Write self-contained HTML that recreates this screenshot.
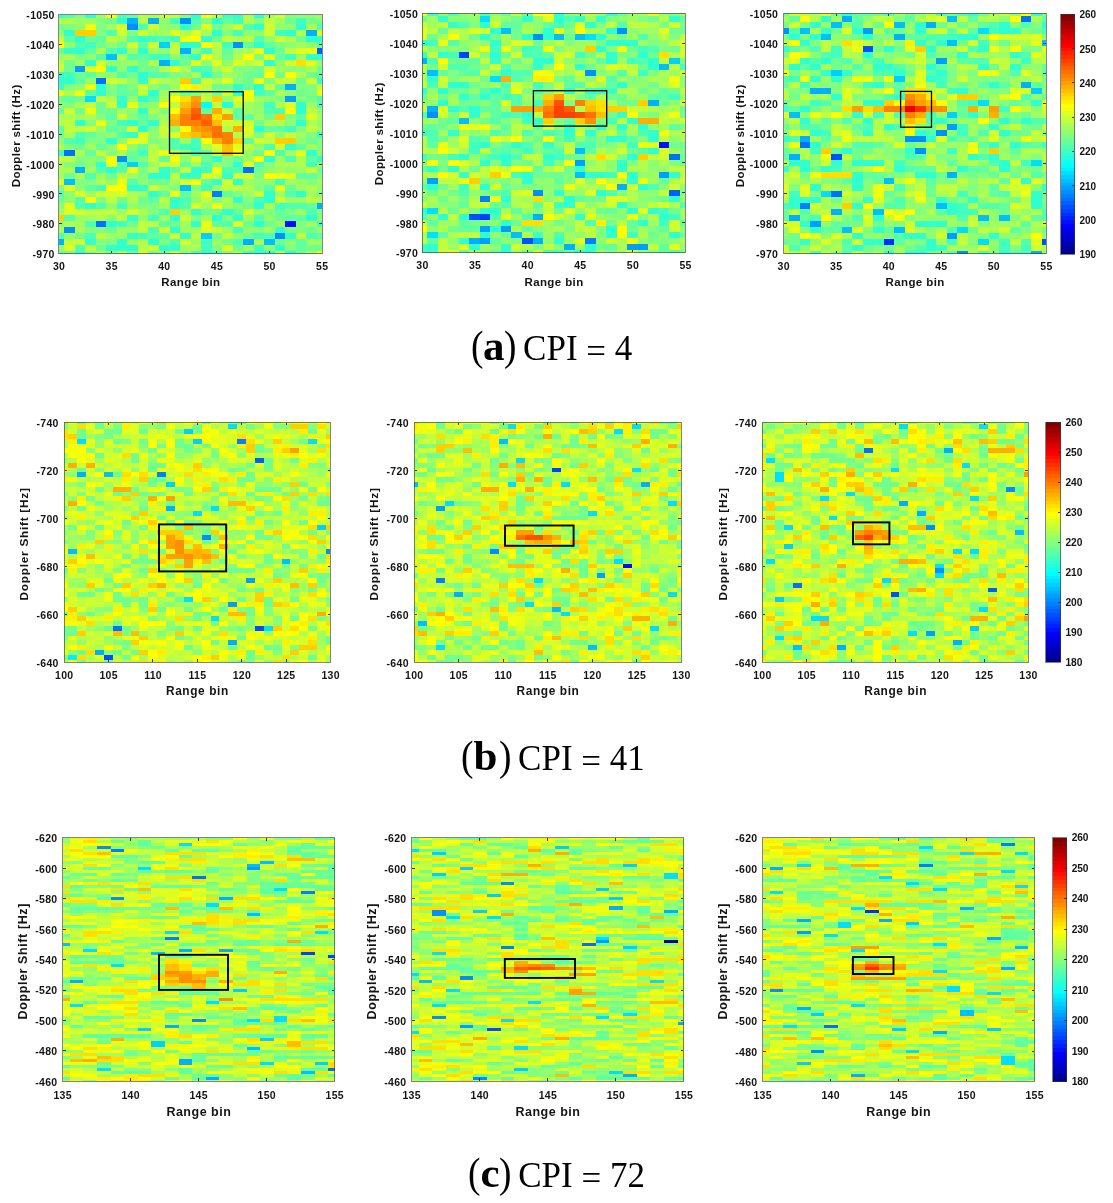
<!DOCTYPE html><html><head><meta charset="utf-8"><style>
html,body{margin:0;padding:0;background:#fff}
#pg{position:relative;width:1113px;height:1203px;overflow:hidden;background:#fff;font-family:"Liberation Sans",sans-serif;font-weight:bold;color:#141414}
.hm{position:absolute;display:block}
.ax{position:absolute;box-sizing:border-box;border:1px solid rgba(55,55,65,.62)}
.tk{position:absolute;background:rgba(38,38,38,.9)}
.t{position:absolute;white-space:nowrap}
.grp{position:absolute;left:0;top:0;width:1113px;height:1203px}
.rc{position:absolute;box-sizing:border-box;border:2px solid #000}
.cp{position:absolute;white-space:nowrap;font-family:"Liberation Serif",serif;font-weight:normal;color:#000}
</style></head><body><div id="pg">

<div class="grp" style="filter:blur(0.55px)">
<svg class="hm" style="left:58.90px;top:14.50px;width:263.20px;height:239.20px" viewBox="0 0 50 80" preserveAspectRatio="none" shape-rendering="crispEdges"><rect x="0" y="0" width="50" height="80" fill="#80ff80"/><g stroke-width="2"><path stroke="#0010ff" d="M43 70h2"/><path stroke="#0060ff" d="M49 12h2"/><path stroke="#0070ff" d="M7 22h2M1 46h2M35 52h2M7 70h2"/><path stroke="#0080ff" d="M29 60h2"/><path stroke="#008fff" d="M23 2h2M13 4h2M33 10h2M11 48h2M1 72h2M41 74h2"/><path stroke="#009fff" d="M3 18h2M43 28h2"/><path stroke="#00afff" d="M13 2h2M17 2h2M47 6h2M23 12h2M19 16h2M43 24h2M3 52h2M49 64h2M-1 76h2M35 76h2"/><path stroke="#00bfff" d="M9 14h2M1 56h2M23 58h2M39 76h2"/><path stroke="#00cfff" d="M19 10h2M13 50h2M27 74h2"/><path stroke="#00dfff" d="M5 28h2"/><path stroke="#00ffff" d="M27 30h2"/><path stroke="#20ffdf" d="M31 30h2"/><path stroke="#30ffcf" d="M-1 0h2M5 0h2M25 0h2M33 0h2M37 0h2M11 2h2M29 2h2M23 4h2M37 4h2M45 4h2M1 6h2M29 6h2M43 6h2M3 8h2M15 8h2M27 8h2M47 8h4M23 10h4M37 10h2M1 12h4M11 12h2M15 12h2M39 12h2M25 14h2M47 14h4M5 16h2M21 16h2M39 16h2M9 18h2M13 18h2M-1 20h2M15 20h2M27 20h2M-1 22h4M15 22h2M49 22h2M7 24h2M33 24h2M37 24h2M7 26h2M17 26h2M33 26h2M11 28h2M15 28h2M11 30h2M45 30h2M15 32h2M45 32h2M3 36h2M13 36h2M17 36h2M45 36h2M15 38h2M37 38h2M13 40h2M9 42h2M43 44h2M47 46h2M29 48h2M39 48h2M49 48h2M7 50h2M33 50h2M9 52h2M19 52h2M25 52h2M17 54h4M23 54h4M31 54h2M29 56h2M33 56h2M13 58h4M17 60h2M39 60h2M45 60h2M21 62h2M33 62h2M39 62h2M5 64h2M21 64h2M37 64h2M25 66h2M31 66h2M13 68h2M21 68h2M29 68h2M33 68h2M47 68h2M9 70h2M25 70h2M37 70h2M21 72h2M41 72h2M13 74h2M23 74h2M43 74h2M5 76h2M11 76h2M17 76h2M9 78h6M19 78h4M41 78h2M3 80h2M27 80h2M37 80h4M43 80h2"/><path stroke="#40ffbf" d="M31 0h2M21 2h2M33 2h2M45 2h2M33 6h2M41 6h2M17 8h2M21 8h2M5 10h2M31 10h2M27 12h2M17 14h4M43 14h2M25 18h2M1 20h2M25 22h2M-1 24h2M37 26h2M39 30h2M11 36h2M43 38h2M49 40h2M3 42h2M25 42h2M23 44h4M-1 46h2M15 46h2M25 46h2M47 50h2M27 52h2M41 56h2M7 58h2M27 58h2M37 62h2M11 64h2M41 64h2M17 68h2M11 70h2M49 70h2M33 72h2M15 74h2M37 74h2M27 76h2M27 78h2M37 78h2M25 80h2M35 80h2"/><path stroke="#50ffaf" d="M1 0h2M11 0h2M25 2h2M15 4h2M35 4h2M49 4h2M9 6h2M13 8h2M19 8h2M37 8h2M3 10h2M9 12h2M7 14h2M13 14h2M27 18h2M11 20h2M17 20h2M17 28h2M49 28h2M49 30h2M39 32h4M3 40h2M11 40h2M1 42h2M21 42h2M21 44h2M39 44h2M41 46h2M43 48h2M11 50h2M15 50h2M27 50h2M37 50h2M7 52h2M11 52h2M31 52h4M5 54h2M13 56h2M-1 60h2M43 60h2M3 62h2M23 62h2M3 64h2M7 64h2M23 64h2M43 64h4M19 66h2M47 66h2M1 68h2M37 68h2M5 70h2M31 70h2M17 72h2M-1 74h2M5 74h2M39 74h2M47 74h2M21 76h2M33 76h2M3 78h2M29 80h2"/><path stroke="#60ff9f" d="M13 0h2M31 2h2M1 8h2M7 8h2M15 10h2M35 10h2M39 10h2M49 10h2M-1 12h2M5 12h2M31 12h2M15 14h2M23 14h2M41 14h2M5 20h2M19 20h2M37 20h2M49 20h2M3 22h2M11 24h2M35 24h2M41 24h2M5 26h2M11 26h2M39 26h2M1 28h2M-1 32h2M27 32h2M33 32h2M9 34h2M15 34h2M33 34h4M45 34h2M15 36h2M-1 38h2M9 38h2M39 38h4M5 40h2M35 42h2M7 44h2M15 44h2M45 44h2M5 46h2M27 46h2M13 48h2M19 48h2M33 48h2M47 48h2M23 50h2M21 52h2M45 54h4M27 56h2M5 58h2M39 58h2M19 60h2M23 60h2M31 60h2M17 62h2M47 64h2M33 66h2M41 66h2M43 68h4M19 70h2M29 70h2M17 74h4M49 74h2M45 76h2M45 78h2"/><path stroke="#70ff8f" d="M9 2h2M43 2h2M47 2h2M-1 4h2M25 4h2M29 4h2M5 8h2M29 8h2M45 8h2M7 10h2M11 10h2M41 12h2M31 14h2M1 16h2M15 16h2M23 16h2M1 18h2M15 18h4M37 18h2M49 18h2M3 20h2M13 20h2M29 20h2M35 20h2M41 20h2M47 20h2M35 22h2M45 22h2M19 24h2M29 24h4M13 26h2M23 26h2M29 26h2M45 26h2M-1 28h2M3 28h2M47 28h2M7 30h2M3 32h2M7 32h4M39 34h2M37 36h2M11 38h2M-1 40h2M47 42h2M3 44h2M13 46h2M37 46h2M27 48h2M3 50h2M37 52h2M49 52h2M1 54h2M9 54h2M17 56h4M43 58h2M-1 62h2M11 62h2M15 62h2M35 64h2M27 66h4M41 68h2M13 70h2M21 70h2M35 70h2M39 70h2M9 72h2M47 72h2M3 74h2M29 74h2M35 74h2M31 76h2M41 76h2M7 78h2M33 78h2M47 78h4M-1 80h4M13 80h2M17 80h2M45 80h2"/><path stroke="#80ff80" d="M3 0h2M23 0h2M43 0h2M7 2h2M27 2h2M37 2h2M49 2h2M1 4h2M7 4h2M7 6h2M13 6h2M31 6h2M41 10h2M3 14h2M37 14h2M33 18h4M21 20h4M33 22h2M39 22h2M1 24h2M9 24h2M13 24h2M45 24h4M9 26h2M25 26h2M47 26h2M41 28h2M45 28h2M1 30h2M15 30h2M19 32h2M7 34h2M13 34h2M17 34h2M43 34h2M5 36h2M9 36h2M17 38h2M45 38h2M7 40h2M37 40h2M47 40h2M5 42h4M17 42h2M49 42h2M1 44h2M49 44h2M9 46h2M3 48h2M7 48h2M15 48h2M31 48h2M1 50h2M31 50h2M39 50h2M15 52h2M15 54h2M37 54h2M49 54h2M3 56h4M47 56h2M-1 58h2M21 58h2M25 58h2M37 58h2M33 60h2M49 60h2M7 62h2M29 62h2M35 62h2M15 64h4M17 66h2M39 66h2M43 66h2M49 66h2M25 68h2M31 68h2M45 70h2M5 72h4M43 72h4M7 76h4M19 76h2M29 78h2M43 78h2M5 80h2M9 80h2M19 80h2M23 80h2M31 80h2"/><path stroke="#8fff70" d="M45 0h4M19 2h2M3 4h2M19 4h4M41 4h4M-1 6h2M35 6h4M39 8h2M1 10h2M9 10h2M43 10h2M47 10h2M19 12h2M25 12h2M5 14h2M21 14h2M9 16h4M27 16h2M31 16h2M41 16h2M49 16h2M11 18h2M43 18h4M7 20h4M33 20h2M5 22h2M13 22h2M3 24h2M17 24h2M43 26h2M13 28h2M31 28h2M39 28h2M-1 30h2M17 30h2M37 30h2M13 32h2M37 32h2M49 32h2M43 36h2M49 36h2M21 38h2M9 40h2M17 40h2M41 40h2M-1 42h2M11 42h2M19 42h2M45 42h2M9 44h2M13 44h2M19 44h2M37 44h2M23 46h2M35 46h2M49 46h2M5 48h2M23 48h2M5 50h2M29 50h2M39 52h2M43 52h2M9 56h2M15 56h2M37 56h4M3 58h2M49 58h2M1 60h2M1 62h2M25 62h2M-1 64h2M9 64h2M13 64h2M33 64h2M9 68h2M15 68h2M39 68h2M49 68h2M-1 70h2M35 72h4M1 74h2M33 74h2M43 76h2M-1 78h2M39 78h2"/><path stroke="#9fff60" d="M7 0h2M39 0h2M49 0h2M3 2h4M41 2h2M9 4h2M31 4h2M17 6h4M27 6h2M11 8h2M45 10h2M13 12h2M17 12h2M33 12h2M-1 14h2M45 14h2M3 16h2M13 16h2M29 18h2M41 18h2M31 20h2M21 22h2M21 24h2M19 26h2M37 28h2M35 30h2M47 30h2M11 32h2M35 32h2M3 34h2M19 34h2M37 34h2M49 34h2M7 38h2M49 38h2M45 40h2M23 42h2M5 44h2M47 44h2M43 46h2M35 48h2M41 48h2M-1 50h2M17 50h2M25 50h2M49 50h2M5 52h2M41 52h2M45 52h2M-1 54h2M7 54h2M13 54h2M21 56h2M35 56h2M43 56h4M49 56h2M19 58h2M29 58h2M45 58h2M5 60h2M15 60h2M25 60h2M35 60h2M41 60h2M47 60h2M43 62h4M19 64h2M27 64h2M31 64h2M-1 66h2M11 66h2M23 66h2M37 66h2M45 66h2M3 68h4M19 68h2M27 68h2M35 68h2M3 70h2M23 70h2M41 70h2M47 70h2M11 72h4M23 72h4M31 72h2M39 72h2M49 72h2M9 74h4M13 76h2M25 76h2M29 76h2M47 76h4M23 78h2M35 78h2M7 80h2M33 80h2M47 80h2"/><path stroke="#afff50" d="M17 0h2M35 0h2M-1 2h4M15 2h2M35 2h2M47 4h2M23 6h2M45 6h2M33 8h2M43 8h2M7 12h2M29 12h2M35 12h2M1 14h2M11 14h2M29 14h2M33 14h2M17 16h2M19 18h2M23 18h2M47 18h2M25 20h2M45 20h2M19 22h2M29 22h2M1 26h2M21 26h2M27 26h2M41 26h2M9 28h2M19 28h2M3 30h2M41 30h2M17 32h2M-1 34h4M5 34h2M-1 36h2M19 36h2M39 36h4M47 36h2M31 38h2M1 40h2M33 40h2M-1 44h2M17 44h2M27 44h2M3 46h2M11 46h2M45 48h2M41 50h6M-1 52h4M17 52h2M3 54h2M7 56h2M35 58h2M47 58h2M13 60h2M13 62h2M31 62h2M49 62h2M39 64h2M15 66h2M7 68h2M1 70h2M-1 72h2M3 72h2M15 76h2M37 76h2M25 78h2M11 80h2M41 80h2"/><path stroke="#bfff40" d="M15 0h2M21 0h2M29 0h2M39 2h2M-1 8h2M9 8h2M31 8h2M35 8h2M21 10h2M29 10h2M21 12h2M43 12h2M-1 16h2M35 16h2M11 22h2M43 22h2M27 24h2M39 24h2M15 26h2M7 28h2M27 28h2M5 30h2M21 30h2M29 30h2M33 30h2M47 32h2M1 36h2M1 38h4M47 38h2M19 40h2M43 40h2M39 42h2M35 44h2M7 46h2M17 46h2M21 46h2M-1 48h4M17 48h2M23 52h2M11 54h2M21 54h2M31 58h4M9 62h2M19 62h2M27 62h2M47 62h2M5 66h6M11 68h2M15 70h4M15 72h2M7 74h2M25 74h2M31 74h2M45 74h2M1 76h2M5 78h2M15 78h2"/><path stroke="#cfff30" d="M19 0h2M41 0h2M17 4h2M33 4h2M39 4h2M11 6h2M15 6h2M39 6h2M41 8h2M13 10h2M17 10h2M7 16h2M37 16h2M43 16h2M-1 18h2M31 18h2M39 18h2M9 22h2M17 22h2M27 22h2M41 22h2M47 22h2M15 24h2M49 24h2M31 26h2M9 30h2M1 32h2M31 32h2M11 34h2M31 36h6M5 38h2M13 38h2M19 38h2M35 40h2M39 40h2M37 42h2M41 44h2M29 46h2M19 50h4M47 52h2M29 54h2M33 54h4M31 56h2M17 58h2M7 60h4M37 60h2M41 62h2M3 66h2M35 66h2M23 68h2M19 72h2M29 72h2M21 74h2M3 76h2M23 76h2M17 78h2M15 80h2M21 80h2"/><path stroke="#dfff20" d="M11 4h2M27 4h2M21 6h2M25 6h2M49 6h2M45 12h2M25 16h2M29 16h2M33 16h2M47 16h2M5 18h2M21 18h2M31 22h2M-1 26h2M33 28h4M43 30h2M47 34h2M35 38h2M15 40h2M21 40h2M15 42h2M29 44h2M33 44h2M45 46h2M25 48h2M27 54h2M43 54h2M-1 56h2M23 56h2M1 58h2M3 60h2M11 60h2M1 64h2M25 64h2M1 66h2M13 66h2M33 70h2M27 72h2M1 78h2M31 78h2"/><path stroke="#efff10" d="M27 0h2M5 4h2M23 8h2M37 12h2M47 12h2M27 14h2M39 14h2M37 22h2M5 24h2M3 26h2M49 26h2M13 30h2M5 32h2M7 36h2M13 42h2M19 46h2M9 50h2M35 50h2M13 52h2M29 52h2M41 54h2M11 56h2M41 58h2M21 60h2M27 60h2M29 64h2M27 70h2M49 80h2"/><path stroke="#ffff00" d="M9 0h2M25 8h2M-1 10h2M27 10h2M35 14h2M7 18h2M39 20h2M43 20h2M23 24h2M35 26h2M21 28h2M19 30h2M21 32h2M43 32h2M23 38h2M27 42h2M11 44h2M33 46h2M39 46h2M9 48h2M21 48h2M37 48h2M39 54h2M25 56h2M9 58h4M5 62h2"/><path stroke="#ffef00" d="M25 24h2"/><path stroke="#ffdf00" d="M45 16h2M23 28h2M29 34h2"/><path stroke="#ffcf00" d="M3 6h4M23 22h2M29 28h2M41 34h2M23 40h2M33 42h2M41 42h4M21 66h2M-1 68h2"/><path stroke="#ffbf00" d="M23 30h2M21 34h2M29 36h2M25 40h2M31 44h2M31 46h2"/><path stroke="#ffaf00" d="M29 32h2M21 36h2M33 38h2M29 42h2"/><path stroke="#ff9f00" d="M25 28h2M23 32h2M31 34h2M25 38h2M27 40h2"/><path stroke="#ff8f00" d="M25 30h2M27 38h2"/><path stroke="#ff8000" d="M23 34h2M23 36h4M31 40h2M31 42h2"/><path stroke="#ff7000" d="M27 34h2M29 38h2M29 40h2"/><path stroke="#ff6000" d="M25 32h2M27 36h2"/><path stroke="#ff5000" d="M25 34h2"/></g></svg>
<div class="ax" style="left:58.40px;top:14.00px;width:264.20px;height:240.20px"></div>
<div class="t" style="left:29.05px;top:261.37px;font-size:10.50px;line-height:10.50px;letter-spacing:0.30px;width:60px;text-align:center">30</div>
<div class="t" style="left:81.69px;top:261.37px;font-size:10.50px;line-height:10.50px;letter-spacing:0.30px;width:60px;text-align:center">35</div>
<div class="tk" style="left:111.04px;top:250.70px;width:1px;height:2.5px"></div>
<div class="tk" style="left:111.04px;top:15.00px;width:1px;height:2.5px"></div>
<div class="t" style="left:134.33px;top:261.37px;font-size:10.50px;line-height:10.50px;letter-spacing:0.30px;width:60px;text-align:center">40</div>
<div class="tk" style="left:163.68px;top:250.70px;width:1px;height:2.5px"></div>
<div class="tk" style="left:163.68px;top:15.00px;width:1px;height:2.5px"></div>
<div class="t" style="left:186.97px;top:261.37px;font-size:10.50px;line-height:10.50px;letter-spacing:0.30px;width:60px;text-align:center">45</div>
<div class="tk" style="left:216.32px;top:250.70px;width:1px;height:2.5px"></div>
<div class="tk" style="left:216.32px;top:15.00px;width:1px;height:2.5px"></div>
<div class="t" style="left:239.61px;top:261.37px;font-size:10.50px;line-height:10.50px;letter-spacing:0.30px;width:60px;text-align:center">50</div>
<div class="tk" style="left:268.96px;top:250.70px;width:1px;height:2.5px"></div>
<div class="tk" style="left:268.96px;top:15.00px;width:1px;height:2.5px"></div>
<div class="t" style="left:292.25px;top:261.37px;font-size:10.50px;line-height:10.50px;letter-spacing:0.30px;width:60px;text-align:center">55</div>
<div class="t" style="left:-5.30px;top:10.17px;font-size:10.50px;line-height:10.50px;letter-spacing:0.30px;width:60px;text-align:right">-1050</div>
<div class="t" style="left:-5.30px;top:40.07px;font-size:10.50px;line-height:10.50px;letter-spacing:0.30px;width:60px;text-align:right">-1040</div>
<div class="tk" style="left:59.40px;top:43.90px;width:2.5px;height:1px"></div>
<div class="tk" style="left:319.10px;top:43.90px;width:2.5px;height:1px"></div>
<div class="t" style="left:-5.30px;top:69.97px;font-size:10.50px;line-height:10.50px;letter-spacing:0.30px;width:60px;text-align:right">-1030</div>
<div class="tk" style="left:59.40px;top:73.80px;width:2.5px;height:1px"></div>
<div class="tk" style="left:319.10px;top:73.80px;width:2.5px;height:1px"></div>
<div class="t" style="left:-5.30px;top:99.87px;font-size:10.50px;line-height:10.50px;letter-spacing:0.30px;width:60px;text-align:right">-1020</div>
<div class="tk" style="left:59.40px;top:103.70px;width:2.5px;height:1px"></div>
<div class="tk" style="left:319.10px;top:103.70px;width:2.5px;height:1px"></div>
<div class="t" style="left:-5.30px;top:129.77px;font-size:10.50px;line-height:10.50px;letter-spacing:0.30px;width:60px;text-align:right">-1010</div>
<div class="tk" style="left:59.40px;top:133.60px;width:2.5px;height:1px"></div>
<div class="tk" style="left:319.10px;top:133.60px;width:2.5px;height:1px"></div>
<div class="t" style="left:-5.30px;top:159.67px;font-size:10.50px;line-height:10.50px;letter-spacing:0.30px;width:60px;text-align:right">-1000</div>
<div class="tk" style="left:59.40px;top:163.50px;width:2.5px;height:1px"></div>
<div class="tk" style="left:319.10px;top:163.50px;width:2.5px;height:1px"></div>
<div class="t" style="left:-5.30px;top:189.57px;font-size:10.50px;line-height:10.50px;letter-spacing:0.30px;width:60px;text-align:right">-990</div>
<div class="tk" style="left:59.40px;top:193.40px;width:2.5px;height:1px"></div>
<div class="tk" style="left:319.10px;top:193.40px;width:2.5px;height:1px"></div>
<div class="t" style="left:-5.30px;top:219.47px;font-size:10.50px;line-height:10.50px;letter-spacing:0.30px;width:60px;text-align:right">-980</div>
<div class="tk" style="left:59.40px;top:223.30px;width:2.5px;height:1px"></div>
<div class="tk" style="left:319.10px;top:223.30px;width:2.5px;height:1px"></div>
<div class="t" style="left:-5.30px;top:249.37px;font-size:10.50px;line-height:10.50px;letter-spacing:0.30px;width:60px;text-align:right">-970</div>
<div class="t" style="left:110.95px;top:276.87px;font-size:11.50px;line-height:11.50px;letter-spacing:0.40px;width:160px;text-align:center">Range bin</div>
<div class="t" style="left:-84.42px;top:130.22px;width:200px;height:11.60px;font-size:11.60px;line-height:11.60px;letter-spacing:0.35px;text-align:center;transform:rotate(-90deg)">Doppler shift (Hz)</div>
<svg class="hm" style="left:422.25px;top:13.10px;width:263.15px;height:239.70px" viewBox="0 0 50 80" preserveAspectRatio="none" shape-rendering="crispEdges"><rect x="0" y="0" width="50" height="80" fill="#80ff80"/><g stroke-width="2"><path stroke="#0010ff" d="M45 44h2"/><path stroke="#0040ff" d="M7 14h2M11 68h2"/><path stroke="#0050ff" d="M9 68h2M19 76h2"/><path stroke="#0060ff" d="M47 60h2"/><path stroke="#0070ff" d="M47 48h2"/><path stroke="#0080ff" d="M11 62h2M31 76h2"/><path stroke="#008fff" d="M37 6h2M21 8h2M31 20h2M1 34h2M21 60h2"/><path stroke="#009fff" d="M29 50h2M45 54h2M1 56h2M11 72h2M15 72h2M11 76h2M39 78h4"/><path stroke="#00afff" d="M-1 16h2M43 30h2M1 32h2M37 58h2M21 68h2M9 76h2M21 76h2M27 78h2"/><path stroke="#00bfff" d="M15 6h2M25 8h2M29 8h2M45 18h2M1 20h2M7 36h2M29 46h2M29 54h2M17 74h2"/><path stroke="#00cfff" d="M47 16h2"/><path stroke="#00dfff" d="M11 2h2M31 8h2M13 22h2M1 66h2M1 74h2"/><path stroke="#30ffcf" d="M25 0h2M35 0h2M3 2h2M19 2h2M25 2h2M29 2h2M33 2h2M47 2h2M5 4h2M11 4h2M31 4h2M13 6h2M23 6h2M35 6h2M11 8h2M19 8h2M23 8h2M33 8h2M-1 10h2M13 10h2M35 10h6M33 12h2M-1 14h2M3 14h2M13 14h2M35 14h2M41 14h2M13 16h2M21 16h4M35 16h2M43 16h2M21 18h2M29 18h2M43 18h2M15 20h2M1 22h2M5 24h4M37 24h2M-1 26h2M3 26h2M13 26h2M27 26h2M31 26h4M7 28h2M11 28h2M3 30h2M5 32h2M9 32h2M9 34h2M19 34h2M37 34h2M21 36h2M39 36h2M27 38h2M33 38h2M37 38h2M41 38h2M-1 40h2M5 40h2M27 40h2M31 40h2M43 40h2M35 42h4M43 42h2M11 44h2M17 44h2M23 44h2M43 46h2M7 48h2M15 48h2M23 48h2M39 48h2M11 50h2M15 50h2M37 50h2M1 52h2M5 52h2M29 52h2M37 52h2M7 54h2M19 54h2M31 54h4M39 54h2M47 54h2M19 56h2M39 56h2M1 58h2M11 58h2M41 58h2M25 60h2M33 60h2M15 62h2M27 62h2M47 62h2M27 64h2M37 64h2M-1 66h2M11 66h4M39 66h2M43 66h2M3 68h2M7 68h2M29 68h2M45 68h2M15 70h2M41 70h2M13 72h2M35 72h2M11 74h2M35 74h2M47 74h2M7 76h2M25 76h2M1 78h2M9 78h2M15 78h2M31 78h2M15 80h2M29 80h4"/><path stroke="#40ffbf" d="M1 0h2M25 4h2M1 10h2M13 12h2M19 12h2M41 12h2M5 14h2M29 14h2M39 16h2M49 18h2M41 20h2M21 24h2M35 26h2M15 28h2M47 28h2M21 30h2M15 34h2M19 36h2M35 36h2M23 40h2M27 42h2M9 44h2M39 44h2M9 46h2M19 46h2M-1 48h2M5 48h2M13 48h2M25 48h2M23 50h2M17 54h2M35 54h2M7 58h2M25 64h2M45 66h2M47 68h2M45 70h2M21 74h2M39 74h2M-1 78h2M-1 80h4M23 80h4"/><path stroke="#50ffaf" d="M5 0h2M11 0h2M27 2h2M7 4h2M37 4h2M41 8h2M5 10h2M21 12h2M43 12h2M19 14h4M1 16h2M41 16h2M5 18h4M15 18h2M9 20h2M17 20h4M37 20h2M17 22h2M35 22h2M1 24h2M15 24h2M29 24h2M11 26h2M21 26h2M17 28h2M17 30h2M7 32h2M-1 34h2M17 34h2M13 36h2M1 40h2M13 40h2M19 40h2M41 40h2M1 42h2M9 42h2M19 44h2M29 44h4M15 46h2M25 46h2M41 46h2M17 48h2M43 58h2M7 60h2M15 60h2M35 60h2M15 64h2M49 64h2M-1 68h2M13 68h2M19 68h2M31 70h2M25 74h2M47 80h2"/><path stroke="#60ff9f" d="M15 0h2M37 0h2M49 2h2M15 4h4M23 4h2M3 6h2M23 14h2M9 16h2M33 16h2M3 20h2M7 20h2M27 22h2M27 24h2M35 24h2M15 26h2M45 26h2M-1 28h2M9 28h2M13 28h2M31 28h2M43 28h4M13 30h2M11 32h4M13 34h2M5 36h2M27 36h2M1 38h2M15 38h2M21 38h2M47 38h2M25 40h2M37 40h2M11 42h2M31 42h2M39 42h2M1 44h2M15 44h2M13 46h2M23 46h2M31 46h2M11 48h2M21 52h2M25 56h2M45 56h2M-1 58h2M13 60h2M29 62h2M7 64h2M21 64h2M17 66h2M35 66h2M1 70h2M7 70h2M39 70h2M49 70h2M7 72h4M19 72h2M45 72h2M3 74h2M1 76h2M13 76h2M35 78h2M45 78h2M7 80h2M13 80h2M45 80h2"/><path stroke="#70ff8f" d="M19 0h2M-1 2h2M17 2h2M43 2h2M27 4h2M17 6h2M47 6h4M1 8h2M9 8h2M13 8h2M17 8h2M27 8h2M37 8h2M21 10h2M33 10h2M39 12h2M47 12h2M15 14h2M31 14h2M43 14h2M5 16h4M17 16h2M1 18h2M9 18h2M31 18h2M41 18h2M11 22h2M19 22h2M9 24h2M43 24h2M5 26h4M41 26h2M47 26h2M3 28h2M35 28h4M7 30h4M37 30h4M45 30h2M49 32h2M35 34h2M49 34h2M3 36h2M11 36h2M-1 38h2M3 38h2M15 40h2M3 42h2M21 42h2M25 42h2M47 44h4M17 46h2M39 46h2M1 48h4M27 48h4M49 48h2M19 50h2M49 50h2M-1 52h2M3 52h2M9 52h2M27 52h2M21 54h6M3 58h2M15 58h2M1 60h2M5 60h2M3 62h2M7 62h2M31 62h4M45 62h2M13 64h2M5 66h2M25 66h2M33 66h2M47 66h2M9 70h2M17 70h2M25 70h2M35 70h2M5 72h2M39 72h2M15 74h2M43 74h2M49 74h2M33 78h2M19 80h2M27 80h2"/><path stroke="#80ff80" d="M27 0h2M47 0h2M7 2h2M35 2h2M41 2h2M9 4h2M33 4h2M45 4h2M49 4h2M27 6h2M47 8h2M27 10h2M43 10h2M3 12h2M7 12h2M25 12h2M35 12h2M45 12h2M11 14h2M37 14h4M29 16h2M49 16h2M11 18h2M19 18h2M5 20h2M13 20h2M33 20h2M43 20h2M5 22h2M25 22h2M39 22h2M23 24h2M19 26h2M23 26h2M21 28h2M29 28h2M27 30h2M5 34h2M43 34h2M15 36h2M25 36h2M33 36h2M49 38h2M21 40h2M33 42h2M41 42h2M13 44h2M25 44h2M33 44h4M21 46h2M49 46h2M37 48h2M-1 50h2M3 50h2M13 50h2M17 50h2M25 50h2M39 50h2M47 50h2M27 54h2M11 56h2M15 56h2M27 56h2M17 58h6M25 58h2M11 60h2M37 60h2M49 60h2M-1 62h2M43 62h2M5 64h2M39 64h2M9 66h2M21 66h2M37 68h2M41 68h2M11 70h2M21 72h2M27 72h2M33 72h2M43 72h2M33 74h2M17 76h2M43 76h4M21 78h2M35 80h2M43 80h2M49 80h2"/><path stroke="#8fff70" d="M3 0h2M7 0h2M13 0h2M5 2h2M9 2h2M15 2h2M21 2h2M37 2h2M21 4h2M21 6h2M39 6h2M35 8h2M43 8h2M7 10h2M11 10h2M45 10h2M1 12h2M5 12h2M17 12h2M27 16h2M17 18h2M23 18h2M31 22h2M41 22h2M49 22h2M11 24h2M39 24h4M49 24h2M1 26h2M9 26h2M43 26h2M1 30h2M11 30h2M19 30h2M47 30h2M41 34h2M9 36h2M5 38h2M25 38h2M31 38h2M43 38h2M9 40h2M19 42h2M29 42h2M47 42h2M21 44h2M9 48h2M31 50h2M35 50h2M43 50h2M35 52h2M43 52h4M41 54h2M-1 56h2M13 56h2M21 56h4M31 56h2M23 58h2M45 58h2M49 58h2M9 60h2M23 60h2M29 60h2M41 60h4M23 62h2M41 62h2M3 64h2M31 64h2M41 64h2M29 66h2M37 66h2M1 68h2M35 68h2M13 70h2M27 70h2M1 72h2M49 72h2M13 74h2M29 74h2M45 74h2M5 76h2M15 76h2M23 76h2M33 76h2M41 76h2M47 76h2M13 78h2M25 78h2M49 78h2M11 80h2M41 80h2"/><path stroke="#9fff60" d="M9 0h2M29 0h2M33 0h2M39 0h2M45 0h2M49 0h2M1 2h2M31 2h2M39 2h2M1 4h2M19 4h2M33 6h2M41 6h4M39 8h2M9 10h2M15 10h2M23 10h2M29 10h4M41 10h2M29 12h2M19 16h2M31 16h2M37 16h2M33 18h2M27 20h2M35 20h2M47 20h2M7 22h2M37 22h2M45 22h2M13 24h2M33 24h2M5 28h2M19 28h2M39 28h4M49 28h2M-1 30h2M5 30h2M15 32h2M45 32h2M11 34h2M-1 36h4M17 36h2M13 38h2M35 38h2M45 38h2M3 40h2M7 40h2M11 40h2M33 40h2M39 40h2M5 42h2M5 44h2M7 46h2M35 46h2M47 46h2M43 54h2M17 56h2M43 56h2M5 58h2M-1 60h2M3 60h2M27 60h2M5 62h2M19 62h2M49 62h2M1 64h2M19 66h2M49 66h2M17 68h2M27 68h2M33 68h2M49 68h2M3 70h4M23 70h2M43 70h2M23 72h2M41 72h2M23 74h2M27 74h2M27 76h2M5 78h2M11 78h2M29 78h2M17 80h2M33 80h2M37 80h2"/><path stroke="#afff50" d="M41 0h2M13 2h2M45 2h2M43 4h2M7 6h2M19 6h2M31 6h2M3 8h2M7 8h2M15 8h2M9 12h2M27 12h2M33 14h2M47 14h2M15 16h2M27 18h2M-1 20h2M25 20h2M45 20h2M-1 22h2M9 22h2M29 22h2M43 22h2M19 24h2M45 24h2M29 26h2M37 26h4M1 28h2M33 28h2M35 30h2M29 32h2M43 32h2M47 32h2M47 36h2M19 38h2M29 38h2M39 38h2M17 40h2M47 40h2M-1 42h2M49 42h2M-1 44h2M37 44h2M1 46h2M33 46h2M9 50h2M21 50h2M33 50h2M41 50h2M45 50h2M7 52h2M23 52h2M31 52h4M39 52h4M-1 54h4M47 56h2M29 58h6M39 60h2M1 62h2M9 62h2M17 62h2M25 62h2M39 62h2M17 64h2M33 64h2M47 64h2M3 66h2M7 66h2M15 66h2M43 68h2M3 72h2M17 72h2M25 72h2M-1 74h2M5 74h2M19 74h2M41 74h2M37 76h2M49 76h2M19 78h2M37 78h2M9 80h2"/><path stroke="#bfff40" d="M17 0h2M31 0h2M3 4h2M35 4h2M39 4h4M1 6h2M5 6h2M45 8h2M49 8h2M25 10h2M47 10h2M-1 12h2M1 14h2M11 16h2M45 16h2M-1 18h2M39 18h2M47 18h2M39 20h2M-1 24h2M3 24h2M25 24h2M31 24h2M25 26h2M49 26h2M27 28h2M-1 32h2M41 32h2M21 34h2M45 34h2M37 36h2M45 36h2M17 38h2M35 40h2M49 40h2M45 42h2M27 44h2M-1 46h2M11 46h2M19 48h4M31 48h2M43 48h2M11 52h2M15 52h2M47 52h4M11 54h2M49 54h2M3 56h4M35 56h4M9 58h2M45 60h2M9 64h2M19 64h2M43 64h2M23 66h2M31 66h2M5 68h2M29 70h2M37 70h2M29 72h4M7 74h4M31 74h2M-1 76h2M3 76h2M3 78h2M23 78h2M43 78h2"/><path stroke="#cfff30" d="M-1 4h2M13 4h2M47 4h2M11 6h2M19 10h2M49 12h2M9 14h2M17 14h2M25 14h4M49 14h2M25 16h2M3 18h2M13 18h2M37 18h2M11 20h2M29 20h2M49 20h2M3 22h2M17 24h2M49 30h2M39 32h2M3 34h2M7 34h2M49 36h2M29 40h2M15 42h2M7 44h2M5 46h2M27 46h2M37 46h2M35 48h2M45 48h2M25 52h2M5 54h2M9 54h2M49 56h2M13 58h2M39 58h2M47 58h2M17 60h2M-1 64h2M11 64h2M23 64h2M29 64h2M35 64h2M45 64h2M25 68h2M-1 70h2M47 70h2M47 72h2M35 76h2M17 78h2M3 80h2M21 80h2"/><path stroke="#dfff20" d="M23 2h2M29 4h2M-1 6h2M9 6h2M45 6h2M-1 8h2M17 10h2M49 10h2M35 18h2M33 22h2M47 24h2M15 30h2M3 32h2M9 38h2M23 38h2M7 42h2M43 44h2M45 46h2M7 50h2M13 52h2M29 56h2M19 60h2M31 60h2M35 62h4M27 66h2M41 66h2M15 68h2M31 68h2M29 76h2M7 78h2M47 78h2M5 80h2M39 80h2"/><path stroke="#efff10" d="M43 0h2M25 6h2M3 10h2M11 12h2M15 12h2M23 12h2M37 12h2M23 20h2M47 22h2M17 26h2M47 34h2M7 38h2M11 38h2M45 40h2M13 42h2M3 44h2M41 44h2M19 52h2M15 54h2M7 56h2M41 56h2M27 58h2M13 62h2M39 68h2M39 76h2"/><path stroke="#ffff00" d="M-1 0h2M21 0h4M29 6h2M5 8h2M3 16h2M25 18h2M21 20h2M39 34h2M17 42h2M23 42h2M3 46h2M1 50h2M5 50h2M27 50h2M17 52h2M3 54h2M37 54h2M33 56h2M35 58h2M23 68h2M-1 72h2M37 72h2M37 74h2"/><path stroke="#ffef00" d="M21 22h4M33 70h2"/><path stroke="#ffdf00" d="M45 14h2M33 30h2M33 32h2M33 48h2M21 62h2M19 70h4"/><path stroke="#ffcf00" d="M31 12h2M23 28h2M31 30h2M41 30h2M35 32h4M23 36h2M29 36h2M41 48h2M13 54h2M9 56h2"/><path stroke="#ffbf00" d="M31 32h2M33 34h2"/><path stroke="#ffaf00" d="M15 22h2M23 30h2M21 32h2M41 36h4"/><path stroke="#ff9f00" d="M25 28h2M17 32h4"/><path stroke="#ff8f00" d="M31 36h2"/><path stroke="#ff8000" d="M29 30h2M23 32h2"/><path stroke="#ff7000" d="M23 34h2M31 34h2"/><path stroke="#ff6000" d="M27 32h2"/><path stroke="#ff5000" d="M25 30h2M29 34h2"/><path stroke="#ff4000" d="M25 32h2M25 34h4"/></g></svg>
<div class="ax" style="left:421.75px;top:12.60px;width:264.15px;height:240.70px"></div>
<div class="t" style="left:392.40px;top:260.47px;font-size:10.50px;line-height:10.50px;letter-spacing:0.30px;width:60px;text-align:center">30</div>
<div class="t" style="left:445.03px;top:260.47px;font-size:10.50px;line-height:10.50px;letter-spacing:0.30px;width:60px;text-align:center">35</div>
<div class="tk" style="left:474.38px;top:249.80px;width:1px;height:2.5px"></div>
<div class="tk" style="left:474.38px;top:13.60px;width:1px;height:2.5px"></div>
<div class="t" style="left:497.66px;top:260.47px;font-size:10.50px;line-height:10.50px;letter-spacing:0.30px;width:60px;text-align:center">40</div>
<div class="tk" style="left:527.01px;top:249.80px;width:1px;height:2.5px"></div>
<div class="tk" style="left:527.01px;top:13.60px;width:1px;height:2.5px"></div>
<div class="t" style="left:550.29px;top:260.47px;font-size:10.50px;line-height:10.50px;letter-spacing:0.30px;width:60px;text-align:center">45</div>
<div class="tk" style="left:579.64px;top:249.80px;width:1px;height:2.5px"></div>
<div class="tk" style="left:579.64px;top:13.60px;width:1px;height:2.5px"></div>
<div class="t" style="left:602.92px;top:260.47px;font-size:10.50px;line-height:10.50px;letter-spacing:0.30px;width:60px;text-align:center">50</div>
<div class="tk" style="left:632.27px;top:249.80px;width:1px;height:2.5px"></div>
<div class="tk" style="left:632.27px;top:13.60px;width:1px;height:2.5px"></div>
<div class="t" style="left:655.55px;top:260.47px;font-size:10.50px;line-height:10.50px;letter-spacing:0.30px;width:60px;text-align:center">55</div>
<div class="t" style="left:358.10px;top:8.77px;font-size:10.50px;line-height:10.50px;letter-spacing:0.30px;width:60px;text-align:right">-1050</div>
<div class="t" style="left:358.10px;top:38.73px;font-size:10.50px;line-height:10.50px;letter-spacing:0.30px;width:60px;text-align:right">-1040</div>
<div class="tk" style="left:422.75px;top:42.56px;width:2.5px;height:1px"></div>
<div class="tk" style="left:682.40px;top:42.56px;width:2.5px;height:1px"></div>
<div class="t" style="left:358.10px;top:68.70px;font-size:10.50px;line-height:10.50px;letter-spacing:0.30px;width:60px;text-align:right">-1030</div>
<div class="tk" style="left:422.75px;top:72.53px;width:2.5px;height:1px"></div>
<div class="tk" style="left:682.40px;top:72.53px;width:2.5px;height:1px"></div>
<div class="t" style="left:358.10px;top:98.66px;font-size:10.50px;line-height:10.50px;letter-spacing:0.30px;width:60px;text-align:right">-1020</div>
<div class="tk" style="left:422.75px;top:102.49px;width:2.5px;height:1px"></div>
<div class="tk" style="left:682.40px;top:102.49px;width:2.5px;height:1px"></div>
<div class="t" style="left:358.10px;top:128.62px;font-size:10.50px;line-height:10.50px;letter-spacing:0.30px;width:60px;text-align:right">-1010</div>
<div class="tk" style="left:422.75px;top:132.45px;width:2.5px;height:1px"></div>
<div class="tk" style="left:682.40px;top:132.45px;width:2.5px;height:1px"></div>
<div class="t" style="left:358.10px;top:158.58px;font-size:10.50px;line-height:10.50px;letter-spacing:0.30px;width:60px;text-align:right">-1000</div>
<div class="tk" style="left:422.75px;top:162.41px;width:2.5px;height:1px"></div>
<div class="tk" style="left:682.40px;top:162.41px;width:2.5px;height:1px"></div>
<div class="t" style="left:358.10px;top:188.55px;font-size:10.50px;line-height:10.50px;letter-spacing:0.30px;width:60px;text-align:right">-990</div>
<div class="tk" style="left:422.75px;top:192.38px;width:2.5px;height:1px"></div>
<div class="tk" style="left:682.40px;top:192.38px;width:2.5px;height:1px"></div>
<div class="t" style="left:358.10px;top:218.51px;font-size:10.50px;line-height:10.50px;letter-spacing:0.30px;width:60px;text-align:right">-980</div>
<div class="tk" style="left:422.75px;top:222.34px;width:2.5px;height:1px"></div>
<div class="tk" style="left:682.40px;top:222.34px;width:2.5px;height:1px"></div>
<div class="t" style="left:358.10px;top:248.47px;font-size:10.50px;line-height:10.50px;letter-spacing:0.30px;width:60px;text-align:right">-970</div>
<div class="t" style="left:474.03px;top:276.87px;font-size:11.50px;line-height:11.50px;letter-spacing:0.40px;width:160px;text-align:center">Range bin</div>
<div class="t" style="left:279.38px;top:128.32px;width:200px;height:11.60px;font-size:11.60px;line-height:11.60px;letter-spacing:0.35px;text-align:center;transform:rotate(-90deg)">Doppler shift (Hz)</div>
<svg class="hm" style="left:783.50px;top:13.10px;width:262.80px;height:240.70px" viewBox="0 0 50 80" preserveAspectRatio="none" shape-rendering="crispEdges"><rect x="0" y="0" width="50" height="80" fill="#80ff80"/><g stroke-width="2"><path stroke="#0030ff" d="M19 76h2"/><path stroke="#0050ff" d="M15 12h2M9 48h2M49 76h2"/><path stroke="#0070ff" d="M45 2h2M3 44h2M9 60h2"/><path stroke="#0080ff" d="M3 64h2"/><path stroke="#008fff" d="M-1 6h2M29 40h2M23 42h4M25 46h2M33 80h2"/><path stroke="#009fff" d="M15 6h2M29 16h2M31 38h2M5 70h2M31 74h2"/><path stroke="#00afff" d="M11 2h2M27 4h2M21 8h2M45 24h2M5 26h4M3 42h2M1 48h2M31 54h2M9 66h2M1 68h2M47 80h2"/><path stroke="#00bfff" d="M31 2h2M9 4h2M21 4h2M3 6h2M7 8h2M31 10h2M49 10h2M1 34h2M19 56h2M29 64h2M17 66h2M37 68h2M41 68h2M11 72h2M21 72h2"/><path stroke="#00cfff" d="M9 20h2M21 22h2M47 26h2M31 34h2"/><path stroke="#00dfff" d="M37 6h2M37 30h2M47 50h2M7 60h2M33 72h2M37 76h2"/><path stroke="#30ffcf" d="M11 0h2M35 0h2M47 0h2M7 2h2M5 4h2M25 4h2M41 4h2M49 4h2M7 6h2M13 6h2M25 6h2M41 6h4M1 8h2M5 8h2M15 8h2M33 8h4M3 10h2M25 10h2M29 10h2M-1 12h2M19 12h2M27 12h2M37 12h2M15 14h2M33 14h2M43 14h2M3 16h2M7 16h2M1 18h2M5 18h2M17 18h4M27 18h2M37 18h2M43 18h2M7 20h2M11 20h2M21 20h2M29 20h2M5 22h2M9 22h2M27 22h2M17 24h2M39 24h2M33 26h2M9 28h2M21 28h2M15 30h4M47 30h2M3 32h2M13 34h2M35 34h2M3 36h2M15 36h2M29 36h2M41 36h2M45 36h2M19 38h2M39 38h2M5 40h2M15 40h2M25 40h2M41 40h2M-1 42h2M27 42h2M5 44h2M39 44h2M43 44h2M11 46h2M23 46h2M35 48h2M39 48h2M1 50h4M9 50h2M13 50h6M41 50h2M-1 52h2M3 52h2M7 52h2M21 52h2M33 52h2M41 52h2M13 54h2M25 54h4M13 56h2M45 56h2M5 58h2M13 58h2M49 58h2M47 60h2M1 62h6M15 62h2M29 62h2M35 62h2M47 62h2M1 64h2M13 64h2M31 64h2M47 64h2M31 66h2M17 68h2M3 70h2M25 70h6M5 72h2M17 72h2M13 74h2M23 74h4M39 74h2M3 76h2M15 76h4M27 76h2M13 78h2M27 78h2M19 80h2M23 80h4M41 80h2"/><path stroke="#40ffbf" d="M39 6h2M31 8h2M37 10h2M9 12h2M9 14h2M17 16h2M45 16h2M1 22h2M29 22h2M3 24h2M15 24h2M29 24h2M31 26h2M5 30h2M35 30h2M-1 32h2M41 32h2M17 34h2M27 34h2M33 38h2M7 40h2M33 40h2M49 44h2M5 46h2M31 46h2M21 50h2M45 50h2M9 52h2M1 60h2M33 60h2M-1 64h2M33 64h2M33 66h4M5 68h2M31 76h2M41 76h2M29 78h2M41 78h2M45 78h2M5 80h2M37 80h2"/><path stroke="#50ffaf" d="M19 0h2M29 0h2M33 0h2M13 4h2M39 4h2M45 4h2M1 6h2M49 6h2M27 8h4M5 12h2M35 12h2M7 14h2M27 14h2M45 14h2M5 16h2M11 16h2M35 16h4M13 18h2M21 18h2M17 20h4M27 20h2M43 20h2M-1 22h2M19 28h2M45 28h2M7 30h2M33 30h2M21 34h2M11 36h2M27 36h2M47 36h4M3 38h4M15 38h2M21 38h2M27 40h2M37 40h2M1 42h2M31 42h2M13 44h4M45 44h2M23 48h2M37 48h2M39 50h2M23 52h2M47 54h2M21 58h2M41 60h2M21 62h2M19 64h4M37 64h4M3 66h2M49 66h2M13 68h2M33 68h2M49 68h2M31 72h2M21 74h2M11 76h2M45 76h2M1 78h2M25 78h2M11 80h2M31 80h2M43 80h4"/><path stroke="#60ff9f" d="M13 0h4M1 2h2M13 2h2M23 2h2M35 2h2M49 2h2M37 4h2M19 6h2M31 6h2M35 6h2M23 8h4M1 12h2M33 16h2M3 18h2M29 18h2M49 18h2M49 20h2M-1 24h2M21 24h2M37 24h2M41 24h2M47 24h2M21 26h2M-1 30h2M43 30h2M1 32h2M33 34h2M7 36h2M13 38h2M7 42h2M35 42h2M17 44h2M37 44h2M47 44h2M-1 46h2M9 46h2M43 46h2M-1 48h2M25 48h2M31 50h2M25 52h4M35 52h4M15 54h4M39 54h2M11 56h2M17 56h2M27 56h2M41 56h2M39 58h2M19 60h2M39 60h2M41 64h2M29 66h2M-1 68h2M47 68h2M9 70h2M45 70h2M7 72h4M19 72h2M43 72h2M-1 76h2M21 76h2M11 78h2"/><path stroke="#70ff8f" d="M-1 0h2M9 0h2M17 0h2M23 0h2M31 0h2M37 0h2M-1 4h2M17 4h2M29 4h2M33 4h2M9 6h2M21 6h2M47 6h2M13 8h2M27 10h2M33 10h2M41 10h2M17 12h2M21 12h2M23 14h2M9 16h2M15 16h2M9 18h2M39 18h2M23 20h2M33 24h2M1 28h2M49 28h2M5 32h2M9 32h2M33 32h2M45 34h2M31 36h2M43 36h2M-1 38h2M7 38h2M27 38h2M47 38h2M43 40h4M33 42h2M23 44h2M13 46h4M21 46h2M13 48h2M5 52h2M47 52h2M3 54h2M29 54h2M35 54h2M43 54h2M27 58h2M27 60h2M49 60h2M9 62h2M31 62h2M43 62h2M49 64h2M-1 66h2M41 66h2M3 68h2M11 70h4M17 70h2M35 72h2M49 72h2M1 74h2M1 76h2M15 78h2M19 78h2M23 78h2M27 80h2"/><path stroke="#80ff80" d="M49 0h2M21 2h2M3 4h2M47 4h2M-1 8h2M3 8h2M11 8h2M17 8h4M5 10h2M3 12h2M45 12h4M-1 14h2M19 14h2M29 14h4M27 16h2M23 18h2M31 18h2M1 20h2M13 20h4M31 20h2M35 20h2M31 22h2M37 22h6M49 22h2M7 24h4M19 24h2M49 24h2M1 26h4M9 26h2M35 26h2M39 26h4M13 28h6M37 28h2M41 30h2M45 30h2M37 34h2M41 34h4M9 36h2M25 38h2M37 38h2M45 38h2M-1 40h2M13 40h2M41 42h2M7 44h2M19 46h2M21 48h2M29 48h4M43 48h2M47 48h2M23 50h2M11 52h2M43 52h4M19 54h4M33 54h2M37 54h2M49 54h2M7 56h4M15 56h2M29 56h4M1 58h2M35 58h2M5 60h2M19 62h2M33 62h2M49 62h2M27 64h2M25 66h2M11 68h2M23 68h2M43 68h2M21 70h2M37 70h2M3 72h2M15 72h2M45 72h2M19 74h2M37 74h2M25 76h2M35 76h2M17 78h2M43 78h2M15 80h2M39 80h2"/><path stroke="#8fff70" d="M25 0h2M43 0h2M15 2h2M41 2h2M11 4h2M23 4h2M43 4h2M45 6h2M9 8h2M49 8h2M17 10h2M21 10h2M5 14h2M21 14h2M19 16h2M43 16h2M11 18h2M45 18h4M5 20h2M41 20h2M11 22h2M17 22h2M35 22h2M5 24h2M13 24h2M23 24h2M31 24h2M35 24h2M15 26h2M49 26h2M29 28h2M47 28h2M3 30h2M9 30h2M47 32h2M3 34h2M29 34h2M-1 36h2M5 36h2M35 36h2M39 36h2M1 38h2M19 40h4M31 40h2M49 40h2M9 42h2M21 42h2M43 42h2M-1 44h2M19 44h2M25 44h2M29 44h2M1 46h2M27 46h2M37 46h2M41 46h2M5 48h2M19 48h2M5 50h2M11 50h2M25 50h2M37 50h2M3 56h2M35 56h2M15 58h2M47 58h2M15 60h2M21 60h2M35 60h2M13 62h2M23 62h2M27 62h2M37 62h2M41 62h2M23 64h4M13 66h2M39 66h2M45 66h2M27 68h4M39 68h2M7 70h2M19 70h2M33 70h2M-1 72h2M27 72h2M-1 74h2M7 74h2M15 74h2M27 74h2M35 74h2M41 74h4M49 74h2M5 76h2M23 76h2M39 76h2M3 78h2M7 78h2M39 78h2M9 80h2M29 80h2M49 80h2"/><path stroke="#9fff60" d="M21 0h2M-1 2h2M9 2h2M7 4h2M35 4h2M23 6h2M37 8h2M9 10h2M39 10h2M29 12h4M17 14h2M37 14h6M13 16h2M-1 18h2M15 18h2M3 20h2M33 20h2M47 20h2M7 22h2M43 22h4M27 24h2M43 24h2M37 26h2M5 28h2M39 28h2M1 30h2M31 30h2M39 30h2M7 32h2M31 32h2M47 34h2M13 36h2M33 36h2M11 38h2M35 38h2M41 38h2M35 40h2M5 42h2M37 42h2M11 44h2M31 44h4M41 44h2M17 46h2M29 46h2M49 46h2M17 48h2M41 48h2M45 48h2M29 50h2M33 50h2M49 50h2M1 52h2M13 52h2M31 52h2M39 52h2M23 54h2M9 58h4M23 58h2M33 58h2M37 58h2M7 64h4M17 64h2M25 68h2M31 68h2M31 70h2M39 70h4M47 72h2M17 74h2M9 76h2M29 76h2M21 78h2M33 78h4M17 80h2M21 80h2M35 80h2"/><path stroke="#afff50" d="M5 0h2M27 0h2M39 0h2M5 2h2M25 2h2M37 2h4M47 2h2M15 4h2M31 4h2M5 6h2M17 6h2M27 6h2M-1 10h2M43 10h4M41 12h2M13 14h2M35 14h2M21 16h2M31 16h2M47 16h2M7 18h2M25 18h2M35 18h2M23 22h2M11 24h2M-1 26h2M27 26h2M7 28h2M13 30h2M37 32h2M11 34h2M17 36h2M21 36h2M17 38h2M3 46h2M33 46h2M45 46h4M3 48h2M15 48h2M33 48h2M-1 50h2M19 50h2M35 50h2M19 52h2M49 52h2M-1 54h2M41 54h2M45 54h2M1 56h2M5 56h2M25 56h2M37 56h2M49 56h2M13 60h2M29 60h2M37 60h2M-1 62h2M7 62h2M11 62h2M39 62h2M45 62h2M35 64h2M5 66h2M11 66h2M15 66h2M27 66h2M43 66h2M47 66h2M9 68h2M43 70h2M47 70h2M25 72h2M29 72h2M39 72h2M11 74h2M45 74h2M9 78h2M31 78h2M49 78h2M1 80h4"/><path stroke="#bfff40" d="M3 0h2M41 0h2M17 2h4M33 2h2M33 6h2M7 10h2M15 10h2M19 10h2M7 12h2M11 12h2M11 14h2M49 14h2M23 16h2M41 16h2M49 16h2M33 18h2M41 18h2M47 22h2M1 24h2M13 26h2M17 26h2M-1 28h2M3 28h2M11 30h2M45 32h2M7 34h2M49 34h2M1 36h2M9 38h2M29 38h2M43 38h2M49 38h2M17 40h2M47 40h2M13 42h8M47 42h2M11 48h2M27 48h2M49 48h2M27 50h2M43 50h2M15 52h2M29 52h2M-1 56h2M21 56h2M33 56h2M39 56h2M7 58h2M25 58h2M29 58h4M41 58h2M31 60h2M43 60h2M45 64h2M1 66h2M7 66h2M37 66h2M19 68h2M35 68h2M45 68h2M37 72h2M33 74h2M33 76h2M43 76h2M7 80h2M13 80h2"/><path stroke="#cfff30" d="M1 0h2M27 2h2M1 4h2M29 6h2M41 8h6M35 10h2M33 12h2M25 14h2M-1 16h2M25 16h2M39 16h2M33 22h2M29 26h2M49 32h2M15 34h2M19 34h2M19 36h2M3 40h2M9 40h2M39 40h2M9 44h2M27 44h2M7 50h2M1 54h2M19 58h2M43 58h2M-1 60h2M11 60h2M23 60h2M5 64h2M21 66h2M1 70h2M15 70h2M23 70h2M35 70h2M49 70h2M41 72h2M29 74h2M13 76h2M-1 78h2M5 78h2M47 78h2M-1 80h2"/><path stroke="#dfff20" d="M7 0h2M29 2h2M11 6h2M47 8h2M13 10h2M47 10h2M23 12h2M49 12h2M3 14h2M47 14h2M1 16h2M25 20h2M45 20h2M25 22h2M11 26h2M43 26h4M11 28h2M31 28h2M41 28h2M-1 34h2M1 40h2M11 40h2M29 42h2M39 42h2M49 42h2M21 44h2M43 56h2M47 56h2M-1 58h2M3 58h2M45 58h2M3 60h2M25 60h2M17 62h2M43 64h2M15 68h2M-1 70h2M13 72h2M23 72h2M5 74h2M9 74h2M7 76h2M47 76h2M37 78h2"/><path stroke="#efff10" d="M13 12h2M39 12h2M-1 20h2M39 20h2M3 22h2M13 22h4M19 22h2M25 24h2M49 30h2M5 34h2M11 42h2M45 42h2M1 44h2M35 44h2M7 48h2M5 54h2M23 56h2M17 58h2M17 60h2M45 60h2M25 62h2M1 72h2"/><path stroke="#ffff00" d="M45 0h2M3 2h2M43 2h2M19 4h2M39 8h2M1 10h2M43 12h2M1 14h2M37 20h2M19 26h2M43 28h2M21 30h2M29 30h2M43 32h2M9 34h2M37 36h2M23 40h2M35 46h2M17 52h2M15 64h2M19 66h2M23 66h2M7 68h2M21 68h2M3 74h2M47 74h2"/><path stroke="#ffef00" d="M23 10h2M27 28h2M23 38h2"/><path stroke="#ffdf00" d="M11 10h2M23 26h4M11 32h2M15 32h2M25 36h2M7 54h6"/><path stroke="#ffcf00" d="M25 12h2M33 28h4M19 30h2M7 46h2M39 46h2M11 64h2"/><path stroke="#ffbf00" d="M27 30h2M17 32h2M23 36h2"/><path stroke="#ffaf00" d="M25 28h2M35 32h2M25 34h2M39 34h2"/><path stroke="#ff9f00" d="M25 30h2M13 32h2M39 32h2"/><path stroke="#ff8f00" d="M23 28h2M27 32h4"/><path stroke="#ff8000" d="M19 32h4M23 34h2"/><path stroke="#ff7000" d="M23 30h2"/><path stroke="#ff3000" d="M25 32h2"/><path stroke="#ef0000" d="M23 32h2"/></g></svg>
<div class="ax" style="left:783.00px;top:12.60px;width:263.80px;height:241.70px"></div>
<div class="t" style="left:753.65px;top:261.47px;font-size:10.50px;line-height:10.50px;letter-spacing:0.30px;width:60px;text-align:center">30</div>
<div class="t" style="left:806.21px;top:261.47px;font-size:10.50px;line-height:10.50px;letter-spacing:0.30px;width:60px;text-align:center">35</div>
<div class="tk" style="left:835.56px;top:250.80px;width:1px;height:2.5px"></div>
<div class="tk" style="left:835.56px;top:13.60px;width:1px;height:2.5px"></div>
<div class="t" style="left:858.77px;top:261.47px;font-size:10.50px;line-height:10.50px;letter-spacing:0.30px;width:60px;text-align:center">40</div>
<div class="tk" style="left:888.12px;top:250.80px;width:1px;height:2.5px"></div>
<div class="tk" style="left:888.12px;top:13.60px;width:1px;height:2.5px"></div>
<div class="t" style="left:911.33px;top:261.47px;font-size:10.50px;line-height:10.50px;letter-spacing:0.30px;width:60px;text-align:center">45</div>
<div class="tk" style="left:940.68px;top:250.80px;width:1px;height:2.5px"></div>
<div class="tk" style="left:940.68px;top:13.60px;width:1px;height:2.5px"></div>
<div class="t" style="left:963.89px;top:261.47px;font-size:10.50px;line-height:10.50px;letter-spacing:0.30px;width:60px;text-align:center">50</div>
<div class="tk" style="left:993.24px;top:250.80px;width:1px;height:2.5px"></div>
<div class="tk" style="left:993.24px;top:13.60px;width:1px;height:2.5px"></div>
<div class="t" style="left:1016.45px;top:261.47px;font-size:10.50px;line-height:10.50px;letter-spacing:0.30px;width:60px;text-align:center">55</div>
<div class="t" style="left:718.20px;top:8.77px;font-size:10.50px;line-height:10.50px;letter-spacing:0.30px;width:60px;text-align:right">-1050</div>
<div class="t" style="left:718.20px;top:38.86px;font-size:10.50px;line-height:10.50px;letter-spacing:0.30px;width:60px;text-align:right">-1040</div>
<div class="tk" style="left:784.00px;top:42.69px;width:2.5px;height:1px"></div>
<div class="tk" style="left:1043.30px;top:42.69px;width:2.5px;height:1px"></div>
<div class="t" style="left:718.20px;top:68.95px;font-size:10.50px;line-height:10.50px;letter-spacing:0.30px;width:60px;text-align:right">-1030</div>
<div class="tk" style="left:784.00px;top:72.78px;width:2.5px;height:1px"></div>
<div class="tk" style="left:1043.30px;top:72.78px;width:2.5px;height:1px"></div>
<div class="t" style="left:718.20px;top:99.03px;font-size:10.50px;line-height:10.50px;letter-spacing:0.30px;width:60px;text-align:right">-1020</div>
<div class="tk" style="left:784.00px;top:102.86px;width:2.5px;height:1px"></div>
<div class="tk" style="left:1043.30px;top:102.86px;width:2.5px;height:1px"></div>
<div class="t" style="left:718.20px;top:129.12px;font-size:10.50px;line-height:10.50px;letter-spacing:0.30px;width:60px;text-align:right">-1010</div>
<div class="tk" style="left:784.00px;top:132.95px;width:2.5px;height:1px"></div>
<div class="tk" style="left:1043.30px;top:132.95px;width:2.5px;height:1px"></div>
<div class="t" style="left:718.20px;top:159.21px;font-size:10.50px;line-height:10.50px;letter-spacing:0.30px;width:60px;text-align:right">-1000</div>
<div class="tk" style="left:784.00px;top:163.04px;width:2.5px;height:1px"></div>
<div class="tk" style="left:1043.30px;top:163.04px;width:2.5px;height:1px"></div>
<div class="t" style="left:718.20px;top:189.30px;font-size:10.50px;line-height:10.50px;letter-spacing:0.30px;width:60px;text-align:right">-990</div>
<div class="tk" style="left:784.00px;top:193.12px;width:2.5px;height:1px"></div>
<div class="tk" style="left:1043.30px;top:193.12px;width:2.5px;height:1px"></div>
<div class="t" style="left:718.20px;top:219.38px;font-size:10.50px;line-height:10.50px;letter-spacing:0.30px;width:60px;text-align:right">-980</div>
<div class="tk" style="left:784.00px;top:223.21px;width:2.5px;height:1px"></div>
<div class="tk" style="left:1043.30px;top:223.21px;width:2.5px;height:1px"></div>
<div class="t" style="left:718.20px;top:249.47px;font-size:10.50px;line-height:10.50px;letter-spacing:0.30px;width:60px;text-align:right">-970</div>
<div class="t" style="left:835.10px;top:276.87px;font-size:11.50px;line-height:11.50px;letter-spacing:0.40px;width:160px;text-align:center">Range bin</div>
<div class="t" style="left:639.88px;top:130.22px;width:200px;height:11.60px;font-size:11.60px;line-height:11.60px;letter-spacing:0.35px;text-align:center;transform:rotate(-90deg)">Doppler shift (Hz)</div>
<div style="position:absolute;left:1060.60px;top:14.30px;width:14.20px;height:240.10px;background:linear-gradient(to bottom,#800000 0.000%,#800000 1.562%,#8f0000 1.562%,#8f0000 3.125%,#9f0000 3.125%,#9f0000 4.688%,#af0000 4.688%,#af0000 6.250%,#bf0000 6.250%,#bf0000 7.812%,#cf0000 7.812%,#cf0000 9.375%,#df0000 9.375%,#df0000 10.938%,#ef0000 10.938%,#ef0000 12.500%,#ff0000 12.500%,#ff0000 14.062%,#ff1000 14.062%,#ff1000 15.625%,#ff2000 15.625%,#ff2000 17.188%,#ff3000 17.188%,#ff3000 18.750%,#ff4000 18.750%,#ff4000 20.312%,#ff5000 20.312%,#ff5000 21.875%,#ff6000 21.875%,#ff6000 23.438%,#ff7000 23.438%,#ff7000 25.000%,#ff8000 25.000%,#ff8000 26.562%,#ff8f00 26.562%,#ff8f00 28.125%,#ff9f00 28.125%,#ff9f00 29.688%,#ffaf00 29.688%,#ffaf00 31.250%,#ffbf00 31.250%,#ffbf00 32.812%,#ffcf00 32.812%,#ffcf00 34.375%,#ffdf00 34.375%,#ffdf00 35.938%,#ffef00 35.938%,#ffef00 37.500%,#ffff00 37.500%,#ffff00 39.062%,#efff10 39.062%,#efff10 40.625%,#dfff20 40.625%,#dfff20 42.188%,#cfff30 42.188%,#cfff30 43.750%,#bfff40 43.750%,#bfff40 45.312%,#afff50 45.312%,#afff50 46.875%,#9fff60 46.875%,#9fff60 48.438%,#8fff70 48.438%,#8fff70 50.000%,#80ff80 50.000%,#80ff80 51.562%,#70ff8f 51.562%,#70ff8f 53.125%,#60ff9f 53.125%,#60ff9f 54.688%,#50ffaf 54.688%,#50ffaf 56.250%,#40ffbf 56.250%,#40ffbf 57.812%,#30ffcf 57.812%,#30ffcf 59.375%,#20ffdf 59.375%,#20ffdf 60.938%,#10ffef 60.938%,#10ffef 62.500%,#00ffff 62.500%,#00ffff 64.062%,#00efff 64.062%,#00efff 65.625%,#00dfff 65.625%,#00dfff 67.188%,#00cfff 67.188%,#00cfff 68.750%,#00bfff 68.750%,#00bfff 70.312%,#00afff 70.312%,#00afff 71.875%,#009fff 71.875%,#009fff 73.438%,#008fff 73.438%,#008fff 75.000%,#0080ff 75.000%,#0080ff 76.562%,#0070ff 76.562%,#0070ff 78.125%,#0060ff 78.125%,#0060ff 79.688%,#0050ff 79.688%,#0050ff 81.250%,#0040ff 81.250%,#0040ff 82.812%,#0030ff 82.812%,#0030ff 84.375%,#0020ff 84.375%,#0020ff 85.938%,#0010ff 85.938%,#0010ff 87.500%,#0000ff 87.500%,#0000ff 89.062%,#0000ef 89.062%,#0000ef 90.625%,#0000df 90.625%,#0000df 92.188%,#0000cf 92.188%,#0000cf 93.750%,#0000bf 93.750%,#0000bf 95.312%,#0000af 95.312%,#0000af 96.875%,#00009f 96.875%,#00009f 98.438%,#00008f 98.438%,#00008f 100.000%)"></div>
<div class="ax" style="left:1060.10px;top:13.80px;width:15.20px;height:241.10px"></div>
<div class="t" style="left:1079.50px;top:250.32px;font-size:10.00px;line-height:10.00px;letter-spacing:-0.10px">190</div>
<div class="t" style="left:1079.50px;top:216.02px;font-size:10.00px;line-height:10.00px;letter-spacing:-0.10px">200</div>
<div class="tk" style="left:1071.80px;top:219.60px;width:2.5px;height:1px"></div>
<div class="t" style="left:1079.50px;top:181.72px;font-size:10.00px;line-height:10.00px;letter-spacing:-0.10px">210</div>
<div class="tk" style="left:1071.80px;top:185.30px;width:2.5px;height:1px"></div>
<div class="t" style="left:1079.50px;top:147.42px;font-size:10.00px;line-height:10.00px;letter-spacing:-0.10px">220</div>
<div class="tk" style="left:1071.80px;top:151.00px;width:2.5px;height:1px"></div>
<div class="t" style="left:1079.50px;top:113.12px;font-size:10.00px;line-height:10.00px;letter-spacing:-0.10px">230</div>
<div class="tk" style="left:1071.80px;top:116.70px;width:2.5px;height:1px"></div>
<div class="t" style="left:1079.50px;top:78.81px;font-size:10.00px;line-height:10.00px;letter-spacing:-0.10px">240</div>
<div class="tk" style="left:1071.80px;top:82.40px;width:2.5px;height:1px"></div>
<div class="t" style="left:1079.50px;top:44.52px;font-size:10.00px;line-height:10.00px;letter-spacing:-0.10px">250</div>
<div class="tk" style="left:1071.80px;top:48.10px;width:2.5px;height:1px"></div>
<div class="t" style="left:1079.50px;top:10.22px;font-size:10.00px;line-height:10.00px;letter-spacing:-0.10px">260</div>
</div>
<div class="grp" style="filter:blur(0.45px)">
<svg class="hm" style="left:64.10px;top:422.10px;width:266.40px;height:239.95px" viewBox="0 0 60 100" preserveAspectRatio="none" shape-rendering="crispEdges"><rect x="0" y="0" width="60" height="100" fill="#bfff40"/><g stroke-width="2"><path stroke="#0050ff" d="M43 86h2M9 98h2"/><path stroke="#0060ff" d="M43 16h2"/><path stroke="#0070ff" d="M11 86h2"/><path stroke="#0080ff" d="M39 8h2M21 22h2"/><path stroke="#008fff" d="M31 48h2M59 54h2"/><path stroke="#009fff" d="M41 66h2M37 76h2"/><path stroke="#00afff" d="M3 22h2M23 36h2M37 92h2M7 96h2"/><path stroke="#00bfff" d="M9 22h2M1 54h2M49 58h2"/><path stroke="#00cfff" d="M27 4h2M29 8h2M23 26h2M57 44h2"/><path stroke="#00dfff" d="M37 2h2M3 8h2M55 8h2M33 36h2M29 38h2M27 74h2M33 82h2M45 86h2"/><path stroke="#00efff" d="M1 98h2"/><path stroke="#70ff8f" d="M3 0h2M31 0h2M39 0h2M7 2h2M21 2h2M29 2h2M41 2h2M3 4h2M9 4h4M17 4h2M25 4h2M29 4h2M55 4h2M3 6h2M9 6h2M11 8h2M17 8h2M25 8h2M53 8h2M21 10h2M25 10h4M31 10h2M43 10h2M19 12h2M27 12h2M43 12h2M7 14h2M15 14h2M33 14h2M15 16h2M45 16h2M51 16h2M19 18h4M41 18h2M45 18h2M3 20h2M19 20h2M37 20h2M11 22h2M41 22h2M19 24h4M39 24h4M19 26h2M53 26h2M7 28h2M15 28h2M25 28h2M33 28h2M43 28h6M55 28h2M11 30h2M17 30h2M21 30h2M27 30h2M35 30h2M41 30h2M49 30h2M5 32h2M43 32h2M53 32h2M59 32h2M7 34h2M23 34h2M57 34h4M3 36h2M17 36h2M31 36h2M43 38h2M47 38h2M21 40h2M41 40h2M13 42h2M23 42h2M27 42h4M45 42h2M53 42h2M1 44h2M7 44h2M17 44h2M27 46h2M31 46h2M43 46h2M55 46h2M33 48h2M43 48h4M31 50h2M49 52h2M21 54h2M37 54h2M13 56h2M17 56h2M45 56h2M57 56h2M15 58h6M35 58h2M45 58h2M13 60h2M49 60h2M53 60h2M-1 62h2M17 62h2M37 62h6M47 64h2M57 64h4M9 66h2M35 66h2M57 66h2M11 68h2M29 68h2M7 70h2M39 70h2M43 70h2M55 70h2M3 72h4M11 72h2M23 72h2M11 74h4M17 74h2M25 74h2M39 74h2M45 74h2M51 74h2M13 76h2M17 76h2M45 76h2M21 78h2M27 78h2M35 78h2M41 78h2M-1 80h2M5 80h2M29 80h4M41 80h2M29 82h2M51 82h2M11 84h2M33 84h2M-1 86h4M9 86h2M13 86h2M25 86h2M29 86h2M39 86h2M55 86h2M-1 88h4M25 90h2M39 90h2M59 90h2M13 92h2M33 92h2M59 92h2M27 94h2M37 94h2M45 94h4M3 96h2M11 96h2M15 96h2M41 96h2M13 98h2M41 98h2M55 98h2M3 100h2M39 100h2"/><path stroke="#80ff80" d="M7 0h2M37 0h2M-1 2h2M11 2h2M47 2h4M55 2h2M7 6h2M13 8h2M17 10h2M57 10h2M5 12h2M29 12h2M33 12h2M45 12h2M55 18h4M7 20h2M39 20h2M45 20h2M3 26h2M59 26h2M27 28h2M-1 30h2M3 30h2M19 30h2M33 32h2M45 32h2M57 32h2M17 34h2M31 34h2M-1 36h2M15 38h2M27 38h2M25 44h2M31 44h2M5 46h2M11 46h2M59 46h2M5 48h2M-1 50h2M11 50h2M15 50h2M41 50h2M39 52h2M33 54h2M51 54h4M39 56h2M53 56h2M37 60h2M43 60h2M3 62h2M11 62h2M47 62h2M29 64h2M55 64h2M29 66h2M57 68h2M15 74h2M59 74h2M23 76h2M9 78h2M17 78h2M39 78h2M45 78h2M45 80h2M19 82h2M47 82h2M57 82h2M41 84h2M23 86h2M37 86h2M13 88h2M21 88h2M-1 90h2M11 92h2M13 94h2M51 94h2M29 96h2M47 96h2M-1 98h2M9 100h2M41 100h2"/><path stroke="#8fff70" d="M17 2h2M7 8h2M7 10h2M37 10h2M11 12h2M21 14h2M25 14h2M39 14h2M-1 16h2M19 16h2M31 16h2M31 18h2M15 20h2M59 20h2M1 22h2M45 24h2M33 26h2M39 26h2M43 26h4M49 26h2M51 28h2M13 30h2M1 32h2M27 34h2M51 34h2M37 36h2M51 36h2M7 38h2M25 38h2M45 38h2M53 38h2M25 40h2M5 42h2M13 44h2M29 44h2M35 44h2M-1 46h2M15 46h2M37 46h4M3 48h2M15 48h2M9 50h2M53 50h2M13 52h2M17 52h2M47 58h2M51 58h2M57 58h2M7 60h2M21 62h2M49 62h2M9 64h2M17 64h2M23 64h2M33 64h2M49 64h2M3 68h2M25 68h2M39 68h2M9 70h2M41 70h2M51 70h2M59 70h2M19 72h2M-1 74h2M29 76h2M59 76h2M7 78h2M3 80h2M27 82h2M41 82h2M23 84h2M47 84h2M7 86h2M35 86h2M17 88h2M33 88h2M9 90h2M27 90h2M3 92h2M1 96h2M9 96h2M27 100h2M45 100h2M49 100h2"/><path stroke="#9fff60" d="M11 0h2M19 2h2M43 2h2M59 4h2M5 6h2M43 6h2M27 8h2M51 8h2M17 12h2M25 12h2M39 12h2M55 12h2M27 14h2M7 16h2M33 16h2M35 18h2M39 18h2M57 20h2M-1 22h2M47 22h2M57 22h2M-1 26h4M9 26h2M53 30h2M15 32h4M37 32h2M51 32h2M33 34h2M45 34h2M9 36h2M13 36h2M33 38h4M-1 40h2M35 40h2M3 42h2M37 42h2M41 42h2M47 42h2M-1 44h2M45 44h2M29 46h2M1 48h2M11 48h2M19 48h2M29 48h2M37 48h4M47 48h2M57 48h2M1 50h2M21 50h2M33 50h2M1 52h2M7 52h2M57 52h2M5 54h2M49 54h2M25 58h2M33 58h2M55 58h2M17 60h2M45 60h2M7 62h2M15 62h2M31 62h2M35 62h2M-1 64h2M27 64h2M1 66h4M1 68h2M37 68h2M53 68h2M15 70h2M27 70h2M53 70h2M37 72h2M51 72h2M33 74h2M21 76h2M25 76h4M35 76h2M33 78h2M53 78h2M7 80h2M51 80h2M21 82h2M59 82h2M5 86h2M15 86h2M41 86h2M39 88h2M45 88h2M57 88h2M57 90h2M9 92h2M43 92h2M47 92h2M57 92h2M17 98h2M43 98h2M59 98h2M23 100h2M37 100h2M59 100h2"/><path stroke="#afff50" d="M47 0h2M33 2h2M51 4h2M11 6h2M53 6h2M-1 8h2M21 8h2M45 8h2M-1 10h2M-1 14h2M19 14h2M43 14h2M1 16h2M13 16h2M25 16h2M35 16h2M49 16h2M57 16h2M9 18h2M37 18h2M51 18h2M1 20h2M11 20h2M35 20h2M43 20h2M49 20h2M53 20h4M55 22h2M5 24h4M23 24h2M27 24h2M51 24h4M17 26h2M21 26h2M35 26h2M47 26h2M9 28h2M23 28h2M31 30h2M47 30h2M57 30h2M-1 32h2M41 32h2M9 34h4M21 34h2M29 34h2M47 34h2M43 36h2M47 36h2M53 36h2M21 38h4M59 38h2M9 40h2M51 42h2M15 44h2M1 46h2M19 46h2M41 46h2M53 46h2M-1 48h2M3 50h2M47 50h2M51 50h2M37 52h2M43 52h2M11 54h2M19 54h2M47 54h2M1 56h2M41 56h4M5 60h2M11 60h2M23 60h2M31 60h4M27 62h2M55 62h2M7 64h2M15 64h2M37 64h2M13 66h2M37 66h2M45 66h2M49 66h4M59 66h2M9 68h2M27 68h2M33 68h2M59 68h2M5 70h2M47 70h2M25 72h2M47 72h2M21 74h2M57 74h2M9 76h2M53 76h2M5 78h2M57 78h2M17 80h2M21 80h2M35 80h2M31 82h2M7 84h2M37 84h2M45 84h2M55 84h2M23 88h2M53 88h2M3 90h2M11 90h2M21 90h2M31 90h2M-1 92h2M7 94h2M29 94h2M57 94h2M33 96h2M55 96h2M5 98h2M37 98h2M51 98h2M55 100h2"/><path stroke="#bfff40" d="M15 0h2M19 0h2M35 0h2M55 0h2M59 0h2M1 2h2M9 2h2M25 2h2M35 2h2M39 2h2M35 4h2M41 4h2M45 4h4M13 6h2M25 6h2M49 8h2M29 10h2M55 10h2M9 12h2M45 14h2M59 14h2M27 16h2M-1 18h2M13 18h4M49 18h2M41 20h2M37 22h2M3 24h2M11 24h2M15 24h2M31 24h2M43 24h2M55 24h4M15 26h2M27 26h2M37 26h2M-1 28h2M3 28h2M17 28h2M7 30h2M29 30h2M7 32h2M25 32h2M39 32h2M55 32h2M-1 34h2M5 34h2M15 34h2M55 34h2M1 36h2M11 36h2M27 36h2M35 36h2M59 36h2M-1 38h2M5 38h2M19 38h2M37 38h4M51 38h2M7 40h2M27 40h2M43 40h10M55 40h2M59 40h2M31 42h4M59 42h2M47 44h2M7 48h2M17 48h2M5 50h2M13 50h2M59 50h2M11 52h2M27 52h2M55 52h2M3 54h2M13 54h2M57 54h2M9 56h2M35 56h2M11 58h2M43 58h2M53 58h2M19 60h2M5 62h2M23 62h2M43 62h2M51 62h2M5 64h2M41 64h4M15 66h2M19 66h2M31 66h2M39 66h2M53 66h2M17 68h2M35 68h2M43 68h2M21 70h2M35 70h2M1 72h2M7 72h2M39 72h2M49 72h2M3 74h2M7 74h2M23 74h2M41 74h2M3 76h2M25 78h2M29 78h2M51 78h2M55 78h2M13 80h4M25 80h2M47 80h2M11 82h2M23 82h2M35 82h2M43 82h2M9 84h2M15 84h2M3 86h2M19 86h4M27 86h2M7 88h2M19 88h2M29 88h2M37 88h2M5 90h2M19 90h2M51 90h2M1 92h2M7 92h2M27 92h2M35 92h2M-1 94h2M5 94h2M15 94h2M19 94h2M35 94h2M39 94h2M13 96h2M25 96h4M11 98h2M23 98h4M47 98h2M-1 100h2M5 100h4M13 100h4M25 100h2"/><path stroke="#cfff30" d="M5 0h2M51 0h2M27 2h2M59 2h2M1 4h2M5 4h2M19 4h6M39 4h2M49 4h2M15 6h4M23 6h2M37 6h2M51 6h2M57 6h2M15 8h2M9 10h8M35 10h2M45 10h2M51 10h2M13 12h2M23 12h2M31 12h2M37 12h2M59 12h2M9 14h2M29 14h4M11 16h2M17 16h2M41 16h2M47 16h2M3 18h2M7 18h2M17 18h2M27 18h2M33 18h2M59 18h2M5 20h2M23 20h2M47 20h2M51 20h2M5 22h2M23 22h4M29 22h2M49 22h2M53 22h2M33 24h2M59 24h2M11 26h2M55 26h4M1 28h2M5 28h2M41 28h2M49 28h2M59 28h2M1 30h2M23 30h2M33 30h2M9 32h2M27 32h6M13 34h2M25 34h2M7 36h2M15 36h2M19 36h2M29 36h2M13 38h2M49 38h2M1 40h2M5 40h2M17 40h2M37 40h2M1 42h2M11 42h2M15 42h2M57 42h2M5 44h2M9 44h2M21 44h4M33 44h2M43 44h2M3 46h2M7 46h2M17 46h2M57 46h2M49 50h2M31 52h2M47 52h2M7 54h4M15 54h2M39 54h2M45 54h2M-1 56h2M7 56h2M15 56h2M49 56h4M55 56h2M-1 58h2M41 58h2M15 60h2M51 60h2M9 62h2M25 62h2M29 62h2M59 62h2M1 64h4M39 64h2M-1 66h2M23 66h2M23 68h2M-1 70h4M37 70h2M45 70h2M13 72h2M17 72h2M41 72h2M53 72h2M59 72h2M5 74h2M37 74h2M49 74h2M1 76h2M5 76h4M11 76h2M15 76h2M31 76h2M13 78h2M47 78h4M9 80h2M37 82h2M45 82h2M25 84h2M39 84h2M49 86h2M5 88h2M7 90h2M47 90h4M5 92h2M23 92h2M29 92h2M41 92h2M45 92h2M53 92h2M11 94h2M23 94h2M23 96h2M31 96h2M45 96h2M49 96h2M57 96h2M45 98h2M53 98h2M11 100h2M19 100h2M33 100h4"/><path stroke="#dfff20" d="M9 0h2M13 0h2M23 0h4M5 2h2M15 2h2M7 4h2M13 4h4M43 4h2M57 4h2M19 6h2M35 6h2M41 6h2M45 6h2M49 6h2M5 8h2M9 8h2M33 8h6M5 10h2M47 10h2M53 10h2M7 12h2M21 12h2M53 12h2M11 14h2M35 14h2M41 14h2M47 14h2M55 14h2M5 16h2M9 16h2M23 16h2M29 16h2M37 16h4M53 16h2M11 18h2M43 18h2M47 18h2M9 20h2M13 20h2M17 20h2M27 20h2M19 22h2M43 22h4M9 24h2M49 24h2M29 26h2M39 28h2M5 30h2M25 30h2M39 30h2M43 30h2M35 34h2M41 34h2M49 34h2M53 34h2M25 36h2M55 36h4M3 38h2M9 38h4M31 38h2M41 38h2M11 40h2M23 40h2M29 40h6M53 40h2M7 42h2M11 44h2M41 44h2M49 44h4M13 46h2M35 46h2M13 48h2M29 50h2M37 50h2M43 50h4M-1 52h2M45 52h2M53 52h2M-1 54h2M23 54h2M41 54h2M5 58h2M9 58h2M37 58h4M9 60h2M29 60h2M35 60h2M47 60h2M13 62h2M35 64h2M45 64h2M5 66h4M7 68h2M15 68h2M47 68h2M3 70h2M25 70h2M33 70h2M31 72h6M1 74h2M19 74h2M47 74h2M55 74h2M57 76h2M3 78h2M19 80h2M49 80h2M55 80h2M5 82h4M13 82h2M17 82h2M3 84h2M13 84h2M27 84h2M31 84h2M43 84h2M49 84h2M31 86h2M57 86h2M9 88h2M27 88h2M59 88h2M15 90h2M29 90h2M43 90h2M53 90h2M39 92h2M17 94h2M21 94h2M33 94h2M43 94h2M49 94h2M-1 96h2M37 96h2M53 96h2M59 96h2M7 98h2M21 98h2M27 98h2M57 98h2M43 100h2"/><path stroke="#efff10" d="M1 0h2M17 0h2M33 0h2M45 0h2M49 0h2M53 0h2M23 2h2M31 2h2M45 2h2M31 4h2M37 4h2M21 6h2M27 6h2M33 6h2M47 6h2M19 8h2M31 8h2M43 8h2M57 8h4M3 10h2M1 12h2M15 12h2M3 14h2M17 14h2M49 14h2M57 14h2M21 16h2M59 16h2M23 18h2M21 20h2M25 20h2M33 22h2M59 22h2M1 24h2M7 26h2M13 26h2M25 26h2M41 26h2M19 28h4M53 28h2M9 30h2M35 32h2M5 36h2M39 36h2M1 38h2M13 40h2M19 40h2M39 40h2M-1 42h2M9 42h2M21 42h2M3 44h2M37 44h4M53 44h2M49 46h2M27 48h2M51 48h2M55 50h2M5 52h2M21 52h2M59 52h2M35 54h2M3 56h2M11 56h2M19 56h2M37 56h2M13 58h2M-1 60h4M21 60h2M39 60h2M59 60h2M33 62h2M21 64h2M51 64h4M11 66h2M17 66h2M43 66h2M41 68h2M49 68h2M19 70h2M23 70h2M29 70h4M49 70h2M57 70h2M9 72h2M27 72h2M9 74h2M53 74h2M-1 76h2M33 76h2M55 76h2M15 78h2M23 78h2M43 78h2M59 78h2M33 80h2M43 80h2M49 82h2M53 82h2M-1 84h4M29 84h2M57 84h2M17 86h2M33 86h2M31 88h2M41 88h4M55 88h2M1 90h2M13 90h2M33 90h6M45 90h2M17 92h4M51 92h2M25 94h2M31 94h2M35 98h2M39 98h2M29 100h2M51 100h2M57 100h2"/><path stroke="#ffff00" d="M27 0h2M41 0h2M57 0h2M33 4h2M29 6h4M23 8h2M1 10h2M19 10h2M23 10h2M33 10h2M-1 12h2M3 12h2M35 12h2M1 14h2M5 14h2M23 14h2M37 14h2M53 14h2M3 16h2M25 18h2M31 20h4M7 22h2M15 22h2M35 22h2M51 22h2M25 24h2M5 26h2M29 28h2M37 28h2M57 28h2M21 32h2M47 32h2M3 34h2M43 34h2M45 36h2M57 40h2M17 42h2M25 42h2M35 42h2M49 42h2M55 42h2M9 46h2M51 46h2M21 48h2M41 48h2M49 48h2M53 48h2M59 48h2M17 50h2M35 50h2M39 50h2M15 52h2M19 52h2M33 52h2M51 52h2M43 54h2M47 56h2M3 58h2M7 58h2M41 60h2M57 60h2M11 64h4M19 64h2M25 64h2M21 66h2M25 66h2M33 66h2M55 66h2M-1 68h2M31 68h2M11 70h4M-1 72h2M29 72h2M57 72h2M29 74h2M35 74h2M39 76h2M51 76h2M-1 78h2M31 78h2M11 80h2M23 80h2M53 80h2M59 80h2M15 82h2M17 84h6M35 84h2M51 84h2M53 86h2M59 86h2M47 88h6M23 90h2M41 90h2M21 92h2M25 92h2M31 92h2M1 94h2M9 94h2M41 94h2M59 94h2M19 96h2M35 96h2M15 98h2M19 98h2M29 98h2M1 100h2M31 100h2M53 100h2"/><path stroke="#ffef00" d="M29 0h2M43 0h2M13 2h2M53 4h2M55 6h2M1 8h2M39 10h2M49 10h2M47 12h2M51 14h2M55 16h2M53 18h2M-1 20h2M31 22h2M39 22h2M-1 24h2M13 24h2M29 24h2M37 24h2M47 24h2M31 26h2M35 28h2M45 30h2M3 32h2M11 32h2M19 34h2M21 36h2M49 36h2M55 38h4M3 40h2M39 42h2M43 42h2M19 44h2M45 46h2M9 48h2M3 52h2M9 52h2M41 52h2M55 54h2M23 58h2M29 58h2M59 58h2M3 60h2M55 60h2M1 62h2M45 62h2M57 62h2M31 64h2M45 68h2M17 70h2M21 72h2M45 72h2M19 76h2M41 76h4M11 78h2M37 78h2M1 80h2M27 80h2M-1 82h4M9 82h2M39 82h2M53 84h2M55 90h2M49 92h2M3 94h2M21 96h2M39 96h2M43 96h2M31 98h2M21 100h2"/><path stroke="#ffdf00" d="M3 2h2M57 2h2M-1 4h2M-1 6h2M39 6h2M41 8h2M59 10h2M57 12h2M13 14h2M29 20h2M13 22h2M17 22h2M27 22h2M35 24h2M37 30h2M55 30h2M59 30h2M49 32h2M55 44h2M55 48h2M19 50h2M27 50h2M17 54h2M21 56h2M59 56h2M15 72h2M55 72h2M49 76h2M25 82h2M55 82h2M5 84h2M59 84h2M51 86h2M35 88h2M55 92h2M5 96h2M3 98h2M49 98h2M17 100h2M47 100h2"/><path stroke="#ffcf00" d="M-1 0h2M21 0h2M51 2h4M1 6h2M59 6h2M47 8h2M41 10h2M41 12h2M49 12h2M29 18h2M17 24h2M51 26h2M31 28h2M15 30h2M51 30h2M13 32h2M41 36h2M17 38h2M15 40h2M19 42h2M59 44h2M21 46h6M33 46h2M47 46h2M25 48h2M7 50h2M57 50h2M1 58h2M21 58h2M25 60h2M19 62h2M53 62h2M27 66h2M47 66h2M5 68h2M13 68h2M19 68h2M55 68h2M43 72h2M31 74h2M43 74h2M47 76h2M1 78h2M19 78h2M3 82h2M47 86h2M3 88h2M25 88h2M17 90h2M15 92h2M53 94h4M17 96h2M51 96h2M33 98h2"/><path stroke="#ffbf00" d="M37 34h4M27 44h2M35 48h2M29 52h2M27 54h2M31 54h2M5 56h2M33 56h2M31 58h2M51 68h2M37 80h4M11 88h2M15 88h2"/><path stroke="#ffaf00" d="M1 18h2M5 18h2M11 28h4M19 32h2M1 34h2M35 52h2M29 54h2M29 56h2M21 68h2M57 80h2"/><path stroke="#ff9f00" d="M51 12h2M23 32h2M23 48h2M23 50h2M23 52h2M23 56h4M31 56h2M27 58h2M27 60h2"/><path stroke="#ff8f00" d="M25 50h2M25 52h2M25 54h2M27 56h2"/></g></svg>
<div class="ax" style="left:63.60px;top:421.60px;width:267.40px;height:240.95px"></div>
<div class="t" style="left:34.25px;top:669.57px;font-size:10.50px;line-height:10.50px;letter-spacing:0.30px;width:60px;text-align:center">100</div>
<div class="t" style="left:78.65px;top:669.57px;font-size:10.50px;line-height:10.50px;letter-spacing:0.30px;width:60px;text-align:center">105</div>
<div class="tk" style="left:108.00px;top:659.05px;width:1px;height:2.5px"></div>
<div class="tk" style="left:108.00px;top:422.60px;width:1px;height:2.5px"></div>
<div class="t" style="left:123.05px;top:669.57px;font-size:10.50px;line-height:10.50px;letter-spacing:0.30px;width:60px;text-align:center">110</div>
<div class="tk" style="left:152.40px;top:659.05px;width:1px;height:2.5px"></div>
<div class="tk" style="left:152.40px;top:422.60px;width:1px;height:2.5px"></div>
<div class="t" style="left:167.45px;top:669.57px;font-size:10.50px;line-height:10.50px;letter-spacing:0.30px;width:60px;text-align:center">115</div>
<div class="tk" style="left:196.80px;top:659.05px;width:1px;height:2.5px"></div>
<div class="tk" style="left:196.80px;top:422.60px;width:1px;height:2.5px"></div>
<div class="t" style="left:211.85px;top:669.57px;font-size:10.50px;line-height:10.50px;letter-spacing:0.30px;width:60px;text-align:center">120</div>
<div class="tk" style="left:241.20px;top:659.05px;width:1px;height:2.5px"></div>
<div class="tk" style="left:241.20px;top:422.60px;width:1px;height:2.5px"></div>
<div class="t" style="left:256.25px;top:669.57px;font-size:10.50px;line-height:10.50px;letter-spacing:0.30px;width:60px;text-align:center">125</div>
<div class="tk" style="left:285.60px;top:659.05px;width:1px;height:2.5px"></div>
<div class="tk" style="left:285.60px;top:422.60px;width:1px;height:2.5px"></div>
<div class="t" style="left:300.65px;top:669.57px;font-size:10.50px;line-height:10.50px;letter-spacing:0.30px;width:60px;text-align:center">130</div>
<div class="t" style="left:-1.30px;top:417.77px;font-size:10.50px;line-height:10.50px;letter-spacing:0.30px;width:60px;text-align:right">-740</div>
<div class="t" style="left:-1.30px;top:465.76px;font-size:10.50px;line-height:10.50px;letter-spacing:0.30px;width:60px;text-align:right">-720</div>
<div class="tk" style="left:64.60px;top:469.59px;width:2.5px;height:1px"></div>
<div class="tk" style="left:327.50px;top:469.59px;width:2.5px;height:1px"></div>
<div class="t" style="left:-1.30px;top:513.75px;font-size:10.50px;line-height:10.50px;letter-spacing:0.30px;width:60px;text-align:right">-700</div>
<div class="tk" style="left:64.60px;top:517.58px;width:2.5px;height:1px"></div>
<div class="tk" style="left:327.50px;top:517.58px;width:2.5px;height:1px"></div>
<div class="t" style="left:-1.30px;top:561.74px;font-size:10.50px;line-height:10.50px;letter-spacing:0.30px;width:60px;text-align:right">-680</div>
<div class="tk" style="left:64.60px;top:565.57px;width:2.5px;height:1px"></div>
<div class="tk" style="left:327.50px;top:565.57px;width:2.5px;height:1px"></div>
<div class="t" style="left:-1.30px;top:609.73px;font-size:10.50px;line-height:10.50px;letter-spacing:0.30px;width:60px;text-align:right">-660</div>
<div class="tk" style="left:64.60px;top:613.56px;width:2.5px;height:1px"></div>
<div class="tk" style="left:327.50px;top:613.56px;width:2.5px;height:1px"></div>
<div class="t" style="left:-1.30px;top:657.72px;font-size:10.50px;line-height:10.50px;letter-spacing:0.30px;width:60px;text-align:right">-640</div>
<div class="t" style="left:117.40px;top:685.53px;font-size:11.90px;line-height:11.90px;letter-spacing:0.60px;width:160px;text-align:center">Range bin</div>
<div class="t" style="left:-75.19px;top:537.62px;width:200px;height:11.80px;font-size:11.80px;line-height:11.80px;letter-spacing:0.75px;text-align:center;transform:rotate(-90deg)">Doppler Shift [Hz]</div>
<svg class="hm" style="left:414.10px;top:422.10px;width:267.20px;height:240.00px" viewBox="0 0 60 100" preserveAspectRatio="none" shape-rendering="crispEdges"><rect x="0" y="0" width="60" height="100" fill="#bfff40"/><g stroke-width="2"><path stroke="#0010ff" d="M47 60h2"/><path stroke="#0040ff" d="M31 20h2"/><path stroke="#0080ff" d="M5 66h2"/><path stroke="#008fff" d="M17 54h2"/><path stroke="#009fff" d="M5 36h2M41 64h2"/><path stroke="#00afff" d="M51 26h2M9 72h2"/><path stroke="#00bfff" d="M19 8h2M-1 26h2M31 78h2M1 84h2M39 94h2"/><path stroke="#00dfff" d="M21 2h2M49 2h2M45 4h2M23 16h2M49 20h2M21 26h2M33 26h2M7 34h2M57 34h2M39 38h2M45 58h2M27 66h2M57 72h2M25 76h2M33 80h2M53 86h2M5 94h2"/><path stroke="#70ff8f" d="M29 0h2M43 0h2M55 0h4M5 2h2M11 2h2M19 2h2M27 2h2M9 4h2M17 4h2M53 4h4M21 6h2M27 6h2M31 6h2M39 6h2M43 6h2M53 6h2M-1 8h2M35 8h2M1 10h2M25 10h2M33 10h4M51 12h2M3 14h4M19 14h2M31 14h2M-1 16h2M17 16h2M27 16h2M59 16h2M13 18h2M35 18h2M3 20h2M11 20h2M27 20h2M53 20h2M1 22h2M17 22h2M25 22h2M57 22h2M5 24h4M29 24h2M43 24h2M47 24h2M13 26h2M29 26h2M49 26h2M59 26h2M41 28h2M57 28h2M23 32h2M55 32h2M1 34h2M9 34h2M23 34h2M35 34h2M43 34h2M23 36h2M37 36h2M45 36h2M51 36h2M-1 38h2M27 38h2M37 38h2M31 40h8M47 40h2M5 42h2M11 42h2M59 42h2M7 44h2M27 44h2M57 44h2M35 46h2M41 46h2M49 46h2M3 48h4M51 48h2M39 50h2M55 50h2M59 50h2M11 52h2M17 52h2M33 52h4M45 52h2M59 52h2M3 54h4M23 54h2M31 54h4M11 56h2M25 56h2M31 56h2M45 56h2M7 58h2M11 58h2M23 58h2M33 58h2M37 58h2M41 58h2M37 60h2M5 62h2M37 62h2M45 62h2M53 62h2M-1 64h2M37 64h2M45 66h2M57 66h2M9 68h2M13 68h2M27 68h2M51 68h2M31 70h2M51 70h2M55 70h2M3 72h2M7 72h2M13 72h2M23 72h2M27 72h2M31 74h4M43 74h2M55 74h2M17 76h2M23 76h2M33 76h2M-1 78h2M5 78h2M29 78h2M11 80h2M57 82h2M11 84h2M19 84h2M29 84h2M1 86h2M19 86h2M21 88h2M37 88h2M45 88h2M49 88h2M7 90h2M13 90h2M27 90h2M55 90h2M5 92h2M9 92h2M19 92h2M23 92h2M35 92h4M53 92h2M-1 94h2M11 94h2M15 94h4M23 94h2M51 94h2M33 96h2M3 98h2M7 98h4M27 98h2M5 100h4M21 100h2M35 100h2M49 100h2"/><path stroke="#80ff80" d="M5 0h2M17 0h2M57 2h2M23 6h2M35 6h2M45 6h2M57 6h2M3 10h2M19 10h2M37 10h2M59 10h2M33 14h2M45 14h2M29 16h2M47 16h2M57 16h2M1 18h2M17 18h2M21 18h2M43 18h2M23 20h2M41 20h2M57 20h2M-1 22h2M21 24h2M53 24h2M47 26h2M49 28h2M43 30h2M37 32h2M11 34h2M25 34h2M7 38h2M23 38h2M33 38h2M51 40h2M57 40h2M57 42h2M11 44h2M33 44h2M45 46h2M23 52h2M15 54h2M41 56h2M59 56h2M21 58h2M43 58h2M13 60h2M31 60h6M53 60h2M15 62h2M41 62h2M19 64h2M57 64h2M19 66h2M7 68h2M55 68h4M59 70h2M53 72h2M11 74h2M17 74h2M21 76h2M37 76h2M21 78h2M27 78h2M47 84h2M15 88h2M57 90h2M21 92h2M1 94h2M21 94h2M21 98h2"/><path stroke="#8fff70" d="M35 0h2M13 2h2M35 2h2M7 4h2M41 4h2M49 4h2M5 8h2M47 8h2M11 10h2M-1 12h2M7 12h4M39 12h2M45 12h2M1 14h2M41 14h2M35 16h2M-1 18h2M3 18h2M29 18h2M53 18h2M29 20h2M51 20h2M11 22h2M43 22h2M9 24h2M37 24h2M41 26h2M11 28h2M27 30h2M37 30h2M3 34h2M13 34h2M31 36h2M55 36h2M35 38h2M57 38h2M23 42h2M29 42h2M55 42h2M5 44h2M47 44h2M1 46h2M17 46h2M27 46h2M13 48h2M5 50h2M43 50h2M49 50h4M7 52h2M51 52h2M1 54h2M13 54h2M41 54h2M19 56h2M23 56h2M15 58h2M47 58h2M59 60h2M9 62h2M49 62h2M17 64h2M23 64h2M33 66h2M55 66h2M41 68h2M11 72h2M31 72h4M25 74h2M15 76h2M49 76h2M59 76h2M17 82h2M-1 84h2M9 84h2M31 84h2M41 84h2M59 84h2M29 86h4M53 88h2M-1 90h2M11 90h2M53 90h2M13 92h2M45 92h2M49 92h2M1 96h2M53 96h2M11 98h2M29 98h2M45 98h2M11 100h2M17 100h2"/><path stroke="#9fff60" d="M25 4h2M-1 6h4M25 6h2M25 8h2M49 8h2M13 10h2M31 10h2M15 12h2M21 12h2M47 12h2M55 12h2M11 14h2M47 14h2M3 16h2M19 16h2M37 16h2M5 20h2M17 20h2M43 20h2M13 22h2M45 22h2M49 22h2M19 24h2M25 24h2M33 24h2M5 26h2M43 28h2M51 28h2M59 28h2M1 30h2M23 30h2M45 30h2M51 30h2M49 32h2M57 32h2M45 34h2M-1 36h2M21 36h2M33 36h4M59 36h2M13 38h2M19 38h2M49 38h2M7 40h2M-1 42h2M3 42h2M17 42h2M31 46h2M57 46h2M15 48h2M33 48h4M43 48h2M23 50h2M57 50h2M9 52h2M47 54h2M51 56h2M13 58h2M27 60h2M51 60h2M55 60h2M17 62h2M23 62h2M51 62h2M21 64h2M45 64h2M55 64h2M1 66h2M25 66h2M29 66h2M35 66h2M47 66h2M-1 70h2M9 70h2M19 70h2M23 70h2M1 72h2M1 74h2M47 74h2M51 76h2M55 76h2M3 78h2M9 78h2M39 78h2M59 78h2M1 80h2M17 80h2M31 80h2M1 82h2M31 82h2M3 86h2M13 86h2M45 86h2M13 88h2M25 88h2M9 90h2M23 90h2M39 90h2M47 90h2M-1 92h2M33 92h2M39 92h4M3 94h2M29 94h2M19 96h2M35 96h2M17 98h2M23 98h2M35 98h2M49 98h2M9 100h2"/><path stroke="#afff50" d="M19 0h2M31 0h2M33 2h2M27 4h2M19 6h2M55 6h2M13 8h4M27 8h6M45 8h2M9 10h2M15 10h2M21 10h2M13 12h2M19 12h2M37 14h2M51 14h2M11 16h2M39 16h2M43 16h2M49 16h2M25 18h2M33 18h2M39 18h2M49 18h2M55 18h2M13 20h2M37 20h2M3 22h2M9 22h2M31 22h2M39 22h2M51 22h2M17 24h2M41 24h2M49 24h2M1 26h2M11 26h2M25 26h2M43 26h2M57 26h2M55 28h2M3 30h2M13 30h2M17 30h2M25 30h2M3 32h2M-1 34h2M5 34h2M49 34h2M13 36h2M1 38h2M9 38h2M25 42h4M35 44h2M53 44h2M9 46h2M13 46h2M59 46h2M-1 48h2M41 48h2M13 50h2M21 50h2M41 50h2M43 52h2M53 52h2M-1 54h2M11 54h2M51 54h4M7 56h2M13 56h2M47 56h2M1 58h2M17 58h2M-1 60h2M3 60h2M15 60h2M57 60h2M57 62h2M13 66h2M43 66h2M51 66h2M11 68h2M37 68h2M47 68h2M19 74h2M37 74h2M-1 76h2M5 76h2M35 76h2M39 76h4M57 76h2M35 80h2M53 84h4M21 86h2M25 86h4M57 86h2M27 88h2M31 88h2M17 90h2M33 90h2M59 90h2M11 92h2M57 92h4M7 94h4M37 94h2M49 94h2M59 94h2M7 96h4M13 96h2M43 96h2M19 98h2M43 98h2M59 98h2M15 100h2M39 100h4"/><path stroke="#bfff40" d="M33 0h2M39 0h2M25 2h2M37 2h2M51 2h2M55 2h2M5 4h2M31 4h2M3 6h2M7 6h2M13 6h2M37 6h2M39 8h2M55 8h2M-1 10h2M27 10h2M43 10h4M25 12h2M31 12h2M37 12h2M41 12h2M57 12h2M15 14h2M21 14h2M35 14h2M49 14h2M53 14h2M5 16h4M13 16h2M15 18h2M-1 20h2M7 20h4M19 20h4M39 20h2M21 22h2M29 22h2M11 24h2M31 24h2M27 26h2M39 26h2M-1 28h2M-1 30h2M9 30h2M15 30h2M9 32h2M29 32h4M35 32h2M17 34h2M27 34h2M39 34h2M55 34h2M1 36h2M53 36h2M5 38h2M15 38h2M31 38h2M45 38h4M55 38h2M59 38h2M1 40h2M11 40h2M21 40h2M39 40h8M53 40h2M13 42h2M49 42h2M23 44h2M29 44h2M37 44h6M49 44h2M33 46h2M51 46h2M25 52h4M39 52h2M47 52h2M57 52h2M7 54h2M-1 56h2M35 56h2M53 56h6M25 58h2M51 58h6M9 60h4M29 62h2M3 64h4M13 64h2M29 64h2M39 64h2M15 66h2M1 68h6M31 68h2M39 68h2M27 70h2M15 72h2M19 72h2M35 72h2M39 72h2M3 74h2M9 74h2M29 74h2M3 76h2M9 76h2M13 78h4M33 78h2M57 78h2M47 82h2M25 84h2M35 84h2M43 84h2M7 86h2M59 86h2M3 88h4M23 88h2M41 88h2M1 90h2M19 90h2M35 90h2M51 90h2M15 92h2M25 92h2M55 92h2M13 94h2M19 94h2M25 94h2M35 94h2M29 96h4M1 98h2M33 98h2M37 98h2M55 98h2M27 100h2M31 100h2M59 100h2"/><path stroke="#cfff30" d="M1 0h2M23 0h2M41 0h2M51 0h2M7 2h2M15 2h2M31 2h2M53 2h2M13 4h4M43 4h2M33 6h2M49 6h2M1 8h4M7 8h2M33 8h2M41 8h4M59 8h2M53 10h2M1 12h4M23 12h2M27 12h2M59 12h2M-1 14h2M17 14h2M29 14h2M55 14h2M59 14h2M15 16h2M21 16h2M25 16h2M33 16h2M45 16h2M53 16h2M7 18h2M11 18h2M45 18h4M15 20h2M45 20h2M59 20h2M41 22h2M55 22h2M1 24h4M15 24h2M59 24h2M7 26h2M17 26h2M5 28h2M9 28h2M13 28h2M35 28h2M5 30h2M53 30h2M1 32h2M7 32h2M11 32h2M21 32h2M43 32h2M47 32h2M59 32h2M21 34h2M33 34h2M3 36h2M7 36h2M11 36h2M17 36h2M25 36h2M57 36h2M25 38h2M53 38h2M5 40h2M25 40h4M55 40h2M7 42h2M19 42h2M39 42h2M45 42h2M1 44h2M9 44h2M15 44h2M21 44h2M43 44h2M59 44h2M19 48h2M39 48h2M47 48h2M11 50h2M45 50h2M53 50h2M-1 52h2M15 52h2M29 52h2M55 52h2M19 54h2M39 54h2M55 54h4M9 56h2M15 56h4M39 56h2M3 58h2M9 58h2M39 58h2M7 60h2M19 60h2M-1 62h2M19 62h2M35 62h2M43 62h2M55 62h2M1 64h2M7 64h2M49 64h2M53 64h2M3 66h2M9 66h2M17 66h2M31 66h2M49 66h2M29 68h2M15 70h2M37 70h2M49 70h2M57 70h2M5 72h2M41 72h4M55 72h2M59 72h2M5 74h2M59 74h2M11 76h4M53 76h2M47 78h4M9 80h2M13 80h2M25 80h4M53 80h2M57 80h2M-1 82h2M13 82h2M25 82h4M43 82h2M53 82h2M59 82h2M27 84h2M33 84h2M37 84h2M35 86h2M49 86h2M55 86h2M47 88h2M51 88h2M55 88h2M5 90h2M21 90h2M7 92h2M27 92h2M31 92h2M51 92h2M41 94h2M45 94h4M53 94h2M5 96h2M21 96h2M25 96h2M39 96h2M47 96h2M5 98h2M47 98h2M53 98h2M57 98h2M3 100h2M23 100h2M53 100h2"/><path stroke="#dfff20" d="M3 0h2M9 0h2M13 0h2M59 0h2M17 2h2M3 4h2M33 4h2M59 4h2M9 6h4M47 6h2M59 6h2M23 8h2M53 8h2M57 8h2M23 10h2M41 10h2M47 10h2M51 10h2M55 10h2M35 12h2M49 12h2M53 12h2M7 14h4M23 14h2M39 14h2M57 14h2M9 18h2M41 18h2M57 18h2M25 20h2M33 20h2M55 20h2M27 22h2M37 22h2M53 22h2M35 24h2M51 24h2M55 24h4M9 26h2M23 26h2M35 26h2M7 28h2M19 28h2M33 28h2M47 28h2M41 30h2M47 30h2M13 32h6M27 32h2M45 32h2M51 32h2M15 34h2M47 34h2M53 34h2M9 36h2M27 36h2M41 36h2M47 36h2M3 38h2M41 38h2M3 40h2M9 40h2M49 40h2M59 40h2M15 42h2M41 42h4M47 42h2M25 44h2M47 46h2M11 48h2M-1 50h4M15 50h2M19 50h2M5 52h2M41 52h2M49 52h2M27 54h2M27 56h4M33 56h2M43 56h2M49 56h2M5 58h2M27 58h4M49 58h2M57 58h4M43 60h2M49 60h2M7 62h2M13 62h2M21 62h2M39 62h2M27 64h2M31 64h4M43 64h2M51 64h2M59 64h2M-1 66h2M7 66h2M11 66h2M21 66h2M41 66h2M17 68h2M49 68h2M59 68h2M1 70h2M5 70h2M11 70h2M17 70h2M47 72h2M7 74h2M15 74h2M27 74h2M35 74h2M51 74h2M57 74h2M7 76h2M19 76h2M29 76h2M45 76h2M7 78h2M15 80h2M21 80h4M37 80h2M51 80h2M3 82h2M39 82h2M55 82h2M15 84h2M45 84h2M51 84h2M5 86h2M15 86h2M23 86h2M33 86h2M39 86h4M19 88h2M39 88h2M25 90h2M41 90h2M1 92h2M29 92h2M43 94h2M57 94h2M-1 96h2M11 96h2M15 96h2M23 96h2M41 96h2M13 98h4M-1 100h2M13 100h2M55 100h2"/><path stroke="#efff10" d="M7 0h2M11 0h2M15 0h2M25 0h2M37 0h2M45 0h2M49 0h2M1 2h2M9 2h2M41 2h2M-1 4h4M19 4h2M29 4h2M57 4h2M29 10h2M43 12h2M1 16h2M9 16h2M51 16h2M31 18h2M1 20h2M7 22h2M33 22h4M-1 24h2M13 24h2M15 26h2M19 26h2M37 26h2M3 28h2M23 28h2M27 28h2M31 28h2M37 28h2M45 28h2M53 28h2M7 30h2M19 30h2M31 30h4M57 30h2M-1 32h2M53 32h2M29 36h2M43 36h2M11 38h2M21 38h2M51 38h2M13 40h2M23 40h2M1 42h2M9 42h2M31 42h8M51 44h2M55 44h2M5 46h4M19 46h4M49 48h2M53 48h4M7 50h4M21 54h2M35 54h2M49 54h2M59 54h2M5 56h2M19 58h2M31 58h2M1 60h2M17 60h2M41 60h2M45 60h2M11 64h2M15 68h2M33 68h2M45 70h4M-1 72h2M45 72h2M21 74h2M41 74h2M53 74h2M1 78h2M25 78h2M41 78h2M19 80h2M39 80h2M9 82h2M15 82h2M21 82h4M29 82h2M7 84h2M17 84h2M23 84h2M39 84h2M49 84h2M9 86h4M37 86h2M43 86h2M51 86h2M45 90h2M47 92h2M31 94h4M17 96h2M45 96h2M55 96h2M-1 98h2M39 98h2M1 100h2M29 100h2M43 100h2M57 100h2"/><path stroke="#ffff00" d="M21 0h2M27 0h2M3 2h2M45 2h2M11 4h2M23 4h2M35 4h2M41 6h2M51 6h2M9 8h2M21 8h2M17 12h2M25 14h4M31 16h2M41 16h2M5 18h2M27 18h2M59 18h2M35 20h2M47 20h2M5 22h2M19 22h2M3 26h2M39 28h2M11 30h2M35 30h2M5 32h2M19 32h2M31 34h2M37 34h2M41 34h2M39 36h2M49 36h2M51 42h4M17 44h2M45 44h2M15 46h2M55 46h2M1 48h2M7 48h2M17 48h2M45 48h2M59 48h2M33 50h2M1 52h2M1 56h4M21 56h2M37 56h2M5 60h2M29 60h2M27 62h2M31 62h2M47 62h2M15 64h2M37 66h2M53 66h2M59 66h2M21 68h4M3 70h2M7 70h2M29 70h2M43 70h2M53 70h2M25 72h2M29 72h2M49 72h2M-1 74h2M27 76h2M43 76h2M43 78h2M-1 80h2M7 80h2M29 80h2M41 80h2M47 80h2M5 82h2M11 82h2M35 82h2M45 82h2M3 84h4M21 84h2M17 86h2M29 88h2M43 88h2M3 90h2M3 92h2M17 92h2M55 94h2M3 96h2M59 96h2M31 98h2M41 98h2M25 100h2M37 100h2M47 100h2M51 100h2"/><path stroke="#ffef00" d="M-1 2h2M23 2h2M47 2h2M47 4h2M17 6h2M11 8h2M17 8h2M37 8h2M17 10h2M13 14h2M43 14h2M31 26h2M45 26h2M53 26h4M1 28h2M21 28h2M29 28h2M29 30h2M39 30h2M59 30h2M39 32h2M51 34h2M17 38h2M29 38h2M19 40h2M-1 44h2M31 44h2M-1 46h2M37 46h2M21 48h2M17 50h2M13 52h2M9 54h2M25 54h2M-1 58h2M1 62h4M25 62h2M59 62h2M9 64h2M25 64h2M39 66h2M45 68h2M13 70h2M21 70h2M25 70h2M41 70h2M13 74h2M49 74h2M1 76h2M19 78h2M51 78h2M55 78h2M43 80h2M49 80h2M59 80h2M33 82h2M41 82h2M13 84h2M9 88h4M33 88h4M57 88h4M15 90h2M29 90h2M27 94h2M37 96h2M51 96h2M57 96h2M25 98h2M19 100h2M45 100h2"/><path stroke="#ffdf00" d="M-1 0h2M47 0h2M53 0h2M39 2h2M21 4h2M51 4h2M5 6h2M15 6h2M29 12h2M33 12h2M55 16h2M51 18h2M15 22h2M47 22h2M59 22h2M21 30h2M33 32h2M15 36h2M43 38h2M-1 40h2M17 40h2M29 40h2M3 44h2M19 44h2M3 46h2M29 46h2M43 46h2M53 46h2M37 48h2M3 50h2M31 50h2M3 52h2M37 52h2M35 58h2M35 64h2M23 66h2M-1 68h2M53 68h2M35 70h2M17 72h2M21 72h2M39 74h2M45 74h2M47 76h2M11 78h2M23 78h2M37 78h2M45 78h2M53 78h2M45 80h2M55 80h2M19 82h2M-1 88h2M37 90h2M43 90h2M49 90h2M43 92h2M49 96h2M33 100h2"/><path stroke="#ffcf00" d="M29 2h2M43 2h2M59 2h2M39 4h2M5 10h4M49 10h2M5 12h2M37 18h2M23 22h2M45 24h2M49 30h2M55 30h2M25 32h2M41 32h2M19 34h2M29 34h2M59 34h2M19 36h2M15 40h2M21 42h2M13 44h2M11 46h2M39 46h2M9 48h2M57 48h2M37 50h2M47 50h2M19 52h4M31 52h2M29 54h2M37 54h2M43 54h4M39 60h2M11 62h2M47 64h2M19 68h2M25 68h2M35 68h2M43 68h2M33 70h2M51 72h2M23 74h2M31 76h2M35 78h2M3 80h2M7 82h2M37 82h2M-1 86h2M47 86h2M7 88h2M17 88h2M51 98h2"/><path stroke="#ffbf00" d="M37 4h2M39 10h2M11 12h2M23 18h2M39 24h2M25 50h2M35 50h2M21 60h6M39 70h2M37 72h2M17 78h2M1 88h2M31 90h2M27 96h2"/><path stroke="#ffaf00" d="M29 6h2M51 8h2M57 10h2M19 18h2M23 24h2M27 24h2M15 28h4M25 28h2M31 48h2M27 50h4M33 62h2M5 80h2M49 82h4M57 84h2"/><path stroke="#ff9f00" d="M23 46h4"/><path stroke="#ff8f00" d="M29 48h2"/><path stroke="#ff7000" d="M23 48h2"/><path stroke="#ff5000" d="M25 48h4"/></g></svg>
<div class="ax" style="left:413.60px;top:421.60px;width:268.20px;height:241.00px"></div>
<div class="t" style="left:384.25px;top:669.62px;font-size:10.50px;line-height:10.50px;letter-spacing:0.30px;width:60px;text-align:center">100</div>
<div class="t" style="left:428.78px;top:669.62px;font-size:10.50px;line-height:10.50px;letter-spacing:0.30px;width:60px;text-align:center">105</div>
<div class="tk" style="left:458.13px;top:659.10px;width:1px;height:2.5px"></div>
<div class="tk" style="left:458.13px;top:422.60px;width:1px;height:2.5px"></div>
<div class="t" style="left:473.32px;top:669.62px;font-size:10.50px;line-height:10.50px;letter-spacing:0.30px;width:60px;text-align:center">110</div>
<div class="tk" style="left:502.67px;top:659.10px;width:1px;height:2.5px"></div>
<div class="tk" style="left:502.67px;top:422.60px;width:1px;height:2.5px"></div>
<div class="t" style="left:517.85px;top:669.62px;font-size:10.50px;line-height:10.50px;letter-spacing:0.30px;width:60px;text-align:center">115</div>
<div class="tk" style="left:547.20px;top:659.10px;width:1px;height:2.5px"></div>
<div class="tk" style="left:547.20px;top:422.60px;width:1px;height:2.5px"></div>
<div class="t" style="left:562.38px;top:669.62px;font-size:10.50px;line-height:10.50px;letter-spacing:0.30px;width:60px;text-align:center">120</div>
<div class="tk" style="left:591.73px;top:659.10px;width:1px;height:2.5px"></div>
<div class="tk" style="left:591.73px;top:422.60px;width:1px;height:2.5px"></div>
<div class="t" style="left:606.92px;top:669.62px;font-size:10.50px;line-height:10.50px;letter-spacing:0.30px;width:60px;text-align:center">125</div>
<div class="tk" style="left:636.27px;top:659.10px;width:1px;height:2.5px"></div>
<div class="tk" style="left:636.27px;top:422.60px;width:1px;height:2.5px"></div>
<div class="t" style="left:651.45px;top:669.62px;font-size:10.50px;line-height:10.50px;letter-spacing:0.30px;width:60px;text-align:center">130</div>
<div class="t" style="left:348.80px;top:417.77px;font-size:10.50px;line-height:10.50px;letter-spacing:0.30px;width:60px;text-align:right">-740</div>
<div class="t" style="left:348.80px;top:465.77px;font-size:10.50px;line-height:10.50px;letter-spacing:0.30px;width:60px;text-align:right">-720</div>
<div class="tk" style="left:414.60px;top:469.60px;width:2.5px;height:1px"></div>
<div class="tk" style="left:678.30px;top:469.60px;width:2.5px;height:1px"></div>
<div class="t" style="left:348.80px;top:513.77px;font-size:10.50px;line-height:10.50px;letter-spacing:0.30px;width:60px;text-align:right">-700</div>
<div class="tk" style="left:414.60px;top:517.60px;width:2.5px;height:1px"></div>
<div class="tk" style="left:678.30px;top:517.60px;width:2.5px;height:1px"></div>
<div class="t" style="left:348.80px;top:561.77px;font-size:10.50px;line-height:10.50px;letter-spacing:0.30px;width:60px;text-align:right">-680</div>
<div class="tk" style="left:414.60px;top:565.60px;width:2.5px;height:1px"></div>
<div class="tk" style="left:678.30px;top:565.60px;width:2.5px;height:1px"></div>
<div class="t" style="left:348.80px;top:609.77px;font-size:10.50px;line-height:10.50px;letter-spacing:0.30px;width:60px;text-align:right">-660</div>
<div class="tk" style="left:414.60px;top:613.60px;width:2.5px;height:1px"></div>
<div class="tk" style="left:678.30px;top:613.60px;width:2.5px;height:1px"></div>
<div class="t" style="left:348.80px;top:657.77px;font-size:10.50px;line-height:10.50px;letter-spacing:0.30px;width:60px;text-align:right">-640</div>
<div class="t" style="left:468.00px;top:685.53px;font-size:11.90px;line-height:11.90px;letter-spacing:0.60px;width:160px;text-align:center">Range bin</div>
<div class="t" style="left:274.81px;top:537.62px;width:200px;height:11.80px;font-size:11.80px;line-height:11.80px;letter-spacing:0.75px;text-align:center;transform:rotate(-90deg)">Doppler Shift [Hz]</div>
<svg class="hm" style="left:762.30px;top:422.10px;width:266.10px;height:240.00px" viewBox="0 0 60 100" preserveAspectRatio="none" shape-rendering="crispEdges"><rect x="0" y="0" width="60" height="100" fill="#bfff40"/><g stroke-width="2"><path stroke="#0050ff" d="M29 72h2"/><path stroke="#0060ff" d="M51 70h2"/><path stroke="#0070ff" d="M23 12h2M7 68h2"/><path stroke="#008fff" d="M55 28h2M37 44h2M39 62h2"/><path stroke="#009fff" d="M37 88h2"/><path stroke="#00afff" d="M41 12h2M31 34h2M35 38h2M43 92h2M17 94h2"/><path stroke="#00bfff" d="M57 46h2M7 94h2"/><path stroke="#00cfff" d="M5 52h2M3 74h2M47 86h2"/><path stroke="#00dfff" d="M31 2h2M49 2h2M1 16h2M45 18h2M29 20h2M3 22h2M3 24h2M19 30h2M13 32h2M47 32h2M15 40h2M5 44h2M43 54h2M47 54h2M1 58h2M39 60h2M39 64h2M27 66h2M49 78h2M11 82h4M33 88h2M3 90h2"/><path stroke="#70ff8f" d="M17 0h2M21 0h2M1 2h2M17 2h2M21 2h2M53 2h2M-1 4h2M5 4h2M31 4h2M53 4h2M27 6h2M47 6h2M57 6h2M15 8h2M19 8h2M25 8h2M53 8h4M-1 10h2M5 10h4M13 10h4M21 10h2M37 10h2M21 12h2M39 12h2M49 12h2M1 14h2M5 14h2M11 14h6M41 14h2M49 14h2M15 16h6M41 16h2M57 16h2M3 18h4M21 18h2M29 18h2M49 18h2M53 18h2M3 20h2M15 20h2M51 20h2M57 20h2M45 22h2M15 24h2M27 24h2M45 24h2M49 24h2M15 26h2M25 26h6M41 26h4M53 26h2M27 28h2M33 28h2M43 28h2M57 28h2M7 30h2M27 30h2M3 32h2M21 32h4M29 32h2M23 34h2M39 34h2M-1 36h2M3 36h2M23 36h2M27 36h4M47 36h2M59 36h2M11 40h2M19 40h4M29 40h2M49 40h2M57 40h2M3 42h2M11 42h2M35 42h2M43 42h2M3 44h2M9 44h2M15 44h4M57 44h2M13 46h2M17 46h2M29 46h4M51 46h2M13 48h2M33 48h2M45 48h2M29 52h2M35 52h2M59 52h2M1 54h2M17 54h2M3 56h2M11 56h2M37 56h2M47 56h2M29 58h2M41 58h2M23 60h2M31 60h2M55 60h2M23 62h2M49 62h2M17 64h2M35 64h2M45 64h6M21 66h4M31 66h2M37 66h2M43 66h4M5 68h2M1 70h2M31 72h2M57 72h2M5 74h2M25 74h2M25 76h2M29 76h2M47 76h2M9 78h2M13 78h2M17 78h2M33 78h2M39 78h2M3 80h2M11 80h2M27 80h4M37 80h2M23 82h2M27 82h2M45 82h2M53 82h2M9 84h2M23 84h2M33 84h6M51 84h2M59 84h2M21 86h2M35 86h2M55 86h2M7 88h2M41 88h2M47 88h2M53 88h2M59 88h2M13 90h2M17 90h2M47 90h2M51 90h2M57 90h2M23 92h2M29 92h2M45 92h2M59 92h2M21 94h2M27 94h2M43 94h2M-1 96h2M7 96h2M47 96h2M7 98h2M27 98h2M35 98h2M49 98h2M15 100h6M33 100h2M49 100h2M57 100h2"/><path stroke="#80ff80" d="M45 0h4M7 2h2M41 2h2M59 4h2M25 6h2M31 6h2M41 6h2M49 6h2M49 10h2M57 10h2M3 12h2M33 12h2M7 14h2M17 14h2M23 16h2M29 16h2M9 18h2M19 18h2M55 18h2M11 20h2M23 20h2M47 20h2M21 22h2M41 24h2M7 26h2M29 30h2M39 30h2M57 30h2M11 32h2M7 34h2M43 34h2M59 34h2M5 36h2M13 36h2M35 36h2M31 38h2M35 40h2M45 40h2M59 40h2M27 42h2M21 44h2M53 48h2M15 50h2M33 50h2M57 50h2M11 54h2M53 54h2M59 54h2M5 56h2M49 60h2M21 62h2M41 62h2M1 68h2M19 68h2M59 70h2M-1 72h2M15 72h2M59 72h2M35 74h2M41 74h2M49 76h2M55 76h2M47 78h2M59 78h2M35 80h2M55 80h2M3 84h2M25 84h2M17 86h2M33 86h2M3 88h2M19 88h2M37 90h2M5 94h2M59 96h2M23 100h2M27 100h2M45 100h2"/><path stroke="#8fff70" d="M-1 0h2M33 0h2M59 0h2M37 2h2M59 2h2M57 8h2M31 10h2M41 10h2M7 12h2M29 12h2M39 14h2M33 16h2M37 18h4M17 20h2M25 20h2M41 20h2M57 22h2M9 24h2M1 26h2M5 26h2M57 26h2M45 28h2M53 28h2M45 30h2M-1 32h4M49 32h2M21 34h2M53 34h2M9 38h2M57 38h2M37 42h2M55 44h2M43 46h2M49 46h2M3 48h2M19 48h2M35 48h2M51 48h2M7 50h2M39 50h2M19 52h2M25 52h2M-1 56h2M17 56h2M31 56h2M15 58h2M39 58h2M57 58h2M25 60h2M17 62h2M29 62h4M35 62h2M23 64h2M33 64h2M57 64h2M1 66h2M33 66h2M27 68h2M31 68h4M45 70h2M7 74h2M17 74h2M29 74h2M33 74h2M17 76h2M21 76h2M39 76h2M35 78h4M9 80h2M51 80h2M11 84h2M17 84h4M37 86h2M57 86h2M5 88h2M29 90h2M35 90h2M49 90h2M3 92h2M31 92h2M51 92h2M11 94h2M37 94h2M49 94h2M55 94h2M17 96h2M53 96h2M9 98h2M17 98h2M1 100h2M5 100h2M51 100h2"/><path stroke="#9fff60" d="M11 0h2M29 0h2M51 0h4M3 2h2M9 2h2M47 2h2M7 4h2M25 4h2M37 4h2M3 6h2M45 6h2M-1 8h2M3 10h2M33 10h2M13 12h2M59 12h2M29 14h2M35 14h2M57 14h2M3 16h2M11 16h2M21 16h2M33 18h2M21 20h2M27 20h2M55 20h2M53 22h2M7 24h2M11 24h2M43 24h2M3 26h2M5 28h4M35 28h2M9 30h2M31 30h2M51 30h4M15 32h2M39 32h4M53 32h2M25 36h2M29 38h2M47 38h2M41 42h2M51 42h2M55 42h2M59 42h2M29 44h2M3 46h2M7 46h2M11 46h2M15 46h2M19 46h2M45 46h2M59 46h2M1 48h2M57 48h2M21 50h2M1 52h2M7 52h2M31 52h2M45 52h2M55 52h4M33 54h2M15 56h2M45 56h2M-1 58h2M11 58h2M25 58h2M27 60h2M-1 62h2M3 62h2M7 62h2M53 62h2M7 64h6M35 66h2M41 66h2M51 66h2M59 66h2M-1 68h2M5 70h2M21 70h2M39 70h2M47 70h2M39 74h2M35 76h2M43 76h2M3 78h2M29 78h2M57 78h2M23 80h2M41 80h2M59 80h2M15 84h2M39 84h2M49 84h2M57 84h2M1 86h2M39 86h2M15 88h2M49 88h4M19 90h2M25 90h2M9 92h2M27 92h2M31 94h4M21 96h2M39 96h2M31 98h2M39 98h2M57 98h2M3 100h2M41 100h2"/><path stroke="#afff50" d="M3 0h2M23 0h2M43 0h2M55 0h2M-1 2h2M5 2h2M11 2h2M27 2h2M35 2h2M43 2h2M1 4h2M9 4h2M13 4h2M57 4h2M29 6h2M7 8h2M27 8h2M27 12h2M47 12h2M9 14h2M43 14h2M39 16h2M49 16h4M27 18h2M35 18h2M1 20h2M33 20h2M1 22h2M-1 24h4M23 24h2M47 24h2M55 24h2M25 28h2M39 28h2M-1 30h2M17 30h2M21 30h2M33 30h2M37 30h2M41 30h2M7 32h2M33 32h4M45 32h2M59 32h2M45 34h2M57 34h2M7 36h2M37 36h2M43 36h2M55 36h2M23 38h2M27 40h2M33 40h2M1 42h2M31 42h2M27 44h2M41 44h2M51 44h2M-1 48h2M43 48h2M49 48h2M59 48h2M1 50h2M17 50h2M55 50h2M3 52h2M9 52h4M33 52h2M19 56h4M51 56h4M9 58h2M13 58h2M-1 60h4M13 60h2M51 60h2M11 62h2M15 62h2M25 62h2M33 62h2M55 64h2M59 64h2M19 66h2M21 68h2M37 68h2M13 70h2M31 70h2M55 70h2M39 72h2M45 72h2M51 72h2M55 72h2M-1 74h4M37 74h2M45 76h2M53 76h2M-1 78h2M25 78h2M-1 80h2M17 80h2M25 80h2M43 80h6M9 82h2M25 82h2M29 82h4M43 82h2M11 86h2M43 86h2M1 88h2M35 88h2M39 88h2M43 88h2M-1 90h2M11 90h2M21 90h4M31 90h2M17 92h4M33 92h2M41 92h2M53 92h2M1 94h4M23 96h2M51 96h2M29 98h2M55 98h2M31 100h2M37 100h2M59 100h2"/><path stroke="#bfff40" d="M1 0h2M19 0h2M39 0h4M55 2h2M41 4h2M49 4h2M15 6h2M59 6h2M45 8h4M29 10h2M45 10h2M53 10h2M15 12h6M37 14h2M-1 16h2M13 18h2M31 18h2M41 18h2M47 18h2M51 18h2M5 20h2M53 20h2M7 22h2M41 22h2M29 24h4M37 26h2M47 26h2M55 26h2M49 28h2M11 30h2M35 30h2M43 32h2M9 34h2M55 34h2M31 36h2M53 36h2M1 38h2M7 38h2M11 38h4M17 38h2M27 38h2M37 38h2M3 40h4M9 40h2M-1 42h2M17 42h2M23 42h4M53 42h2M-1 44h2M43 44h2M49 44h2M59 44h2M5 46h2M41 46h2M11 48h2M47 48h2M11 50h2M37 50h2M53 50h2M17 52h2M27 52h2M47 52h2M35 54h2M1 56h2M13 56h2M39 56h2M5 58h2M27 58h2M37 58h2M51 58h2M-1 64h4M5 64h2M25 64h2M55 66h2M3 68h2M11 68h4M17 68h2M47 68h2M3 70h2M11 70h2M17 70h4M43 70h2M1 72h2M45 74h4M53 74h2M33 76h2M37 76h2M1 78h2M27 78h2M31 78h2M53 78h2M15 80h2M19 82h2M33 82h2M37 82h2M21 84h2M15 86h2M11 88h2M31 88h2M57 88h2M39 90h2M45 90h2M-1 92h2M21 92h2M39 92h2M49 92h2M57 92h2M13 94h2M23 94h2M53 94h2M57 94h4M9 96h2M57 96h2M3 98h2M37 98h2M35 100h2M53 100h2"/><path stroke="#cfff30" d="M13 0h2M25 0h4M15 2h2M39 2h2M45 2h2M23 4h2M29 4h2M1 6h2M13 6h2M17 6h2M37 6h2M51 6h4M3 8h2M11 8h2M27 10h2M-1 12h2M37 12h2M3 14h2M19 14h2M23 14h6M31 14h2M45 14h4M13 16h2M45 16h4M13 20h2M37 20h2M45 20h2M-1 22h2M31 22h2M49 22h2M33 24h2M53 24h2M57 24h2M23 26h2M31 26h2M39 26h2M3 28h2M9 28h2M3 30h2M13 30h2M25 30h2M49 30h2M31 32h2M37 32h2M19 34h2M47 34h4M9 36h2M19 36h4M57 36h2M15 38h2M33 38h2M41 38h2M23 40h4M7 42h2M13 42h2M57 42h2M11 44h2M47 44h2M53 44h2M55 46h2M17 48h2M37 48h4M55 48h2M9 50h2M19 50h2M35 50h2M47 50h2M41 52h4M53 52h2M19 54h2M27 54h2M7 56h2M41 56h2M21 58h2M55 58h2M3 60h2M19 60h2M59 60h2M5 62h2M9 62h2M13 62h2M19 62h2M47 62h2M51 62h2M13 64h2M21 64h2M3 66h4M11 66h2M39 66h2M47 66h2M9 68h2M15 68h2M23 68h2M51 68h4M9 70h2M23 70h2M49 70h2M33 72h2M43 72h2M49 72h2M13 74h2M19 74h2M23 74h2M27 74h2M31 76h2M43 78h2M5 80h2M31 80h2M21 82h2M35 82h2M39 82h2M55 82h2M45 84h2M7 86h2M13 86h2M29 86h2M51 86h2M-1 88h2M9 88h2M45 88h2M1 90h2M9 90h2M27 90h2M59 90h2M5 92h2M13 92h4M35 94h2M1 96h6M31 96h2M11 98h2M19 98h4M47 98h2M53 98h2M-1 100h2M13 100h2M21 100h2M39 100h2M55 100h2"/><path stroke="#dfff20" d="M35 0h2M19 2h2M23 2h2M29 2h2M3 4h2M17 4h2M45 4h4M55 4h2M5 6h4M23 6h2M1 8h2M5 8h2M13 8h2M39 8h2M17 10h2M39 10h2M47 10h2M51 10h2M59 10h2M5 12h2M11 12h2M25 12h2M31 12h2M53 14h2M59 14h2M5 16h6M31 16h2M53 16h2M1 18h2M7 18h2M23 18h2M-1 20h2M31 20h2M39 20h2M43 20h2M49 20h2M11 22h2M27 22h2M33 22h2M39 22h2M47 22h2M-1 26h2M13 26h2M49 26h2M59 26h2M1 28h2M11 28h2M19 28h2M29 28h2M59 28h2M9 32h2M19 32h2M5 34h2M11 34h2M17 34h2M25 34h2M29 34h2M37 34h2M51 34h2M33 36h2M45 36h2M39 38h2M43 38h2M53 38h2M59 38h2M-1 40h2M7 40h2M13 40h2M39 40h6M47 40h2M5 42h2M9 42h2M39 42h2M31 44h2M35 46h2M39 46h2M53 46h2M5 48h2M13 50h2M27 50h2M45 50h2M59 50h2M39 52h2M49 52h4M5 54h2M21 54h2M31 54h2M41 54h2M51 54h2M55 54h4M35 56h2M3 58h2M43 58h2M47 58h4M5 60h2M15 60h2M35 60h2M45 60h4M1 62h2M27 62h2M59 62h2M19 64h2M29 64h2M37 64h2M51 64h2M7 66h2M35 68h2M39 68h4M27 70h2M53 70h2M13 72h2M17 72h2M25 72h2M47 72h2M31 74h2M43 74h2M9 76h2M13 76h2M51 76h2M5 78h2M15 78h2M19 78h6M41 78h2M45 78h2M7 80h2M33 80h2M49 80h2M5 82h2M15 82h2M-1 84h4M29 84h4M41 84h2M-1 86h2M31 86h2M59 86h2M29 88h2M33 90h2M53 90h4M37 92h2M55 92h2M19 94h2M39 94h4M51 94h2M27 96h2M33 96h4M45 96h2M49 96h2M1 98h2M15 98h2M23 98h2M45 98h2M11 100h2"/><path stroke="#efff10" d="M9 0h2M15 0h2M37 0h2M51 2h2M57 2h2M19 4h2M39 4h2M43 4h2M9 6h2M21 6h2M17 8h2M21 8h2M31 8h2M1 10h2M23 10h4M55 14h2M35 16h2M15 18h2M25 18h2M9 20h2M5 22h2M35 22h4M43 22h2M55 22h2M13 24h2M25 24h2M51 24h2M9 26h2M15 28h2M41 28h2M51 28h2M5 30h2M47 30h2M55 30h2M17 32h2M55 32h2M-1 34h2M35 34h2M41 34h2M17 36h2M41 36h2M51 36h2M-1 38h2M3 38h2M55 38h2M17 40h2M31 40h2M29 42h2M33 42h2M45 42h2M7 44h2M1 46h2M33 46h2M37 46h2M9 48h2M31 48h2M31 50h2M41 50h2M51 50h2M-1 52h2M45 54h2M9 56h2M27 56h2M33 56h2M55 56h4M17 58h2M23 58h2M21 60h2M29 60h2M37 60h2M41 60h2M53 60h2M57 60h2M43 62h2M31 64h2M45 68h2M55 68h2M-1 70h2M25 70h2M29 70h2M3 72h8M35 72h2M53 72h2M49 74h2M1 76h2M5 76h4M13 80h2M19 80h4M-1 82h2M3 82h2M7 82h2M51 82h2M27 84h2M53 84h2M23 86h4M41 86h2M49 86h2M53 86h2M17 88h2M43 90h2M19 96h2M37 96h2M41 96h2M13 98h2M43 98h2M51 98h2M59 98h2M25 100h2M29 100h2M47 100h2"/><path stroke="#ffff00" d="M5 0h4M31 0h2M49 0h2M57 0h2M13 2h2M25 2h2M33 2h2M27 4h2M35 4h2M-1 6h2M11 6h2M19 6h2M33 6h4M43 6h2M33 8h2M41 8h2M9 10h4M35 10h2M9 12h2M43 12h2M33 14h2M51 14h2M55 16h2M17 18h2M57 18h2M35 20h2M9 22h2M15 22h4M23 22h2M29 22h2M51 22h2M5 24h2M19 24h4M59 24h2M17 26h2M35 26h2M51 26h2M-1 28h2M17 28h2M15 30h2M57 32h2M33 34h2M11 36h2M5 38h2M21 38h2M45 38h2M49 38h2M53 40h2M15 42h2M47 42h4M19 44h2M39 44h2M5 50h2M25 50h2M43 50h2M15 52h2M21 52h2M3 54h2M15 54h2M25 56h2M29 56h2M7 58h2M53 58h2M9 60h2M33 60h2M37 62h2M3 64h2M9 66h2M17 66h2M25 66h2M57 66h2M29 68h2M49 68h2M59 68h2M15 70h2M37 70h2M19 72h2M27 72h2M11 74h2M57 74h2M-1 76h2M19 76h2M7 78h2M11 78h2M17 82h2M41 82h2M7 84h2M47 84h2M19 86h2M45 86h2M21 88h2M15 90h2M41 90h2M25 92h2M35 92h2M25 94h2M47 94h2M11 96h2M25 96h2M25 98h2M7 100h2"/><path stroke="#ffef00" d="M39 6h2M55 6h2M9 8h2M35 8h4M19 10h2M1 12h2M35 12h2M27 16h2M59 16h2M-1 18h2M11 18h2M43 18h2M59 18h2M59 20h2M17 24h2M37 24h4M27 32h2M3 34h2M15 34h2M27 34h2M55 40h2M-1 46h2M9 46h2M47 46h2M41 48h2M-1 50h2M3 50h2M29 50h2M49 50h2M37 52h2M7 54h4M13 54h2M25 54h2M37 54h2M49 54h2M49 56h2M59 56h2M19 58h2M59 58h2M7 60h2M55 62h4M27 64h2M41 64h2M53 66h2M43 68h2M7 70h2M37 72h2M9 74h2M55 74h2M3 76h2M23 76h2M41 76h2M57 76h2M55 78h2M1 80h2M53 80h2M57 80h2M43 84h2M5 86h2M9 86h2M27 86h2M13 88h2M25 88h2M55 88h2M1 92h2M7 92h2M47 92h2M-1 94h2M45 94h2M15 96h2M29 96h2M43 96h2M5 98h2M33 98h2M43 100h2"/><path stroke="#ffdf00" d="M21 4h2M33 4h2M59 8h2M43 10h2M45 12h2M57 12h2M-1 14h2M25 16h2M37 16h2M43 16h2M35 24h2M45 26h2M23 28h2M37 28h2M23 30h2M59 30h2M5 32h2M13 34h2M15 36h2M39 36h2M49 36h2M25 38h2M51 40h2M21 42h2M45 44h2M13 52h2M-1 54h2M29 54h2M23 56h2M43 56h2M45 58h2M45 62h2M15 64h2M43 64h2M-1 66h2M13 66h2M49 66h2M41 70h2M57 70h2M23 72h2M41 72h2M15 74h2M21 74h2M59 74h2M27 76h2M51 78h2M39 80h2M5 90h2M9 94h2M15 94h2M13 96h2M-1 98h2M41 98h2M9 100h2"/><path stroke="#ffcf00" d="M11 4h2M15 4h2M51 4h2M51 8h2M55 10h2M19 20h2M13 22h2M25 22h2M11 26h2M19 26h4M31 28h2M47 28h2M43 30h2M25 32h2M51 32h2M1 34h2M1 36h2M19 38h2M37 40h2M19 42h2M1 44h2M25 44h2M7 48h2M15 48h2M29 48h2M23 50h2M39 54h2M11 60h2M43 60h2M15 66h2M29 66h2M25 68h2M57 68h2M11 72h2M21 72h2M15 76h2M59 76h2M1 82h2M57 82h2M5 84h2M55 84h2M3 86h2M27 88h2M7 90h2M11 92h2M29 94h2M55 96h2"/><path stroke="#ffbf00" d="M23 8h2M29 8h2M43 8h2M49 8h2M21 14h2M7 20h2M21 28h2M1 30h2M51 38h2M1 40h2M13 44h2M33 44h4M23 54h2M35 58h2M53 64h2M33 70h2M51 74h2M23 88h2"/><path stroke="#ffaf00" d="M51 12h6M19 22h2M33 26h2M13 28h2M23 44h2M25 48h2M23 52h2M31 58h4M17 60h2M35 70h2M11 76h2M47 82h4M13 84h2"/><path stroke="#ff9f00" d="M59 22h2M21 46h2M27 46h2M59 82h2"/><path stroke="#ff8f00" d="M25 46h2M27 48h2"/><path stroke="#ff8000" d="M23 46h2"/><path stroke="#ff6000" d="M21 48h2"/><path stroke="#ff4000" d="M23 48h2"/></g></svg>
<div class="ax" style="left:761.80px;top:421.60px;width:267.10px;height:241.00px"></div>
<div class="t" style="left:732.45px;top:669.62px;font-size:10.50px;line-height:10.50px;letter-spacing:0.30px;width:60px;text-align:center">100</div>
<div class="t" style="left:776.80px;top:669.62px;font-size:10.50px;line-height:10.50px;letter-spacing:0.30px;width:60px;text-align:center">105</div>
<div class="tk" style="left:806.15px;top:659.10px;width:1px;height:2.5px"></div>
<div class="tk" style="left:806.15px;top:422.60px;width:1px;height:2.5px"></div>
<div class="t" style="left:821.15px;top:669.62px;font-size:10.50px;line-height:10.50px;letter-spacing:0.30px;width:60px;text-align:center">110</div>
<div class="tk" style="left:850.50px;top:659.10px;width:1px;height:2.5px"></div>
<div class="tk" style="left:850.50px;top:422.60px;width:1px;height:2.5px"></div>
<div class="t" style="left:865.50px;top:669.62px;font-size:10.50px;line-height:10.50px;letter-spacing:0.30px;width:60px;text-align:center">115</div>
<div class="tk" style="left:894.85px;top:659.10px;width:1px;height:2.5px"></div>
<div class="tk" style="left:894.85px;top:422.60px;width:1px;height:2.5px"></div>
<div class="t" style="left:909.85px;top:669.62px;font-size:10.50px;line-height:10.50px;letter-spacing:0.30px;width:60px;text-align:center">120</div>
<div class="tk" style="left:939.20px;top:659.10px;width:1px;height:2.5px"></div>
<div class="tk" style="left:939.20px;top:422.60px;width:1px;height:2.5px"></div>
<div class="t" style="left:954.20px;top:669.62px;font-size:10.50px;line-height:10.50px;letter-spacing:0.30px;width:60px;text-align:center">125</div>
<div class="tk" style="left:983.55px;top:659.10px;width:1px;height:2.5px"></div>
<div class="tk" style="left:983.55px;top:422.60px;width:1px;height:2.5px"></div>
<div class="t" style="left:998.55px;top:669.62px;font-size:10.50px;line-height:10.50px;letter-spacing:0.30px;width:60px;text-align:center">130</div>
<div class="t" style="left:697.10px;top:417.77px;font-size:10.50px;line-height:10.50px;letter-spacing:0.30px;width:60px;text-align:right">-740</div>
<div class="t" style="left:697.10px;top:465.77px;font-size:10.50px;line-height:10.50px;letter-spacing:0.30px;width:60px;text-align:right">-720</div>
<div class="tk" style="left:762.80px;top:469.60px;width:2.5px;height:1px"></div>
<div class="tk" style="left:1025.40px;top:469.60px;width:2.5px;height:1px"></div>
<div class="t" style="left:697.10px;top:513.77px;font-size:10.50px;line-height:10.50px;letter-spacing:0.30px;width:60px;text-align:right">-700</div>
<div class="tk" style="left:762.80px;top:517.60px;width:2.5px;height:1px"></div>
<div class="tk" style="left:1025.40px;top:517.60px;width:2.5px;height:1px"></div>
<div class="t" style="left:697.10px;top:561.77px;font-size:10.50px;line-height:10.50px;letter-spacing:0.30px;width:60px;text-align:right">-680</div>
<div class="tk" style="left:762.80px;top:565.60px;width:2.5px;height:1px"></div>
<div class="tk" style="left:1025.40px;top:565.60px;width:2.5px;height:1px"></div>
<div class="t" style="left:697.10px;top:609.77px;font-size:10.50px;line-height:10.50px;letter-spacing:0.30px;width:60px;text-align:right">-660</div>
<div class="tk" style="left:762.80px;top:613.60px;width:2.5px;height:1px"></div>
<div class="tk" style="left:1025.40px;top:613.60px;width:2.5px;height:1px"></div>
<div class="t" style="left:697.10px;top:657.77px;font-size:10.50px;line-height:10.50px;letter-spacing:0.30px;width:60px;text-align:right">-640</div>
<div class="t" style="left:815.65px;top:685.53px;font-size:11.90px;line-height:11.90px;letter-spacing:0.60px;width:160px;text-align:center">Range bin</div>
<div class="t" style="left:623.61px;top:537.62px;width:200px;height:11.80px;font-size:11.80px;line-height:11.80px;letter-spacing:0.75px;text-align:center;transform:rotate(-90deg)">Doppler Shift [Hz]</div>
<div style="position:absolute;left:1045.80px;top:422.10px;width:15.00px;height:240.00px;background:linear-gradient(to bottom,#800000 0.000%,#800000 1.562%,#8f0000 1.562%,#8f0000 3.125%,#9f0000 3.125%,#9f0000 4.688%,#af0000 4.688%,#af0000 6.250%,#bf0000 6.250%,#bf0000 7.812%,#cf0000 7.812%,#cf0000 9.375%,#df0000 9.375%,#df0000 10.938%,#ef0000 10.938%,#ef0000 12.500%,#ff0000 12.500%,#ff0000 14.062%,#ff1000 14.062%,#ff1000 15.625%,#ff2000 15.625%,#ff2000 17.188%,#ff3000 17.188%,#ff3000 18.750%,#ff4000 18.750%,#ff4000 20.312%,#ff5000 20.312%,#ff5000 21.875%,#ff6000 21.875%,#ff6000 23.438%,#ff7000 23.438%,#ff7000 25.000%,#ff8000 25.000%,#ff8000 26.562%,#ff8f00 26.562%,#ff8f00 28.125%,#ff9f00 28.125%,#ff9f00 29.688%,#ffaf00 29.688%,#ffaf00 31.250%,#ffbf00 31.250%,#ffbf00 32.812%,#ffcf00 32.812%,#ffcf00 34.375%,#ffdf00 34.375%,#ffdf00 35.938%,#ffef00 35.938%,#ffef00 37.500%,#ffff00 37.500%,#ffff00 39.062%,#efff10 39.062%,#efff10 40.625%,#dfff20 40.625%,#dfff20 42.188%,#cfff30 42.188%,#cfff30 43.750%,#bfff40 43.750%,#bfff40 45.312%,#afff50 45.312%,#afff50 46.875%,#9fff60 46.875%,#9fff60 48.438%,#8fff70 48.438%,#8fff70 50.000%,#80ff80 50.000%,#80ff80 51.562%,#70ff8f 51.562%,#70ff8f 53.125%,#60ff9f 53.125%,#60ff9f 54.688%,#50ffaf 54.688%,#50ffaf 56.250%,#40ffbf 56.250%,#40ffbf 57.812%,#30ffcf 57.812%,#30ffcf 59.375%,#20ffdf 59.375%,#20ffdf 60.938%,#10ffef 60.938%,#10ffef 62.500%,#00ffff 62.500%,#00ffff 64.062%,#00efff 64.062%,#00efff 65.625%,#00dfff 65.625%,#00dfff 67.188%,#00cfff 67.188%,#00cfff 68.750%,#00bfff 68.750%,#00bfff 70.312%,#00afff 70.312%,#00afff 71.875%,#009fff 71.875%,#009fff 73.438%,#008fff 73.438%,#008fff 75.000%,#0080ff 75.000%,#0080ff 76.562%,#0070ff 76.562%,#0070ff 78.125%,#0060ff 78.125%,#0060ff 79.688%,#0050ff 79.688%,#0050ff 81.250%,#0040ff 81.250%,#0040ff 82.812%,#0030ff 82.812%,#0030ff 84.375%,#0020ff 84.375%,#0020ff 85.938%,#0010ff 85.938%,#0010ff 87.500%,#0000ff 87.500%,#0000ff 89.062%,#0000ef 89.062%,#0000ef 90.625%,#0000df 90.625%,#0000df 92.188%,#0000cf 92.188%,#0000cf 93.750%,#0000bf 93.750%,#0000bf 95.312%,#0000af 95.312%,#0000af 96.875%,#00009f 96.875%,#00009f 98.438%,#00008f 98.438%,#00008f 100.000%)"></div>
<div class="ax" style="left:1045.30px;top:421.60px;width:16.00px;height:241.00px"></div>
<div class="t" style="left:1065.50px;top:657.92px;font-size:10.20px;line-height:10.20px;letter-spacing:-0.10px">180</div>
<div class="t" style="left:1065.50px;top:627.92px;font-size:10.20px;line-height:10.20px;letter-spacing:-0.10px">190</div>
<div class="tk" style="left:1057.80px;top:631.60px;width:2.5px;height:1px"></div>
<div class="t" style="left:1065.50px;top:597.92px;font-size:10.20px;line-height:10.20px;letter-spacing:-0.10px">200</div>
<div class="tk" style="left:1057.80px;top:601.60px;width:2.5px;height:1px"></div>
<div class="t" style="left:1065.50px;top:567.92px;font-size:10.20px;line-height:10.20px;letter-spacing:-0.10px">210</div>
<div class="tk" style="left:1057.80px;top:571.60px;width:2.5px;height:1px"></div>
<div class="t" style="left:1065.50px;top:537.92px;font-size:10.20px;line-height:10.20px;letter-spacing:-0.10px">220</div>
<div class="tk" style="left:1057.80px;top:541.60px;width:2.5px;height:1px"></div>
<div class="t" style="left:1065.50px;top:507.92px;font-size:10.20px;line-height:10.20px;letter-spacing:-0.10px">230</div>
<div class="tk" style="left:1057.80px;top:511.60px;width:2.5px;height:1px"></div>
<div class="t" style="left:1065.50px;top:477.92px;font-size:10.20px;line-height:10.20px;letter-spacing:-0.10px">240</div>
<div class="tk" style="left:1057.80px;top:481.60px;width:2.5px;height:1px"></div>
<div class="t" style="left:1065.50px;top:447.92px;font-size:10.20px;line-height:10.20px;letter-spacing:-0.10px">250</div>
<div class="tk" style="left:1057.80px;top:451.60px;width:2.5px;height:1px"></div>
<div class="t" style="left:1065.50px;top:417.92px;font-size:10.20px;line-height:10.20px;letter-spacing:-0.10px">260</div>
</div>
<div class="grp" style="filter:blur(0.45px)">
<svg class="hm" style="left:62.50px;top:837.70px;width:272.10px;height:243.70px" viewBox="0 0 40 160" preserveAspectRatio="none" shape-rendering="crispEdges"><rect x="0" y="0" width="40" height="160" fill="#bfff40"/><g stroke-width="2"><path stroke="#0040ff" d="M35 76h2M39 78h2"/><path stroke="#0070ff" d="M19 26h2M39 152h2"/><path stroke="#0080ff" d="M7 8h2M35 36h2M15 66h2"/><path stroke="#008fff" d="M5 6h2M7 40h2M19 120h2"/><path stroke="#009fff" d="M27 20h2"/><path stroke="#00afff" d="M23 40h2M17 74h2M23 74h2M1 94h2M15 124h2M17 146h2M17 148h2M21 158h2"/><path stroke="#00bfff" d="M29 16h2M27 18h2M27 50h2M-1 70h2M13 76h2M27 138h2M35 154h2"/><path stroke="#00cfff" d="M25 100h2M11 126h2M29 132h2M13 134h2M13 136h2M37 148h2"/><path stroke="#00dfff" d="M17 4h2M11 20h2M31 34h2M21 44h2M15 62h2M37 62h2M3 74h2M7 84h2M21 108h2M1 110h2M31 118h2M27 120h2M31 120h2M29 148h2M5 152h2"/><path stroke="#60ff9f" d="M37 0h4M7 2h2M11 2h2M11 4h2M25 4h2M35 4h2M33 6h8M15 8h2M19 8h4M33 8h2M33 10h4M7 12h4M17 12h2M35 12h6M11 16h4M37 18h4M3 20h4M21 20h2M39 20h2M11 22h2M15 22h4M21 22h2M35 22h6M3 24h2M7 24h2M31 24h2M-1 26h2M33 26h8M7 28h2M29 30h4M1 32h2M15 32h4M31 32h8M9 34h2M23 34h2M29 34h2M37 34h4M29 36h4M1 38h2M5 40h2M33 40h2M31 42h6M-1 44h2M13 44h2M17 44h2M1 46h6M19 46h4M39 46h2M17 48h2M27 48h2M13 52h2M33 56h2M-1 58h4M17 58h4M29 58h2M19 60h4M33 60h2M39 62h2M-1 64h2M13 66h2M7 68h2M27 68h2M17 70h2M25 70h2M31 70h4M25 74h4M1 78h4M15 78h4M1 82h8M27 82h2M19 84h2M29 86h2M37 90h2M1 92h2M9 92h4M39 92h2M-1 94h2M37 98h4M17 100h2M39 100h2M17 102h6M39 102h2M7 104h2M3 108h2M13 108h4M17 110h2M37 110h2M29 112h4M33 114h2M15 116h4M39 116h2M3 118h4M21 118h2M25 120h2M25 122h4M1 124h2M19 124h4M33 124h2M39 124h2M19 126h2M35 126h2M3 130h10M27 130h6M35 130h4M17 134h2M27 140h4M19 142h6M31 144h8M19 146h2M-1 150h2M23 150h2M17 152h2M35 152h4M7 154h6M17 154h2M21 156h2M33 156h2M39 156h2M-1 158h2M19 158h2M33 158h2"/><path stroke="#70ff8f" d="M13 6h2M35 18h2M13 22h2M1 24h2M33 24h2M37 24h4M3 28h2M9 28h2M21 30h2M33 30h4M7 32h2M13 32h2M29 32h2M39 32h2M-1 38h2M15 44h2M7 46h6M1 48h2M21 48h4M15 52h2M37 54h4M27 58h2M21 64h2M21 68h2M25 68h2M35 68h2M13 70h2M19 70h2M27 70h2M35 70h2M9 76h2M27 76h2M5 78h4M7 80h2M35 80h2M27 84h2M39 84h2M33 86h2M5 92h2M25 92h2M35 96h2M39 96h2M17 98h2M-1 100h2M11 100h2M35 102h2M-1 104h2M5 104h2M27 104h4M29 110h2M7 118h2M15 118h2M23 118h2M29 122h4M37 124h2M31 126h2M25 130h2M5 134h2M25 136h2M15 140h2M35 140h2M9 142h2M25 142h4M19 144h2M39 144h2M5 148h2M21 150h2M19 156h2M31 156h2M35 156h2M15 158h2"/><path stroke="#80ff80" d="M21 0h2M31 0h4M29 2h2M7 6h2M11 6h2M17 6h2M37 10h2M11 12h2M9 14h2M1 16h2M9 16h2M7 18h2M17 18h2M23 20h2M-1 22h2M9 24h2M23 24h2M27 24h2M27 26h2M5 28h2M27 28h2M33 28h2M39 28h2M25 30h4M3 32h4M19 32h2M1 34h2M25 34h2M5 38h2M31 38h2M11 42h2M1 44h4M37 46h2M-1 48h2M3 48h6M13 48h2M11 52h2M3 58h2M19 62h2M31 64h2M35 64h2M31 68h2M3 70h2M11 70h2M21 70h2M39 70h2M3 72h2M9 72h4M29 76h2M29 78h2M5 80h2M13 80h2M33 80h2M9 82h2M35 82h2M21 84h2M27 86h2M31 86h2M37 86h2M7 90h2M33 90h2M3 92h2M21 94h2M3 96h2M37 96h2M13 98h4M19 100h2M37 100h2M33 102h2M17 108h2M31 110h2M13 112h2M27 112h2M33 112h4M23 114h2M27 114h2M31 114h2M21 116h2M25 116h2M7 124h2M17 124h2M9 126h2M37 126h2M5 132h2M21 132h2M35 132h2M31 136h2M-1 140h2M9 140h2M31 140h4M-1 144h2M31 146h2M11 148h2M3 150h6M9 152h2M15 152h2M27 156h2M29 160h2"/><path stroke="#8fff70" d="M-1 0h2M9 0h2M23 0h2M-1 2h2M9 4h2M27 4h2M23 8h2M25 14h2M-1 16h2M11 18h2M19 22h2M29 22h2M1 26h2M29 28h2M21 32h2M25 32h2M21 34h2M7 36h2M11 36h2M25 36h2M3 38h2M21 38h4M29 44h2M13 46h2M17 46h2M35 46h2M1 50h2M17 50h2M35 54h2M25 58h2M31 58h2M23 60h2M31 60h2M27 62h2M9 66h2M23 66h2M33 66h2M23 68h2M29 68h2M5 70h2M29 70h2M37 70h2M1 80h2M29 80h2M13 84h2M35 84h2M3 86h2M39 86h2M13 88h2M37 88h2M9 90h2M-1 92h2M31 92h2M3 94h2M-1 96h2M31 98h2M1 100h2M13 100h2M21 100h2M35 100h2M37 104h2M21 106h2M11 108h2M11 110h2M15 110h2M19 116h2M27 116h2M25 118h2M-1 120h2M5 120h2M-1 122h2M23 124h4M17 126h2M21 126h2M33 126h2M17 128h2M15 132h2M23 132h2M1 140h2M11 140h2M37 140h2M31 142h2M21 146h2M33 148h2M1 150h2M27 150h2M37 150h2M11 152h2M21 152h2M23 156h2M23 158h4M35 158h2M3 160h2M13 160h2"/><path stroke="#9fff60" d="M15 0h4M27 0h2M9 2h2M13 4h2M29 4h2M33 4h2M3 6h2M9 6h2M21 6h2M25 8h2M35 8h4M-1 12h2M19 12h2M7 14h2M25 16h2M39 16h2M9 20h2M25 20h2M31 20h2M35 20h2M9 22h2M27 22h2M15 24h6M29 24h2M7 26h4M-1 28h4M15 28h2M-1 30h2M-1 34h2M1 36h2M23 36h2M29 38h2M35 38h2M39 38h2M35 40h2M21 42h4M31 46h2M11 48h2M15 48h2M25 48h2M11 50h2M19 50h2M29 50h2M9 52h2M27 52h2M37 52h2M-1 54h2M13 56h2M35 56h2M13 62h2M-1 66h4M11 66h2M9 68h2M15 68h2M37 68h4M1 70h2M15 72h4M13 74h2M25 76h2M33 76h2M39 76h2M-1 78h2M31 78h2M3 80h2M21 80h2M11 82h2M19 82h2M29 82h4M37 84h2M1 86h2M13 86h2M3 88h4M3 90h2M27 90h2M39 90h2M21 92h2M33 98h2M31 102h2M15 104h2M35 104h2M39 106h2M5 108h2M23 108h4M39 108h2M13 110h2M5 114h2M11 114h2M21 114h2M1 116h2M11 118h2M3 120h2M15 120h2M23 122h2M3 124h2M31 124h2M35 124h2M19 128h4M13 130h2M23 130h2M-1 132h2M9 132h6M1 134h2M15 134h2M23 134h2M39 134h2M27 136h2M35 136h2M25 138h2M39 140h2M5 142h4M11 142h2M17 142h2M35 142h2M1 144h2M25 146h2M19 152h2M13 154h2M19 154h2M5 156h2M37 156h2M29 158h4M25 160h2"/><path stroke="#afff50" d="M7 0h2M13 0h2M19 0h2M35 0h2M5 2h2M27 2h2M15 6h2M19 6h2M23 6h2M31 8h2M31 10h2M3 14h2M23 14h2M23 16h2M31 16h2M-1 18h2M7 20h2M23 22h4M31 22h4M-1 24h2M11 24h2M25 24h2M5 26h2M21 26h4M23 28h2M13 30h2M39 30h2M27 34h2M3 36h2M27 36h2M25 38h2M13 40h2M17 42h2M27 42h4M19 44h2M25 46h2M31 48h2M5 50h2M9 50h2M31 50h2M3 54h2M5 56h2M1 60h2M35 60h6M23 64h2M37 64h4M31 66h2M39 66h2M11 68h2M23 70h2M1 72h2M7 74h2M11 76h2M21 76h2M31 76h2M11 78h2M19 78h2M35 78h4M-1 80h2M9 80h2M21 82h2M11 84h2M23 86h2M35 86h2M5 90h2M11 90h2M35 90h2M27 92h2M5 94h2M31 94h2M37 94h2M5 96h4M15 100h2M23 100h2M27 100h2M23 102h2M13 104h2M17 104h2M21 104h4M7 106h2M1 108h2M35 110h2M35 116h2M-1 118h2M27 118h2M39 118h2M11 122h2M5 124h2M5 126h2M39 126h2M23 128h2M27 128h2M1 130h2M39 130h2M1 132h2M-1 134h2M3 134h2M7 138h2M13 138h2M21 138h2M37 142h2M9 144h2M13 144h2M17 144h2M25 144h2M29 144h2M29 146h2M35 146h2M19 148h2M25 150h2M29 150h2M23 152h2M17 156h2M17 158h2M19 160h2M27 160h2M33 160h2M37 160h2"/><path stroke="#bfff40" d="M11 0h2M13 2h2M25 2h2M37 2h2M-1 4h2M31 6h2M-1 8h2M13 8h2M29 8h2M11 10h4M21 12h2M5 14h2M11 14h2M39 14h2M17 16h2M37 16h2M9 18h2M19 18h2M23 18h2M19 20h2M33 20h2M29 26h2M11 28h2M11 32h2M35 34h2M33 36h2M37 38h2M7 42h4M19 42h2M35 44h2M19 48h2M29 48h2M5 52h4M25 52h2M29 52h2M21 58h2M17 60h2M25 60h4M31 62h2M7 64h2M29 64h2M5 66h2M25 66h2M29 66h2M35 66h4M13 68h2M-1 72h2M19 72h4M25 72h2M15 76h2M27 78h2M23 80h2M39 80h2M37 82h2M25 88h2M33 88h2M29 92h2M25 94h2M33 94h4M39 94h2M21 96h2M-1 98h2M21 98h2M25 98h6M35 98h2M33 100h2M3 102h2M1 104h4M25 104h2M3 106h2M13 106h2M17 106h2M21 110h2M3 112h2M11 112h2M17 112h2M39 112h2M19 114h2M25 114h2M35 114h2M23 116h2M31 116h2M9 118h2M19 118h2M29 118h2M33 118h2M1 120h2M17 120h2M21 120h4M1 122h4M7 122h2M15 122h2M39 122h2M11 124h2M29 124h2M1 126h2M29 126h2M25 128h2M31 128h2M39 128h2M37 132h2M-1 138h2M9 138h2M13 142h2M29 142h2M33 142h2M23 144h2M-1 146h2M13 146h2M37 146h2M15 150h2M35 150h2M-1 152h2M3 152h2M7 156h2M1 158h2M21 160h2M31 160h2M39 160h2"/><path stroke="#cfff30" d="M5 0h2M31 2h2M15 4h2M39 4h2M27 6h2M3 8h4M11 8h2M17 8h2M9 10h2M23 10h2M21 14h2M29 14h2M5 16h4M15 16h2M21 16h2M27 16h2M35 16h2M21 18h2M29 18h2M1 20h2M29 20h2M1 22h2M5 22h2M13 24h2M21 24h2M11 26h2M31 26h2M13 28h2M17 28h2M21 28h2M25 28h2M35 28h2M15 30h2M19 30h2M23 30h2M37 30h2M3 34h2M5 36h2M19 38h2M3 40h2M9 40h2M13 42h2M27 44h2M31 44h2M-1 46h2M35 48h2M-1 50h2M3 50h2M23 50h4M35 52h2M1 54h2M5 54h2M11 56h2M15 56h4M37 56h2M5 58h2M11 58h4M23 58h2M3 60h2M7 60h2M29 60h2M1 62h2M9 62h4M21 62h2M25 62h2M1 64h2M5 64h2M17 64h4M21 66h2M17 68h4M7 70h2M13 72h2M35 72h2M39 72h2M1 74h2M9 74h2M15 74h2M21 74h2M37 74h2M37 76h2M9 78h2M17 80h4M25 80h4M31 80h2M13 82h2M23 82h2M5 84h2M9 84h2M11 88h2M23 88h2M27 88h4M1 90h2M29 90h2M23 92h2M33 92h2M7 94h2M9 96h2M23 98h2M25 102h4M39 104h2M1 106h2M19 108h2M27 108h4M37 108h2M-1 110h2M27 110h2M33 110h2M39 110h2M7 114h2M39 114h2M3 116h6M11 116h4M29 116h2M33 116h2M1 118h2M17 118h2M9 122h2M13 122h2M17 122h2M33 122h4M13 124h2M3 126h2M-1 128h2M3 128h6M13 128h2M29 128h2M17 132h4M39 132h2M9 134h2M25 134h2M23 136h2M29 136h2M39 136h2M19 138h2M29 138h2M25 140h2M39 142h2M21 144h2M23 146h2M7 148h2M35 148h2M9 150h4M1 152h2M7 152h2M13 152h2M31 152h2M3 154h4M15 154h2M25 154h2M-1 156h2M25 156h2M29 156h2M13 158h2M39 158h2M15 160h2"/><path stroke="#dfff20" d="M1 0h2M19 2h2M1 4h2M7 4h2M23 4h2M37 4h2M39 8h2M21 10h2M39 10h2M13 12h2M31 12h2M1 14h2M37 14h2M3 16h2M33 16h2M1 18h2M25 18h2M37 20h2M3 22h2M7 22h2M5 24h2M3 26h2M25 26h2M37 28h2M9 30h2M17 30h2M23 32h2M5 34h2M13 34h4M13 36h4M19 36h4M9 38h2M13 38h4M33 38h2M15 40h2M31 40h2M-1 42h2M25 42h2M37 42h2M5 44h2M23 44h2M33 44h2M9 48h2M13 50h2M35 50h2M17 52h4M31 52h2M39 52h2M23 54h2M33 54h2M-1 56h4M9 56h2M31 56h2M33 58h2M9 60h2M13 60h2M-1 62h2M9 64h4M15 64h2M25 64h2M3 66h2M17 66h4M27 66h2M9 70h2M5 72h2M23 72h2M29 72h2M37 72h2M-1 74h2M17 76h4M13 78h2M11 80h2M37 80h2M33 82h2M-1 84h4M25 84h2M31 84h2M-1 86h2M7 86h4M-1 88h2M9 88h2M7 92h2M13 94h2M33 96h2M9 98h2M3 100h4M7 102h2M9 104h2M19 104h2M5 106h2M19 106h2M-1 108h2M35 108h2M9 110h2M23 110h2M-1 112h2M15 112h2M19 112h2M1 114h2M13 114h2M29 114h2M37 116h2M13 118h2M-1 124h2M1 128h2M35 128h2M33 130h2M3 132h2M7 134h2M19 134h2M31 134h2M1 136h4M7 136h2M21 136h2M37 136h2M15 138h2M23 138h2M3 140h4M3 144h2M11 144h2M15 144h2M9 148h2M21 148h2M13 150h2M19 150h2M25 152h2M33 152h2M3 158h2M37 158h2M1 160h2M23 160h2"/><path stroke="#efff10" d="M25 0h2M29 0h2M15 2h2M23 2h2M33 2h2M31 4h2M1 6h2M9 8h2M1 10h2M7 10h2M29 10h2M1 12h2M15 12h2M27 14h2M31 14h2M13 18h4M-1 20h2M13 20h2M17 20h2M13 26h2M27 32h2M19 34h2M9 36h2M17 36h2M7 38h2M17 38h2M27 38h2M37 40h2M39 42h2M9 44h2M25 44h2M37 44h2M39 48h2M7 50h2M33 50h2M3 52h2M13 54h4M29 54h4M3 56h2M7 56h2M27 56h2M15 58h2M35 58h2M23 62h2M29 62h2M13 64h2M33 64h2M7 66h2M1 68h2M15 70h2M7 72h2M5 74h2M11 74h2M39 74h2M3 76h2M21 78h2M-1 82h2M25 82h2M23 84h2M33 84h2M19 86h2M25 86h2M1 88h2M35 88h2M23 90h2M31 90h2M35 92h2M11 94h2M29 94h2M1 96h2M13 96h2M29 96h2M5 98h2M5 102h2M33 104h2M9 106h2M25 106h2M33 108h2M3 110h4M19 110h2M25 110h2M1 112h2M21 112h2M9 114h2M-1 116h2M37 118h2M9 120h2M37 120h2M19 122h4M37 122h2M9 124h2M7 126h2M13 126h4M11 128h2M-1 130h2M33 132h2M21 134h2M9 136h4M11 138h2M17 138h2M17 140h4M15 142h2M11 146h2M15 146h2M27 146h2M39 146h2M1 148h4M15 148h2M31 148h2M27 152h4M1 154h2M23 154h2M29 154h2M39 154h2M5 160h2M17 160h2M35 160h2"/><path stroke="#ffff00" d="M1 2h2M17 2h2M39 2h2M3 4h4M19 4h4M25 6h2M29 6h2M27 10h2M3 12h4M23 12h2M13 14h2M5 18h2M33 18h2M35 24h2M1 30h2M9 32h2M33 34h2M37 36h2M19 40h2M29 40h2M11 44h2M39 44h2M33 46h2M33 48h2M1 52h2M7 54h4M29 56h2M7 58h4M39 58h2M5 60h2M11 60h2M33 62h2M3 68h2M27 72h2M33 72h2M29 74h2M1 76h2M23 76h2M23 78h4M29 84h2M-1 90h2M11 96h2M23 96h2M1 98h4M11 98h2M-1 102h4M11 102h2M37 102h2M11 104h2M15 106h2M27 106h2M31 108h2M7 110h2M5 112h4M37 112h2M-1 114h2M17 114h2M35 118h2M11 120h2M5 122h2M-1 126h2M33 128h2M19 130h2M25 132h2M11 134h2M-1 136h2M5 136h2M17 136h4M1 138h2M39 138h2M7 140h2M13 140h2M-1 142h2M9 146h2M33 146h2M-1 148h2M13 148h2M17 150h2M31 150h4M21 154h2M1 156h4M7 158h2M11 158h2M27 158h2"/><path stroke="#ffef00" d="M3 0h2M35 2h2M-1 6h2M27 8h2M-1 10h2M25 10h2M25 12h4M-1 14h2M15 14h2M19 16h2M3 30h2M7 30h2M39 36h2M11 38h2M1 40h2M11 40h2M5 42h2M15 42h2M29 46h2M37 48h2M15 50h2M37 50h2M-1 52h2M23 52h2M33 52h2M11 54h2M17 54h4M23 56h2M39 56h2M-1 60h2M15 60h2M7 62h2M27 64h2M-1 68h2M5 68h2M31 72h2M33 74h2M-1 76h2M7 76h2M33 78h2M17 82h2M5 86h2M11 86h2M7 88h2M39 88h2M7 98h2M29 100h2M15 102h2M29 102h2M31 104h2M11 106h2M3 114h2M37 114h2M7 120h2M13 120h2M27 124h2M23 126h2M9 128h2M15 128h2M37 128h2M15 130h2M21 130h2M31 132h2M27 134h4M15 136h2M5 138h2M31 138h4M23 140h2M27 144h2M23 148h2M27 154h2M33 154h2M9 156h2M15 156h2M5 158h2M9 158h2M9 160h4"/><path stroke="#ffdf00" d="M3 2h2M21 2h2M1 8h2M3 10h2M15 10h6M29 12h2M33 12h2M17 14h4M3 18h2M31 18h2M15 20h2M15 26h4M19 28h2M31 28h2M5 30h2M11 30h2M-1 32h2M7 34h2M17 34h2M-1 36h2M-1 40h2M17 40h2M21 40h2M25 40h4M39 40h2M1 42h4M7 44h2M27 46h2M21 50h2M39 50h2M21 52h2M21 54h2M25 54h4M21 56h2M25 56h2M3 62h4M17 62h2M35 62h2M3 64h2M19 74h2M31 74h2M35 74h2M5 76h2M15 80h2M15 82h2M39 82h2M3 84h2M17 84h2M17 86h2M21 86h2M19 88h2M25 90h2M37 92h2M9 94h2M27 94h2M17 96h2M25 96h4M31 96h2M7 100h4M31 100h2M9 102h2M13 102h2M29 106h10M7 108h4M9 112h2M23 112h2M15 114h2M9 116h2M29 120h2M33 120h2M39 120h2M25 126h4M17 130h2M27 132h2M35 134h4M3 138h2M35 138h4M21 140h2M1 142h4M7 144h2M5 146h4M25 148h4M39 148h2M39 150h2M-1 154h2M31 154h2M37 154h2M11 156h4M-1 160h2M7 160h2"/><path stroke="#ffcf00" d="M13 90h2M13 92h4M15 96h2"/><path stroke="#ffbf00" d="M5 10h2M33 14h4M11 34h2M15 46h2M23 46h2M19 56h2M15 84h2M15 86h2M19 96h2M19 98h2M25 112h2M35 120h2M33 134h2M33 136h2M5 144h2M1 146h2"/><path stroke="#ffaf00" d="M37 58h2M33 68h2M21 88h2M31 88h2M19 90h4M19 92h2M15 94h2M23 94h2M-1 106h2M7 132h2M3 146h2"/><path stroke="#ff9f00" d="M17 88h2M15 90h2"/><path stroke="#ff8f00" d="M15 88h2M17 90h2M17 92h2M17 94h4M23 106h2"/></g></svg>
<div class="ax" style="left:62.00px;top:837.20px;width:273.10px;height:244.70px"></div>
<div class="t" style="left:32.65px;top:1089.72px;font-size:10.50px;line-height:10.50px;letter-spacing:0.30px;width:60px;text-align:center">135</div>
<div class="t" style="left:100.68px;top:1089.72px;font-size:10.50px;line-height:10.50px;letter-spacing:0.30px;width:60px;text-align:center">140</div>
<div class="tk" style="left:130.03px;top:1078.40px;width:1px;height:2.5px"></div>
<div class="tk" style="left:130.03px;top:838.20px;width:1px;height:2.5px"></div>
<div class="t" style="left:168.70px;top:1089.72px;font-size:10.50px;line-height:10.50px;letter-spacing:0.30px;width:60px;text-align:center">145</div>
<div class="tk" style="left:198.05px;top:1078.40px;width:1px;height:2.5px"></div>
<div class="tk" style="left:198.05px;top:838.20px;width:1px;height:2.5px"></div>
<div class="t" style="left:236.73px;top:1089.72px;font-size:10.50px;line-height:10.50px;letter-spacing:0.30px;width:60px;text-align:center">150</div>
<div class="tk" style="left:266.08px;top:1078.40px;width:1px;height:2.5px"></div>
<div class="tk" style="left:266.08px;top:838.20px;width:1px;height:2.5px"></div>
<div class="t" style="left:304.75px;top:1089.72px;font-size:10.50px;line-height:10.50px;letter-spacing:0.30px;width:60px;text-align:center">155</div>
<div class="t" style="left:-2.50px;top:833.17px;font-size:10.50px;line-height:10.50px;letter-spacing:0.30px;width:60px;text-align:right">-620</div>
<div class="t" style="left:-2.50px;top:863.63px;font-size:10.50px;line-height:10.50px;letter-spacing:0.30px;width:60px;text-align:right">-600</div>
<div class="tk" style="left:63.00px;top:867.66px;width:2.5px;height:1px"></div>
<div class="tk" style="left:331.60px;top:867.66px;width:2.5px;height:1px"></div>
<div class="t" style="left:-2.50px;top:894.10px;font-size:10.50px;line-height:10.50px;letter-spacing:0.30px;width:60px;text-align:right">-580</div>
<div class="tk" style="left:63.00px;top:898.12px;width:2.5px;height:1px"></div>
<div class="tk" style="left:331.60px;top:898.12px;width:2.5px;height:1px"></div>
<div class="t" style="left:-2.50px;top:924.56px;font-size:10.50px;line-height:10.50px;letter-spacing:0.30px;width:60px;text-align:right">-560</div>
<div class="tk" style="left:63.00px;top:928.59px;width:2.5px;height:1px"></div>
<div class="tk" style="left:331.60px;top:928.59px;width:2.5px;height:1px"></div>
<div class="t" style="left:-2.50px;top:955.02px;font-size:10.50px;line-height:10.50px;letter-spacing:0.30px;width:60px;text-align:right">-540</div>
<div class="tk" style="left:63.00px;top:959.05px;width:2.5px;height:1px"></div>
<div class="tk" style="left:331.60px;top:959.05px;width:2.5px;height:1px"></div>
<div class="t" style="left:-2.50px;top:985.48px;font-size:10.50px;line-height:10.50px;letter-spacing:0.30px;width:60px;text-align:right">-520</div>
<div class="tk" style="left:63.00px;top:989.51px;width:2.5px;height:1px"></div>
<div class="tk" style="left:331.60px;top:989.51px;width:2.5px;height:1px"></div>
<div class="t" style="left:-2.50px;top:1015.95px;font-size:10.50px;line-height:10.50px;letter-spacing:0.30px;width:60px;text-align:right">-500</div>
<div class="tk" style="left:63.00px;top:1019.98px;width:2.5px;height:1px"></div>
<div class="tk" style="left:331.60px;top:1019.98px;width:2.5px;height:1px"></div>
<div class="t" style="left:-2.50px;top:1046.41px;font-size:10.50px;line-height:10.50px;letter-spacing:0.30px;width:60px;text-align:right">-480</div>
<div class="tk" style="left:63.00px;top:1050.44px;width:2.5px;height:1px"></div>
<div class="tk" style="left:331.60px;top:1050.44px;width:2.5px;height:1px"></div>
<div class="t" style="left:-2.50px;top:1076.87px;font-size:10.50px;line-height:10.50px;letter-spacing:0.30px;width:60px;text-align:right">-460</div>
<div class="t" style="left:118.85px;top:1105.62px;font-size:12.50px;line-height:12.50px;letter-spacing:0.50px;width:160px;text-align:center">Range bin</div>
<div class="t" style="left:-76.63px;top:954.85px;width:200px;height:12.50px;font-size:12.50px;line-height:12.50px;letter-spacing:0.60px;text-align:center;transform:rotate(-90deg)">Doppler Shift [Hz]</div>
<svg class="hm" style="left:411.50px;top:837.90px;width:272.40px;height:243.50px" viewBox="0 0 40 160" preserveAspectRatio="none" shape-rendering="crispEdges"><rect x="0" y="0" width="40" height="160" fill="#bfff40"/><g stroke-width="2"><path stroke="#00008f" d="M37 68h2"/><path stroke="#0050ff" d="M11 126h2"/><path stroke="#0070ff" d="M25 70h2"/><path stroke="#0080ff" d="M13 72h2"/><path stroke="#008fff" d="M13 30h2M3 48h2M3 50h2M7 92h2M3 118h2M9 158h2"/><path stroke="#009fff" d="M27 68h2M7 124h2"/><path stroke="#00afff" d="M29 46h2M37 48h2M39 122h2M31 156h2"/><path stroke="#00bfff" d="M1 94h2"/><path stroke="#00cfff" d="M21 6h2M3 10h2M31 18h2M7 20h2M3 24h2M27 34h2M11 38h2M29 40h2M9 48h2M31 72h2M15 152h2"/><path stroke="#00dfff" d="M-1 8h2M37 24h2M37 26h2M5 52h2M11 52h2M27 66h2M3 76h2M-1 90h2M35 94h2M5 100h2M17 108h2M3 110h2M31 116h2M27 118h2M13 120h2M-1 128h2M15 138h2M29 154h2"/><path stroke="#60ff9f" d="M7 0h4M-1 2h2M31 2h6M7 4h2M11 4h4M15 6h2M29 6h2M1 8h4M19 8h2M23 8h2M33 8h2M11 10h2M23 10h2M15 12h2M7 14h2M-1 16h2M3 18h2M29 18h2M23 20h4M15 22h4M-1 26h2M3 26h2M31 26h4M39 28h2M7 30h6M17 32h2M21 32h2M21 34h2M1 36h2M9 36h2M21 36h4M29 36h4M27 40h2M21 42h6M39 42h2M-1 44h4M17 46h4M33 46h2M39 46h2M19 48h2M33 48h2M5 50h2M35 50h4M15 52h2M29 52h2M17 54h2M21 54h2M25 54h4M13 56h4M25 56h2M33 56h2M39 58h2M15 60h2M3 62h2M9 64h4M15 64h2M27 64h4M33 64h2M5 66h4M15 66h2M31 66h6M27 70h2M17 74h2M25 74h4M31 74h2M35 76h2M19 78h4M25 78h2M3 80h2M7 80h2M11 80h2M21 80h2M21 82h4M5 84h2M35 84h2M1 86h8M7 88h6M27 88h4M39 90h2M-1 92h2M3 92h2M11 98h6M33 98h4M7 102h12M21 102h2M27 102h4M31 104h2M39 104h2M1 106h2M21 106h4M3 108h8M31 108h2M15 112h4M23 112h2M7 114h2M31 114h2M9 116h2M21 116h2M25 116h4M37 118h2M29 120h4M-1 124h2M9 124h2M29 124h2M5 128h2M27 128h2M39 128h2M23 132h6M11 138h2M37 138h2M-1 140h4M29 144h2M5 146h2M27 146h2M31 146h2M35 146h2M11 148h2M23 148h2M19 150h2M35 150h2M39 150h2M13 154h2M25 154h2M13 158h2M23 158h2M27 158h8M39 158h2"/><path stroke="#70ff8f" d="M33 0h2M29 2h2M5 12h2M23 14h2M39 14h2M1 22h2M19 24h2M9 26h2M9 28h2M25 36h2M23 40h2M35 40h2M27 42h2M13 48h2M21 52h2M27 52h2M31 54h2M35 54h2M1 62h2M35 64h2M-1 66h2M37 66h2M3 68h2M29 70h2M-1 72h2M33 72h2M5 80h2M29 80h2M25 82h2M9 90h2M21 94h2M17 96h2M31 100h2M5 104h2M25 104h2M13 106h2M27 108h4M19 112h2M29 112h2M29 114h2M19 116h2M23 120h2M27 124h2M9 126h2M15 126h2M27 130h2M19 132h2M31 136h4M21 154h2M9 156h2M27 156h2M1 158h2M37 158h2"/><path stroke="#80ff80" d="M-1 0h2M25 2h2M9 6h2M25 8h2M19 10h2M39 12h2M5 18h2M27 20h2M31 20h2M19 22h4M25 26h4M35 28h2M3 32h2M23 32h2M9 34h2M5 36h2M1 40h2M15 40h2M25 40h2M17 42h2M21 46h2M23 48h2M33 50h2M9 54h8M23 54h2M1 56h2M15 58h2M31 58h2M-1 64h4M17 64h2M31 64h2M1 66h2M17 66h2M-1 70h2M11 70h2M31 70h2M19 74h2M29 74h2M1 76h2M11 76h2M13 80h2M9 82h2M19 82h2M7 84h2M11 94h2M25 96h4M29 98h4M-1 100h2M17 100h2M7 104h2M23 104h2M19 106h2M9 114h4M-1 118h2M21 120h2M1 124h4M23 124h4M21 126h2M31 126h2M1 130h2M35 130h2M37 134h2M35 136h2M23 142h2M13 144h2M23 144h2M7 146h2M15 146h2M25 146h2M13 148h2M21 150h2M5 152h2M17 152h2M15 154h4M27 154h2M17 156h4M29 156h2M21 158h2M19 160h2"/><path stroke="#8fff70" d="M5 0h2M1 2h2M21 2h2M15 4h2M13 6h2M23 6h2M33 6h2M11 8h2M27 8h2M1 12h2M9 16h2M15 18h2M19 18h2M29 20h2M17 24h2M5 26h2M35 26h2M1 28h2M7 28h2M15 28h2M21 30h2M-1 32h2M19 32h2M31 32h2M35 32h2M23 34h2M7 36h2M19 40h2M37 44h2M31 46h2M37 46h2M17 52h2M23 52h2M5 54h2M29 54h2M37 54h2M5 56h4M31 56h2M27 58h4M5 62h2M15 62h2M-1 68h2M37 70h2M-1 74h4M17 78h2M5 82h4M33 84h2M37 84h2M-1 86h2M33 86h2M-1 88h2M1 90h4M17 90h2M9 92h2M33 92h2M37 94h2M3 96h2M13 96h2M21 96h2M17 98h2M25 100h4M33 100h2M31 102h2M27 104h2M5 106h2M15 106h2M11 108h2M15 108h2M27 110h4M33 110h2M13 116h2M19 118h2M39 118h2M7 122h2M19 122h4M31 122h2M33 126h2M31 128h2M29 132h4M23 134h2M35 134h2M1 136h2M23 136h2M17 138h4M23 138h2M33 138h2M25 140h4M35 140h2M1 142h2M9 142h2M29 142h2M39 146h2M21 148h2M-1 150h2M19 152h2M27 152h2M31 152h2M3 154h2M-1 156h2M11 156h2M17 160h2"/><path stroke="#9fff60" d="M11 0h2M15 2h2M23 2h2M27 2h2M39 2h2M1 4h2M25 4h2M5 6h2M25 6h4M5 8h2M29 8h2M27 12h2M37 12h2M13 14h2M23 18h2M39 18h2M9 22h6M7 24h2M23 24h2M1 26h2M23 26h2M25 28h4M31 28h4M5 32h2M29 32h2M39 32h2M19 38h4M33 40h2M19 42h2M37 42h2M3 44h2M19 44h2M25 44h2M1 48h2M17 48h2M21 50h2M25 50h2M39 50h2M13 52h2M37 52h2M19 54h2M3 56h2M9 58h2M21 64h4M3 66h2M1 68h2M7 68h2M23 68h2M15 70h2M35 70h2M39 72h2M7 78h2M15 78h2M1 80h2M9 80h2M15 80h6M31 80h2M-1 82h2M37 82h2M21 84h2M39 84h2M39 86h2M23 88h2M7 90h2M15 90h2M31 94h4M5 96h2M23 96h2M19 100h2M29 100h2M21 104h2M29 104h2M37 104h2M7 106h2M39 106h2M1 108h2M13 108h2M33 108h2M9 112h4M25 112h2M15 114h2M33 114h2M-1 116h2M11 116h2M23 116h2M17 118h2M33 120h2M35 122h2M19 124h2M13 126h2M7 128h2M11 132h2M39 132h2M21 138h2M25 138h2M33 140h2M-1 142h2M25 144h2M3 146h2M25 148h2M23 150h2M29 150h4M11 152h2M25 152h2M19 154h2M35 154h2M25 156h2M39 156h2M-1 158h2M3 158h2M11 158h2M25 158h2"/><path stroke="#afff50" d="M19 4h2M31 4h2M-1 6h2M7 6h2M13 8h2M-1 10h2M5 10h4M17 10h2M31 10h2M35 10h2M3 12h2M17 12h2M21 12h2M25 12h2M29 12h4M11 14h2M15 14h2M1 16h2M5 16h2M21 16h2M25 18h2M35 22h2M21 24h2M13 26h2M29 26h2M17 28h2M27 30h2M31 30h2M35 30h2M25 32h2M19 34h2M3 36h2M17 36h2M37 36h2M39 38h2M13 42h2M29 42h2M5 44h2M7 46h4M15 46h2M21 48h2M15 50h2M9 52h2M31 52h2M-1 54h2M33 54h2M29 56h2M35 56h4M13 58h2M35 58h2M11 60h2M23 60h2M31 60h4M-1 62h2M13 62h2M13 64h2M25 64h2M25 66h2M39 68h2M1 72h2M7 74h2M9 78h2M23 78h2M27 78h2M37 78h2M25 80h2M27 82h2M35 82h2M9 86h2M35 86h4M5 88h2M5 90h2M37 90h2M23 92h2M27 92h2M13 94h2M9 96h2M19 96h2M27 98h2M39 98h2M15 100h2M-1 102h2M5 102h2M33 104h2M3 106h2M17 106h2M29 106h2M-1 108h2M23 110h2M31 110h2M37 112h2M-1 114h2M5 114h2M37 114h2M15 116h2M23 122h2M33 122h2M5 124h2M21 124h2M35 124h2M-1 126h2M7 126h2M25 126h2M3 128h2M29 128h2M5 130h2M37 130h2M17 132h2M13 138h2M35 138h2M39 138h2M19 142h2M27 142h2M9 144h2M15 144h2M31 144h2M-1 146h2M23 146h2M29 146h2M9 148h2M27 148h4M39 148h2M11 150h2M17 150h2M29 152h2M23 156h2M35 158h2M35 160h4"/><path stroke="#bfff40" d="M3 0h2M21 0h2M31 0h2M11 2h4M37 2h2M9 4h2M39 4h2M31 6h2M9 8h2M15 8h2M21 8h2M15 10h2M37 10h2M9 14h2M31 14h2M37 14h2M1 18h2M13 18h2M27 18h2M33 20h2M31 22h4M1 24h2M5 24h2M7 26h2M15 26h2M19 26h2M-1 28h2M5 28h2M21 28h2M37 28h2M33 30h2M37 30h2M9 32h2M27 32h2M33 32h2M37 32h2M3 34h2M7 34h2M25 34h2M11 36h2M-1 38h2M17 38h2M17 40h2M21 40h2M7 42h2M39 44h2M11 46h2M23 46h2M35 46h2M-1 48h2M31 48h2M17 50h2M29 50h2M33 52h2M7 54h2M39 54h2M19 56h4M3 58h2M11 58h2M17 58h2M37 58h2M19 60h2M7 62h2M21 62h2M11 68h2M17 68h2M1 70h4M23 70h2M33 70h2M3 72h2M7 72h4M35 72h4M9 74h2M21 74h4M-1 76h2M37 76h4M1 78h4M31 78h2M23 80h2M27 80h2M29 84h2M31 88h2M11 92h2M17 92h2M29 92h2M37 92h2M-1 94h2M11 96h2M1 98h2M1 100h2M7 100h2M13 104h2M9 106h2M19 108h2M23 108h2M1 110h2M7 110h2M-1 112h2M31 112h2M39 112h2M23 114h2M29 116h2M33 116h2M37 116h2M7 118h2M35 118h2M9 120h2M1 122h2M11 124h2M33 124h2M3 126h2M17 126h2M23 126h2M27 126h2M17 128h2M3 130h2M11 130h6M1 132h4M11 134h2M17 134h2M25 134h2M13 136h2M3 140h2M29 140h4M11 142h2M25 142h2M5 144h2M17 144h2M13 146h2M17 146h2M7 148h2M33 148h4M13 150h4M27 150h2M7 152h2M13 152h2M23 152h2M37 152h2M-1 154h2M5 154h2M15 158h2M19 158h2M-1 160h4M9 160h2M21 160h4M31 160h2"/><path stroke="#cfff30" d="M15 0h2M-1 4h2M21 4h2M3 6h2M19 6h2M35 6h2M7 8h2M35 8h2M25 10h2M33 10h2M11 12h2M33 12h2M25 14h2M29 14h2M3 16h2M21 18h2M-1 20h4M15 20h2M35 20h2M-1 22h2M-1 24h2M25 24h2M35 24h2M13 28h2M5 30h2M15 30h2M7 32h2M15 32h2M1 34h2M5 34h2M11 34h2M17 34h2M29 34h2M35 34h2M15 36h2M19 36h2M27 36h2M35 36h2M3 38h2M33 38h2M5 40h2M9 42h4M13 46h2M7 48h2M15 48h2M31 50h2M1 52h2M19 52h2M39 52h2M-1 56h2M9 56h4M1 58h2M5 58h4M13 60h2M27 60h2M39 60h2M17 62h4M5 64h2M21 66h2M29 66h2M19 68h2M29 68h2M35 68h2M7 70h4M13 70h2M19 70h2M5 72h2M15 72h2M37 74h2M9 76h2M23 76h4M31 76h2M5 78h2M33 78h2M-1 80h2M9 84h2M13 84h2M23 84h2M27 84h2M31 84h2M3 88h2M21 88h2M39 88h2M19 90h2M27 90h2M5 92h2M25 92h2M39 92h2M9 94h2M19 94h2M23 94h2M27 94h4M-1 96h4M7 96h2M15 96h2M5 98h2M9 98h2M37 98h2M9 100h2M21 100h2M3 102h2M9 104h4M19 104h2M35 104h2M-1 106h2M39 108h2M5 110h2M21 110h2M1 112h2M13 112h2M1 114h2M13 114h2M17 114h2M3 116h2M9 118h2M15 118h2M19 120h2M25 120h4M35 120h2M39 120h2M3 122h4M17 122h2M37 122h2M13 128h4M21 128h2M25 128h2M9 130h2M17 130h2M29 130h4M33 132h2M7 134h2M27 134h4M39 134h2M3 136h2M9 136h4M15 136h2M21 136h2M25 136h2M7 138h4M5 140h2M19 140h2M39 140h2M3 142h2M15 142h4M3 144h2M7 144h2M11 144h2M33 144h2M39 144h2M21 146h2M33 152h4M15 156h2M35 156h4M7 158h2M3 160h4M15 160h2M27 160h4"/><path stroke="#dfff20" d="M17 0h2M25 0h2M37 0h2M3 2h2M5 4h2M33 4h2M11 6h2M37 6h2M31 8h2M27 10h2M7 12h4M19 12h2M35 12h2M17 14h4M7 16h2M17 16h2M-1 18h2M33 18h4M13 20h2M21 20h2M37 20h2M7 22h2M37 22h2M11 26h2M17 26h2M29 28h2M-1 30h2M17 30h2M-1 34h2M-1 36h2M33 36h2M29 38h2M31 40h2M39 40h2M-1 42h4M15 42h2M35 42h2M27 44h2M31 44h2M35 44h2M29 48h2M-1 50h4M7 50h2M11 50h2M19 50h2M27 50h2M3 52h2M17 56h2M27 56h2M39 56h2M-1 58h2M1 60h2M17 60h2M21 60h2M29 60h2M9 62h4M3 64h2M7 64h2M19 64h2M37 64h2M9 66h2M13 66h2M23 66h2M39 66h2M9 68h2M31 68h2M11 72h2M17 72h2M27 72h4M11 74h2M33 74h2M7 76h2M19 76h4M27 76h2M33 76h2M29 78h2M25 84h2M11 86h2M31 86h2M1 88h2M13 90h2M21 90h2M35 92h2M25 94h2M39 94h2M39 100h2M19 102h2M39 102h2M-1 104h2M3 104h2M15 104h4M27 106h2M31 106h2M35 106h2M9 110h2M17 110h2M35 110h2M25 114h2M1 116h2M17 116h2M5 120h2M11 120h2M25 122h2M13 124h2M5 126h2M9 128h2M7 130h2M5 132h4M13 132h2M-1 134h2M21 134h2M31 134h2M-1 136h2M-1 138h2M31 138h2M11 140h2M21 140h2M37 140h2M13 142h2M-1 144h2M35 144h2M9 146h4M-1 148h4M5 148h2M17 148h4M9 152h2M21 152h2M23 154h2M1 156h2M7 156h2M13 156h2M39 160h2"/><path stroke="#efff10" d="M23 0h2M27 0h2M35 0h2M17 2h4M3 4h2M23 4h2M39 6h2M1 10h2M13 10h2M29 10h2M13 12h2M23 12h2M-1 14h2M21 14h2M29 16h2M11 18h2M9 20h2M3 22h2M9 24h2M27 24h2M31 24h2M3 28h2M19 28h2M3 30h2M39 30h2M1 32h2M11 32h2M13 34h2M33 34h2M37 34h2M39 36h2M25 38h2M35 38h2M3 42h2M9 44h2M17 44h2M29 44h2M33 44h2M25 46h4M5 48h2M11 48h2M25 48h4M35 48h2M23 50h2M25 52h2M21 58h2M25 58h2M7 60h2M27 62h2M33 62h4M39 64h2M13 68h4M33 68h2M5 70h2M23 72h4M13 74h2M29 76h2M-1 78h2M11 82h4M29 82h2M-1 84h4M27 86h2M19 88h2M11 90h2M1 92h2M19 92h2M31 92h2M3 94h2M15 94h2M7 98h2M35 100h2M33 102h6M25 106h2M21 108h2M11 110h2M37 110h2M3 112h2M7 112h2M35 112h2M3 114h2M21 114h2M39 114h2M5 116h4M39 116h2M1 118h2M5 118h2M21 118h2M-1 120h2M3 120h2M-1 122h2M11 122h2M15 122h2M27 122h4M31 124h2M37 124h2M29 126h2M1 128h2M11 128h2M19 128h2M15 132h2M9 134h2M19 134h2M5 136h2M29 136h2M5 138h2M29 138h2M9 140h2M23 140h2M5 142h2M21 142h2M33 142h2M1 144h2M19 144h4M27 144h2M33 146h2M37 146h2M15 148h2M7 150h2M37 150h2M3 152h2M1 154h2M17 158h2M33 160h2"/><path stroke="#ffff00" d="M1 0h2M13 0h2M29 0h2M5 2h2M17 4h2M27 4h2M1 6h2M9 10h2M5 14h2M23 16h2M35 16h6M37 18h2M3 20h2M11 20h2M29 22h2M1 30h2M23 30h2M13 32h2M31 34h2M23 38h2M27 38h2M-1 40h2M9 40h4M31 42h2M15 44h2M39 48h2M9 50h2M1 54h2M23 58h2M9 60h2M25 60h2M23 62h2M29 62h2M39 62h2M5 68h2M25 68h2M17 70h2M15 74h2M15 76h2M11 78h2M31 82h2M3 84h2M11 84h2M25 88h2M13 92h4M7 94h2M17 94h2M29 96h4M25 98h2M3 100h2M1 102h2M11 106h2M33 106h2M25 108h2M-1 110h2M15 110h2M5 112h2M21 112h2M19 114h2M27 114h2M35 114h2M25 118h2M29 118h2M7 120h2M37 120h2M9 122h2M17 124h2M39 124h2M1 126h2M19 126h2M39 126h2M23 128h2M35 128h2M25 130h2M39 130h2M35 132h2M1 134h2M13 134h2M33 134h2M17 136h2M37 136h2M27 138h2M13 140h2M7 142h2M31 142h2M37 142h2M19 146h2M3 148h2M1 150h2M9 150h2M33 150h2M39 152h2M9 154h4M3 156h2M33 156h2M5 158h2M11 160h2M25 160h2"/><path stroke="#ffef00" d="M19 0h2M39 0h2M7 2h2M29 4h2M37 8h4M39 10h2M1 14h2M35 14h2M11 16h2M5 20h2M17 20h2M23 22h4M39 22h2M29 24h2M21 26h2M19 30h2M15 34h2M1 38h2M5 38h2M9 38h2M31 38h2M13 40h2M37 40h2M7 44h2M11 44h2M-1 46h2M-1 52h2M-1 60h2M5 60h2M35 60h4M25 62h2M31 62h2M35 74h2M39 74h2M5 76h2M17 76h2M35 78h2M3 82h2M17 82h2M39 82h2M17 88h2M37 88h2M29 90h2M39 96h2M21 98h2M13 100h2M1 104h2M13 110h2M19 110h2M35 116h2M35 126h2M21 130h4M-1 132h2M37 132h2M27 136h2M39 136h2M39 142h2M31 148h2M37 148h2M3 150h2M-1 152h2"/><path stroke="#ffdf00" d="M9 2h2M35 4h4M17 6h2M-1 12h2M3 14h2M27 14h2M33 14h2M13 16h4M19 16h2M25 16h4M31 16h4M7 18h4M19 20h2M39 20h2M5 22h2M27 22h2M11 24h2M33 24h2M39 24h2M39 26h2M11 28h2M23 28h2M25 30h2M39 34h2M13 36h2M7 38h2M13 38h4M37 38h2M3 40h2M7 40h2M5 42h2M33 42h2M13 44h2M21 44h2M1 46h6M7 52h2M3 54h2M23 56h2M19 58h2M3 60h2M37 62h2M11 66h2M21 68h2M21 70h2M39 70h2M19 72h4M3 74h4M13 76h2M13 78h2M39 78h2M33 80h8M1 82h2M33 82h2M29 86h2M33 88h4M31 90h6M21 92h2M5 94h2M33 96h6M-1 98h2M3 98h2M19 98h2M23 98h2M11 100h2M37 100h2M37 106h2M39 110h2M27 112h2M33 112h2M11 118h4M23 118h2M31 118h4M1 120h2M15 120h4M13 122h2M15 124h2M37 126h2M33 128h2M37 128h2M-1 130h2M19 130h2M33 130h2M3 134h4M15 134h2M19 136h2M1 138h4M7 140h2M15 140h4M35 142h2M37 144h2M5 150h2M25 150h2M1 152h2M7 154h2M31 154h4M37 154h4M5 156h2M7 160h2M13 160h2"/><path stroke="#ffbf00" d="M29 30h2M35 52h2M33 58h2M19 66h2M25 86h2M13 88h2M35 108h4M7 136h2M1 146h2M21 156h2"/><path stroke="#ffaf00" d="M17 8h2M21 10h2M17 18h2M13 24h4M23 44h2M13 50h2M15 82h2M13 86h2M25 102h2M25 110h2M9 132h2M21 132h2"/><path stroke="#ff9f00" d="M15 84h2M23 86h2M23 90h4M23 100h2M23 102h2"/><path stroke="#ff8f00" d="M17 84h4M21 86h2M15 88h2"/><path stroke="#ff6000" d="M15 86h2M19 86h2"/><path stroke="#ff5000" d="M17 86h2"/></g></svg>
<div class="ax" style="left:411.00px;top:837.40px;width:273.40px;height:244.50px"></div>
<div class="t" style="left:381.65px;top:1089.72px;font-size:10.50px;line-height:10.50px;letter-spacing:0.30px;width:60px;text-align:center">135</div>
<div class="t" style="left:449.75px;top:1089.72px;font-size:10.50px;line-height:10.50px;letter-spacing:0.30px;width:60px;text-align:center">140</div>
<div class="tk" style="left:479.10px;top:1078.40px;width:1px;height:2.5px"></div>
<div class="tk" style="left:479.10px;top:838.40px;width:1px;height:2.5px"></div>
<div class="t" style="left:517.85px;top:1089.72px;font-size:10.50px;line-height:10.50px;letter-spacing:0.30px;width:60px;text-align:center">145</div>
<div class="tk" style="left:547.20px;top:1078.40px;width:1px;height:2.5px"></div>
<div class="tk" style="left:547.20px;top:838.40px;width:1px;height:2.5px"></div>
<div class="t" style="left:585.95px;top:1089.72px;font-size:10.50px;line-height:10.50px;letter-spacing:0.30px;width:60px;text-align:center">150</div>
<div class="tk" style="left:615.30px;top:1078.40px;width:1px;height:2.5px"></div>
<div class="tk" style="left:615.30px;top:838.40px;width:1px;height:2.5px"></div>
<div class="t" style="left:654.05px;top:1089.72px;font-size:10.50px;line-height:10.50px;letter-spacing:0.30px;width:60px;text-align:center">155</div>
<div class="t" style="left:346.50px;top:833.37px;font-size:10.50px;line-height:10.50px;letter-spacing:0.30px;width:60px;text-align:right">-620</div>
<div class="t" style="left:346.50px;top:863.81px;font-size:10.50px;line-height:10.50px;letter-spacing:0.30px;width:60px;text-align:right">-600</div>
<div class="tk" style="left:412.00px;top:867.84px;width:2.5px;height:1px"></div>
<div class="tk" style="left:680.90px;top:867.84px;width:2.5px;height:1px"></div>
<div class="t" style="left:346.50px;top:894.25px;font-size:10.50px;line-height:10.50px;letter-spacing:0.30px;width:60px;text-align:right">-580</div>
<div class="tk" style="left:412.00px;top:898.27px;width:2.5px;height:1px"></div>
<div class="tk" style="left:680.90px;top:898.27px;width:2.5px;height:1px"></div>
<div class="t" style="left:346.50px;top:924.68px;font-size:10.50px;line-height:10.50px;letter-spacing:0.30px;width:60px;text-align:right">-560</div>
<div class="tk" style="left:412.00px;top:928.71px;width:2.5px;height:1px"></div>
<div class="tk" style="left:680.90px;top:928.71px;width:2.5px;height:1px"></div>
<div class="t" style="left:346.50px;top:955.12px;font-size:10.50px;line-height:10.50px;letter-spacing:0.30px;width:60px;text-align:right">-540</div>
<div class="tk" style="left:412.00px;top:959.15px;width:2.5px;height:1px"></div>
<div class="tk" style="left:680.90px;top:959.15px;width:2.5px;height:1px"></div>
<div class="t" style="left:346.50px;top:985.56px;font-size:10.50px;line-height:10.50px;letter-spacing:0.30px;width:60px;text-align:right">-520</div>
<div class="tk" style="left:412.00px;top:989.59px;width:2.5px;height:1px"></div>
<div class="tk" style="left:680.90px;top:989.59px;width:2.5px;height:1px"></div>
<div class="t" style="left:346.50px;top:1016.00px;font-size:10.50px;line-height:10.50px;letter-spacing:0.30px;width:60px;text-align:right">-500</div>
<div class="tk" style="left:412.00px;top:1020.03px;width:2.5px;height:1px"></div>
<div class="tk" style="left:680.90px;top:1020.03px;width:2.5px;height:1px"></div>
<div class="t" style="left:346.50px;top:1046.43px;font-size:10.50px;line-height:10.50px;letter-spacing:0.30px;width:60px;text-align:right">-480</div>
<div class="tk" style="left:412.00px;top:1050.46px;width:2.5px;height:1px"></div>
<div class="tk" style="left:680.90px;top:1050.46px;width:2.5px;height:1px"></div>
<div class="t" style="left:346.50px;top:1076.87px;font-size:10.50px;line-height:10.50px;letter-spacing:0.30px;width:60px;text-align:right">-460</div>
<div class="t" style="left:467.95px;top:1105.62px;font-size:12.50px;line-height:12.50px;letter-spacing:0.50px;width:160px;text-align:center">Range bin</div>
<div class="t" style="left:272.07px;top:954.85px;width:200px;height:12.50px;font-size:12.50px;line-height:12.50px;letter-spacing:0.60px;text-align:center;transform:rotate(-90deg)">Doppler Shift [Hz]</div>
<svg class="hm" style="left:762.50px;top:837.90px;width:272.00px;height:243.60px" viewBox="0 0 40 160" preserveAspectRatio="none" shape-rendering="crispEdges"><rect x="0" y="0" width="40" height="160" fill="#bfff40"/><g stroke-width="2"><path stroke="#0030ff" d="M15 48h2"/><path stroke="#0070ff" d="M9 124h2"/><path stroke="#0080ff" d="M35 4h2M23 18h2"/><path stroke="#008fff" d="M1 100h2M7 140h2"/><path stroke="#009fff" d="M5 62h2"/><path stroke="#00afff" d="M1 20h2M29 46h2M5 54h2M17 54h2M33 66h2M35 86h2M5 112h2M25 128h2M13 156h2"/><path stroke="#00bfff" d="M37 72h2M29 114h2M29 116h2"/><path stroke="#00cfff" d="M21 56h2M7 116h2M19 126h2M33 126h2M5 148h2"/><path stroke="#00dfff" d="M23 6h2M29 10h2M37 10h2M5 18h2M35 22h2M17 26h2M21 30h2M37 32h2M25 34h2M1 36h2M13 46h2M11 56h2M11 58h2M9 64h2M25 70h2M13 74h2M25 88h2M27 98h2M27 100h2M33 102h2M13 110h2M3 124h2M21 140h2M35 144h2M35 146h2M35 148h2"/><path stroke="#60ff9f" d="M23 0h2M33 0h4M33 2h2M3 4h2M11 4h2M21 4h2M17 6h2M27 6h2M23 8h2M27 10h2M11 12h4M39 14h2M23 16h4M31 16h2M11 18h2M17 18h2M39 18h2M11 20h2M29 20h6M13 22h6M23 22h2M15 24h2M25 24h2M13 26h2M33 26h4M39 26h2M1 28h4M13 28h10M31 28h2M23 30h2M27 30h2M21 32h2M25 32h2M31 32h2M5 36h4M33 36h2M9 38h2M17 38h2M37 38h2M-1 42h2M17 44h8M39 44h2M33 46h2M33 48h2M37 48h4M25 50h2M7 52h2M37 52h4M3 54h2M31 54h2M27 56h2M35 56h2M1 58h6M21 58h2M25 58h2M35 60h2M35 62h6M21 64h4M35 64h4M35 66h4M33 68h2M9 70h2M3 72h2M-1 74h4M31 74h2M5 76h2M23 76h2M27 78h2M13 80h4M39 80h2M1 82h2M3 86h2M29 86h2M-1 90h2M27 90h2M21 92h6M-1 94h2M15 94h2M5 96h2M21 96h2M37 96h4M25 98h2M3 100h4M31 100h2M35 100h2M31 102h2M3 104h2M9 104h2M21 104h2M39 104h2M9 108h4M-1 110h2M3 112h2M29 112h2M37 112h2M5 114h4M23 114h4M31 114h2M11 116h2M21 118h2M7 120h2M-1 124h4M5 124h4M31 124h2M1 128h2M5 128h2M9 130h2M25 130h2M19 132h2M37 132h2M37 134h4M13 136h2M23 136h2M37 136h2M9 138h2M13 138h2M27 140h2M35 142h2M5 144h2M39 146h2M37 148h4M11 150h2M17 150h2M23 150h4M39 150h2M39 152h2M25 156h2M29 156h2M1 158h2M25 158h2M39 158h2M3 160h6"/><path stroke="#70ff8f" d="M19 0h2M13 4h2M9 6h2M25 10h2M15 12h4M39 12h2M-1 18h2M19 18h2M27 20h2M39 20h2M21 22h2M25 22h2M-1 28h2M31 30h2M11 32h2M29 32h2M23 36h2M5 38h2M5 40h2M31 44h2M23 46h4M31 48h2M27 50h2M39 50h2M25 52h2M13 54h2M39 56h2M-1 58h2M9 58h2M13 66h2M-1 68h2M11 70h2M23 70h2M31 70h2M27 76h2M25 80h2M25 84h2M-1 88h2M7 90h2M37 94h2M35 96h2M7 100h2M37 100h2M1 104h2M33 106h2M13 108h2M33 108h2M3 110h2M17 110h2M21 110h2M9 120h2M17 124h2M29 124h2M3 128h2M15 130h4M11 132h2M27 132h2M-1 136h2M27 136h2M7 138h2M25 138h2M19 140h2M33 140h2M27 144h2M13 150h2M37 150h2M21 152h2M31 152h2M15 156h2M19 158h2M37 158h2M13 160h2"/><path stroke="#80ff80" d="M17 0h2M7 2h2M11 2h2M15 4h2M19 4h2M19 12h2M31 14h2M35 14h2M5 16h2M9 16h2M3 18h2M9 18h2M23 20h2M35 20h2M9 26h4M31 26h2M9 30h2M5 32h2M27 32h2M-1 36h2M7 38h2M7 40h2M1 42h2M5 42h2M7 44h2M37 46h2M29 48h2M29 52h4M-1 54h2M11 54h2M29 54h2M-1 56h2M9 56h2M27 58h2M7 60h2M37 60h2M11 62h2M17 62h2M25 62h2M5 64h2M27 64h2M17 70h2M21 70h2M37 70h2M1 72h2M25 72h2M33 74h4M3 76h2M7 76h2M29 78h2M5 82h4M35 82h2M35 84h2M25 86h4M39 86h2M13 88h2M37 88h2M29 92h4M35 94h2M31 96h4M35 102h2M1 106h2M15 106h2M21 106h2M7 108h2M15 110h2M29 110h2M9 112h2M3 114h2M19 114h2M15 116h2M23 116h2M1 118h4M23 118h2M5 120h2M21 120h2M15 122h2M19 124h2M27 124h2M37 126h4M11 128h2M39 128h2M11 130h2M23 130h2M35 130h2M1 132h2M15 132h4M35 134h2M5 136h4M3 138h4M37 140h2M7 144h6M25 144h2M17 148h2M19 150h2M3 152h2M13 154h2M31 154h2M9 156h2M23 158h2M27 158h2M9 160h2"/><path stroke="#8fff70" d="M9 2h2M35 2h2M39 2h2M19 6h2M29 6h2M35 6h2M19 8h4M23 14h2M27 16h2M37 18h2M13 20h2M25 20h2M11 22h2M-1 26h4M15 26h2M7 28h2M23 28h2M7 32h2M3 34h2M29 34h2M9 36h2M17 36h2M-1 38h2M23 38h2M29 38h2M9 40h4M7 42h2M11 44h2M25 44h2M21 48h2M33 52h2M25 54h2M23 58h2M15 60h2M13 62h2M39 64h2M9 66h2M39 66h2M39 68h2M21 72h2M17 76h6M33 76h2M7 84h2M21 84h2M7 86h2M29 90h2M13 94h2M7 98h2M25 100h2M-1 102h2M-1 104h2M5 106h2M29 106h2M27 108h2M19 110h2M23 110h2M31 112h2M39 112h2M21 114h2M23 120h2M35 126h2M-1 128h2M27 128h2M5 130h2M29 130h4M5 132h2M13 132h2M21 136h2M33 138h2M25 140h2M35 140h2M5 142h4M1 146h2M37 146h2M1 148h2M15 148h2M23 148h2M9 150h2M1 152h2M7 152h4M23 152h2M-1 154h2M9 158h2M35 158h2M11 160h2M37 160h2"/><path stroke="#9fff60" d="M11 0h2M25 0h2M5 2h2M15 2h2M23 2h2M37 2h2M17 4h2M23 4h2M11 6h2M21 6h2M23 10h2M39 10h2M7 12h2M23 12h2M13 14h2M29 14h2M-1 16h2M29 16h2M25 18h2M35 18h2M37 20h2M27 22h2M31 22h2M11 24h2M23 24h2M35 24h2M9 28h2M7 30h2M-1 32h2M15 32h6M13 36h2M25 36h2M15 38h2M25 38h4M33 38h4M37 42h2M35 44h2M35 46h2M35 48h2M5 56h2M37 58h2M-1 60h2M17 60h2M1 62h2M27 62h4M25 64h2M29 66h4M1 68h2M11 68h2M15 70h2M19 70h2M33 70h2M7 72h2M29 74h2M11 76h4M11 78h2M31 78h2M39 78h2M17 82h2M23 82h2M23 84h2M39 84h2M5 86h2M5 88h2M39 88h2M17 90h2M31 90h2M1 94h2M5 94h2M21 94h2M-1 100h2M33 100h2M5 102h2M9 102h2M1 112h2M7 112h2M15 112h2M33 112h2M5 116h2M39 116h2M5 118h2M9 118h4M19 118h2M3 122h2M7 122h2M37 122h4M13 124h2M9 126h4M13 128h2M13 130h2M19 130h2M29 132h2M39 132h2M15 136h2M25 136h2M29 140h4M29 142h4M27 146h2M3 148h2M3 150h2M15 150h2M31 150h4M-1 152h2M11 152h2M25 152h2M29 152h2M15 154h2M27 154h2M33 154h2M35 156h2M39 156h2M7 158h2M17 158h2M21 158h2M1 160h2M15 160h2"/><path stroke="#afff50" d="M13 2h2M27 4h2M37 4h4M25 8h2M35 8h6M9 12h2M37 12h2M13 24h2M29 26h2M37 26h2M35 28h2M13 32h2M11 34h2M15 34h2M33 34h2M15 36h2M21 40h2M25 40h2M19 42h2M13 44h2M27 44h4M31 46h2M13 48h2M13 50h4M29 50h4M37 50h2M5 52h2M33 54h2M1 56h2M13 56h2M7 58h2M21 60h2M23 62h2M3 64h2M11 64h2M17 64h4M21 66h2M9 68h2M13 68h2M29 68h4M35 68h2M23 72h2M33 72h2M3 74h2M27 74h2M33 78h2M9 80h2M19 80h2M27 80h2M31 80h2M3 82h2M25 82h4M33 82h2M39 82h2M27 84h2M1 86h2M21 86h4M3 88h2M9 90h2M37 90h2M9 92h2M27 92h2M35 92h2M19 94h2M33 94h2M17 98h2M13 100h2M19 104h2M3 106h2M11 106h2M23 106h4M31 106h2M37 106h2M1 108h4M21 108h2M5 110h2M25 110h2M35 112h2M35 114h2M17 116h2M21 116h2M35 118h4M11 122h2M31 122h2M35 122h2M25 124h2M13 126h2M31 126h2M23 128h2M27 130h2M-1 132h2M35 132h2M-1 134h2M13 134h2M31 134h4M9 136h2M35 136h2M11 138h2M19 138h2M23 138h2M31 138h2M1 142h4M9 142h2M33 142h2M39 142h2M3 146h2M21 148h2M31 148h2M1 150h2M15 152h2M33 152h2M1 154h2M11 154h2M17 154h2M39 154h2M27 156h2M3 158h2M-1 160h2"/><path stroke="#bfff40" d="M21 0h2M37 0h2M17 2h2M25 2h2M29 2h2M5 4h2M13 6h2M37 6h2M-1 10h2M21 12h2M25 12h2M31 12h2M35 12h2M1 14h2M5 14h2M25 14h2M37 14h2M1 16h2M7 16h2M21 16h2M33 16h4M1 18h2M21 18h2M27 18h2M9 22h2M1 24h2M5 24h2M5 28h2M11 28h2M37 28h4M3 30h4M13 30h2M25 30h2M29 30h2M1 32h4M9 32h2M23 32h2M5 34h2M13 34h2M17 34h2M19 36h4M19 38h2M23 40h2M27 40h2M39 42h2M1 44h2M-1 48h2M9 48h2M19 48h2M27 48h2M3 50h2M19 50h2M-1 52h2M3 52h2M11 52h2M15 52h2M23 52h2M27 52h2M1 54h2M7 54h2M35 54h2M17 58h2M3 60h2M23 60h2M33 60h2M19 62h2M1 64h2M7 64h2M13 64h2M11 66h2M17 68h4M25 68h2M37 68h2M13 70h2M-1 72h2M5 72h2M19 72h2M35 72h2M25 76h2M5 78h2M25 78h2M21 80h2M29 80h2M37 80h2M29 82h2M-1 84h2M3 84h4M9 84h2M31 84h2M1 88h2M1 90h2M15 90h2M39 90h2M17 94h2M13 96h2M27 96h2M23 98h2M31 98h2M19 100h2M7 102h2M17 102h2M23 102h2M37 102h4M7 104h2M23 104h2M-1 106h2M19 106h2M37 108h2M7 110h2M27 110h2M9 114h6M13 116h2M33 116h4M7 118h2M25 118h2M31 120h2M37 120h2M13 122h2M29 122h2M11 124h2M37 124h2M5 126h4M7 134h2M29 136h2M35 138h2M39 138h2M15 140h2M23 140h2M13 142h2M-1 144h2M3 144h2M15 144h2M-1 146h2M17 146h6M29 146h2M11 148h4M17 152h4M9 154h2M5 156h2M21 156h2M37 156h2M5 158h2M17 160h2M31 160h6"/><path stroke="#cfff30" d="M27 0h2M3 2h2M27 2h2M31 2h2M9 4h2M7 6h2M31 6h2M27 8h2M35 10h2M29 12h2M33 14h2M3 22h2M37 22h4M7 24h4M21 24h2M27 24h2M33 24h2M37 24h2M3 26h4M33 28h2M-1 30h4M33 30h2M39 30h2M39 32h2M7 34h2M27 34h2M35 34h2M3 36h2M39 36h2M1 38h4M11 38h2M21 38h2M31 38h2M31 40h2M3 42h2M9 46h2M27 46h2M39 46h2M7 48h2M25 48h2M-1 50h2M5 50h2M35 50h2M9 54h2M37 54h2M7 56h2M15 56h2M19 56h2M25 56h2M29 56h6M39 58h2M31 60h2M39 60h2M15 62h2M33 62h2M7 68h2M21 68h2M27 68h2M7 70h2M29 70h2M31 72h2M5 74h2M37 74h2M1 76h2M9 76h2M29 76h2M5 80h2M-1 82h2M29 84h2M-1 86h2M11 90h2M33 90h2M3 92h2M3 94h2M11 94h2M29 94h4M3 96h2M17 96h2M5 98h2M9 100h2M39 100h2M1 102h2M11 102h2M27 104h4M35 104h2M39 106h2M15 108h2M23 108h2M35 108h2M39 108h2M1 110h2M31 110h2M27 112h2M33 114h2M1 116h2M19 116h2M25 116h2M37 116h2M27 118h2M31 118h2M11 120h2M21 122h2M15 124h2M21 124h4M39 124h2M-1 126h2M21 126h2M27 126h4M15 128h2M19 128h4M33 128h2M3 130h2M33 130h2M37 130h2M23 132h2M33 132h2M15 134h2M29 134h2M31 136h2M21 138h2M27 138h2M37 138h2M5 140h2M39 140h2M-1 142h2M37 142h2M39 144h2M7 146h2M-1 148h2M27 150h2M13 152h2M35 152h4M19 156h2M31 156h2M29 158h2M29 160h2"/><path stroke="#dfff20" d="M1 0h2M9 0h2M25 4h2M-1 6h2M25 6h2M33 6h2M11 8h2M31 8h4M7 10h2M3 12h2M33 12h2M7 14h2M19 14h2M3 16h2M11 16h4M19 16h2M7 18h2M29 18h2M17 20h2M21 20h2M5 22h4M19 22h2M29 22h2M21 26h4M25 28h2M11 30h2M17 30h2M33 32h2M19 34h2M39 34h2M27 36h6M13 40h4M19 40h2M29 40h2M37 40h2M5 44h2M9 44h2M37 44h2M11 48h2M1 50h2M23 50h2M1 52h2M23 54h2M39 54h2M3 56h2M31 58h4M5 60h2M9 60h2M29 60h2M-1 62h2M9 62h2M21 62h2M29 64h2M33 64h2M7 66h2M15 66h2M15 68h2M35 70h2M39 70h2M29 72h2M39 72h2M17 74h2M31 76h2M39 76h2M13 78h2M3 80h2M11 80h2M35 80h2M13 82h2M1 84h2M37 84h2M11 86h2M17 88h2M27 88h2M35 88h2M5 90h2M7 92h2M37 92h2M25 94h2M39 94h2M-1 98h2M3 98h2M15 98h2M19 98h4M11 100h2M3 102h2M13 102h2M19 102h2M5 104h2M25 104h2M37 104h2M7 106h2M13 106h2M-1 108h2M29 108h2M9 110h4M33 110h2M11 112h4M25 112h2M15 114h2M-1 116h2M15 118h2M39 118h2M15 120h2M29 120h2M33 120h2M39 120h2M9 122h2M35 124h2M15 126h2M17 128h2M21 130h2M21 132h2M31 132h2M1 134h4M11 134h2M19 134h4M27 134h2M1 136h2M11 136h2M39 136h2M1 138h2M15 138h2M9 140h2M11 142h2M17 142h4M19 144h2M23 144h2M37 144h2M9 148h2M25 148h2M5 150h2M5 152h2M35 154h4M7 156h2M11 156h2M33 156h2M-1 158h2M21 160h2M39 160h2"/><path stroke="#efff10" d="M3 0h2M15 0h2M-1 4h2M7 4h2M33 4h2M5 6h2M1 8h2M9 8h2M15 8h4M1 10h2M9 10h2M1 12h2M-1 14h2M15 14h2M15 16h2M39 16h2M-1 20h2M15 20h2M33 22h2M3 24h2M39 24h2M7 26h2M27 28h2M15 30h2M19 30h2M35 30h2M1 34h2M31 34h2M39 38h2M17 40h2M35 40h2M29 42h2M-1 44h2M3 44h2M33 44h2M7 46h2M3 48h4M17 48h2M17 52h4M15 54h2M27 54h2M37 56h2M19 58h2M1 60h2M13 60h2M7 62h2M31 62h2M31 64h2M-1 66h6M17 66h2M17 72h2M21 74h4M-1 76h2M37 76h2M15 78h4M1 80h2M17 80h2M33 84h2M7 88h2M19 88h2M29 88h2M3 90h2M35 90h2M-1 92h2M39 92h2M7 94h2M11 96h2M23 96h2M9 98h4M29 98h2M37 98h2M15 102h2M15 104h2M17 106h2M27 106h2M5 108h2M31 108h2M27 114h2M3 116h2M27 116h2M-1 118h2M13 118h2M13 120h2M27 120h2M1 122h2M23 122h2M33 122h2M33 124h2M7 128h2M29 128h2M35 128h4M7 130h2M25 132h2M23 134h4M3 136h2M33 136h2M29 138h2M17 140h2M21 142h2M17 144h2M29 144h2M5 146h2M19 148h2M33 148h2M7 150h2M29 150h2M5 154h2M19 154h2M23 156h2M11 158h2M15 158h2M33 158h2M25 160h2"/><path stroke="#ffff00" d="M5 0h2M13 0h2M19 2h2M1 4h2M15 6h2M7 8h2M11 10h2M17 10h2M-1 12h2M5 12h2M11 14h2M17 14h2M21 14h2M17 16h2M37 16h2M3 20h2M7 20h2M-1 22h2M29 24h2M19 26h2M9 34h2M35 36h2M13 38h2M3 40h2M27 42h2M1 46h2M11 46h2M21 46h2M23 48h2M11 50h2M33 50h2M17 56h2M23 56h2M13 58h2M11 60h2M19 60h2M25 60h4M15 64h2M5 66h2M27 66h2M3 68h2M23 68h2M-1 70h2M5 70h2M7 74h2M11 74h2M15 74h2M19 74h2M39 74h2M35 76h2M1 78h2M7 78h4M35 78h2M7 80h2M9 82h4M21 82h2M11 84h2M31 86h2M37 86h2M5 92h2M27 94h2M7 96h2M19 96h2M29 96h2M13 98h2M29 100h2M17 108h2M-1 112h2M1 114h2M39 114h2M33 118h2M3 120h2M25 120h2M35 120h2M-1 122h2M17 122h2M17 126h2M9 128h2M1 130h2M39 130h2M5 134h2M9 134h2M1 140h4M11 140h4M1 144h2M13 144h2M23 146h4M31 146h4M7 148h2M21 150h2M35 150h2M3 154h2M23 154h2M29 154h2M-1 156h2M17 156h2M27 160h2"/><path stroke="#ffef00" d="M-1 0h2M31 0h2M39 0h2M-1 2h4M29 4h2M39 6h2M3 8h4M3 14h2M27 14h2M33 18h2M19 20h2M17 24h4M27 26h2M29 28h2M11 36h2M-1 40h2M39 40h2M-1 46h2M3 46h4M15 46h2M7 50h2M21 50h2M9 52h2M13 52h2M21 52h2M23 66h2M5 68h2M1 70h2M27 70h2M9 72h2M27 72h2M25 74h2M15 76h2M3 78h2M19 78h2M23 78h2M-1 80h2M23 80h2M19 82h2M9 88h2M21 88h2M19 90h2M1 92h2M11 92h2M23 94h2M21 102h2M25 102h2M11 104h4M33 104h2M19 108h2M25 108h2M35 110h2M19 112h2M9 116h2M31 116h2M-1 120h4M17 120h2M5 122h2M25 126h2M31 128h2M9 132h2M-1 140h2M13 146h4M29 148h2M27 152h2M25 154h2M1 156h2"/><path stroke="#ffdf00" d="M7 0h2M29 0h2M21 2h2M31 4h2M1 6h4M-1 8h2M13 8h2M29 8h2M3 10h4M13 10h4M19 10h4M27 12h2M9 14h2M31 18h2M5 20h2M1 22h2M-1 24h2M25 26h2M37 30h2M35 32h2M-1 34h2M21 34h4M37 34h2M1 40h2M33 40h2M9 42h10M21 42h4M31 42h6M17 46h4M1 48h2M9 50h2M19 54h4M15 58h2M35 58h2M3 62h2M-1 64h2M19 66h2M25 66h2M3 70h2M11 72h2M9 74h2M-1 78h2M21 78h2M37 78h2M33 80h2M31 82h2M37 82h2M9 86h2M33 86h2M11 88h2M23 88h2M31 88h4M21 90h6M33 92h2M9 94h2M-1 96h4M9 96h2M15 96h2M25 96h2M1 98h2M33 98h4M39 98h2M15 100h4M27 102h4M17 104h2M31 104h2M9 106h2M37 110h4M17 112h2M21 112h4M-1 114h2M17 114h2M17 118h2M29 118h2M19 122h2M25 122h4M1 126h4M23 126h2M-1 130h2M17 134h2M19 136h2M-1 138h2M17 138h2M15 142h2M23 142h6M31 144h4M9 146h4M27 148h2M-1 150h2M7 154h2M21 154h2M3 156h2M13 158h2M31 158h2M19 160h2M23 160h2"/><path stroke="#ffbf00" d="M9 20h2M37 36h2M25 42h2M29 58h2M15 88h2M13 90h2M23 100h2M35 106h2M37 114h2M19 120h2M3 132h2M7 132h2M17 136h2M21 144h2"/><path stroke="#ffaf00" d="M31 10h4M13 18h4M31 24h2M15 44h2M17 50h2M35 52h2M15 82h2M19 84h2M21 100h2"/><path stroke="#ff9f00" d="M13 72h4M13 84h2M19 86h2M13 92h8"/><path stroke="#ff8f00" d="M17 84h2M13 86h2"/><path stroke="#ff8000" d="M17 86h2"/><path stroke="#ff6000" d="M15 84h2"/><path stroke="#ff3000" d="M15 86h2"/></g></svg>
<div class="ax" style="left:762.00px;top:837.40px;width:273.00px;height:244.60px"></div>
<div class="t" style="left:732.65px;top:1089.82px;font-size:10.50px;line-height:10.50px;letter-spacing:0.30px;width:60px;text-align:center">135</div>
<div class="t" style="left:800.65px;top:1089.82px;font-size:10.50px;line-height:10.50px;letter-spacing:0.30px;width:60px;text-align:center">140</div>
<div class="tk" style="left:830.00px;top:1078.50px;width:1px;height:2.5px"></div>
<div class="tk" style="left:830.00px;top:838.40px;width:1px;height:2.5px"></div>
<div class="t" style="left:868.65px;top:1089.82px;font-size:10.50px;line-height:10.50px;letter-spacing:0.30px;width:60px;text-align:center">145</div>
<div class="tk" style="left:898.00px;top:1078.50px;width:1px;height:2.5px"></div>
<div class="tk" style="left:898.00px;top:838.40px;width:1px;height:2.5px"></div>
<div class="t" style="left:936.65px;top:1089.82px;font-size:10.50px;line-height:10.50px;letter-spacing:0.30px;width:60px;text-align:center">150</div>
<div class="tk" style="left:966.00px;top:1078.50px;width:1px;height:2.5px"></div>
<div class="tk" style="left:966.00px;top:838.40px;width:1px;height:2.5px"></div>
<div class="t" style="left:1004.65px;top:1089.82px;font-size:10.50px;line-height:10.50px;letter-spacing:0.30px;width:60px;text-align:center">155</div>
<div class="t" style="left:697.50px;top:833.37px;font-size:10.50px;line-height:10.50px;letter-spacing:0.30px;width:60px;text-align:right">-620</div>
<div class="t" style="left:697.50px;top:863.82px;font-size:10.50px;line-height:10.50px;letter-spacing:0.30px;width:60px;text-align:right">-600</div>
<div class="tk" style="left:763.00px;top:867.85px;width:2.5px;height:1px"></div>
<div class="tk" style="left:1031.50px;top:867.85px;width:2.5px;height:1px"></div>
<div class="t" style="left:697.50px;top:894.27px;font-size:10.50px;line-height:10.50px;letter-spacing:0.30px;width:60px;text-align:right">-580</div>
<div class="tk" style="left:763.00px;top:898.30px;width:2.5px;height:1px"></div>
<div class="tk" style="left:1031.50px;top:898.30px;width:2.5px;height:1px"></div>
<div class="t" style="left:697.50px;top:924.72px;font-size:10.50px;line-height:10.50px;letter-spacing:0.30px;width:60px;text-align:right">-560</div>
<div class="tk" style="left:763.00px;top:928.75px;width:2.5px;height:1px"></div>
<div class="tk" style="left:1031.50px;top:928.75px;width:2.5px;height:1px"></div>
<div class="t" style="left:697.50px;top:955.17px;font-size:10.50px;line-height:10.50px;letter-spacing:0.30px;width:60px;text-align:right">-540</div>
<div class="tk" style="left:763.00px;top:959.20px;width:2.5px;height:1px"></div>
<div class="tk" style="left:1031.50px;top:959.20px;width:2.5px;height:1px"></div>
<div class="t" style="left:697.50px;top:985.62px;font-size:10.50px;line-height:10.50px;letter-spacing:0.30px;width:60px;text-align:right">-520</div>
<div class="tk" style="left:763.00px;top:989.65px;width:2.5px;height:1px"></div>
<div class="tk" style="left:1031.50px;top:989.65px;width:2.5px;height:1px"></div>
<div class="t" style="left:697.50px;top:1016.07px;font-size:10.50px;line-height:10.50px;letter-spacing:0.30px;width:60px;text-align:right">-500</div>
<div class="tk" style="left:763.00px;top:1020.10px;width:2.5px;height:1px"></div>
<div class="tk" style="left:1031.50px;top:1020.10px;width:2.5px;height:1px"></div>
<div class="t" style="left:697.50px;top:1046.52px;font-size:10.50px;line-height:10.50px;letter-spacing:0.30px;width:60px;text-align:right">-480</div>
<div class="tk" style="left:763.00px;top:1050.55px;width:2.5px;height:1px"></div>
<div class="tk" style="left:1031.50px;top:1050.55px;width:2.5px;height:1px"></div>
<div class="t" style="left:697.50px;top:1076.97px;font-size:10.50px;line-height:10.50px;letter-spacing:0.30px;width:60px;text-align:right">-460</div>
<div class="t" style="left:818.75px;top:1105.62px;font-size:12.50px;line-height:12.50px;letter-spacing:0.50px;width:160px;text-align:center">Range bin</div>
<div class="t" style="left:622.77px;top:954.85px;width:200px;height:12.50px;font-size:12.50px;line-height:12.50px;letter-spacing:0.60px;text-align:center;transform:rotate(-90deg)">Doppler Shift [Hz]</div>
<div style="position:absolute;left:1052.90px;top:837.70px;width:14.10px;height:243.90px;background:linear-gradient(to bottom,#800000 0.000%,#800000 1.562%,#8f0000 1.562%,#8f0000 3.125%,#9f0000 3.125%,#9f0000 4.688%,#af0000 4.688%,#af0000 6.250%,#bf0000 6.250%,#bf0000 7.812%,#cf0000 7.812%,#cf0000 9.375%,#df0000 9.375%,#df0000 10.938%,#ef0000 10.938%,#ef0000 12.500%,#ff0000 12.500%,#ff0000 14.062%,#ff1000 14.062%,#ff1000 15.625%,#ff2000 15.625%,#ff2000 17.188%,#ff3000 17.188%,#ff3000 18.750%,#ff4000 18.750%,#ff4000 20.312%,#ff5000 20.312%,#ff5000 21.875%,#ff6000 21.875%,#ff6000 23.438%,#ff7000 23.438%,#ff7000 25.000%,#ff8000 25.000%,#ff8000 26.562%,#ff8f00 26.562%,#ff8f00 28.125%,#ff9f00 28.125%,#ff9f00 29.688%,#ffaf00 29.688%,#ffaf00 31.250%,#ffbf00 31.250%,#ffbf00 32.812%,#ffcf00 32.812%,#ffcf00 34.375%,#ffdf00 34.375%,#ffdf00 35.938%,#ffef00 35.938%,#ffef00 37.500%,#ffff00 37.500%,#ffff00 39.062%,#efff10 39.062%,#efff10 40.625%,#dfff20 40.625%,#dfff20 42.188%,#cfff30 42.188%,#cfff30 43.750%,#bfff40 43.750%,#bfff40 45.312%,#afff50 45.312%,#afff50 46.875%,#9fff60 46.875%,#9fff60 48.438%,#8fff70 48.438%,#8fff70 50.000%,#80ff80 50.000%,#80ff80 51.562%,#70ff8f 51.562%,#70ff8f 53.125%,#60ff9f 53.125%,#60ff9f 54.688%,#50ffaf 54.688%,#50ffaf 56.250%,#40ffbf 56.250%,#40ffbf 57.812%,#30ffcf 57.812%,#30ffcf 59.375%,#20ffdf 59.375%,#20ffdf 60.938%,#10ffef 60.938%,#10ffef 62.500%,#00ffff 62.500%,#00ffff 64.062%,#00efff 64.062%,#00efff 65.625%,#00dfff 65.625%,#00dfff 67.188%,#00cfff 67.188%,#00cfff 68.750%,#00bfff 68.750%,#00bfff 70.312%,#00afff 70.312%,#00afff 71.875%,#009fff 71.875%,#009fff 73.438%,#008fff 73.438%,#008fff 75.000%,#0080ff 75.000%,#0080ff 76.562%,#0070ff 76.562%,#0070ff 78.125%,#0060ff 78.125%,#0060ff 79.688%,#0050ff 79.688%,#0050ff 81.250%,#0040ff 81.250%,#0040ff 82.812%,#0030ff 82.812%,#0030ff 84.375%,#0020ff 84.375%,#0020ff 85.938%,#0010ff 85.938%,#0010ff 87.500%,#0000ff 87.500%,#0000ff 89.062%,#0000ef 89.062%,#0000ef 90.625%,#0000df 90.625%,#0000df 92.188%,#0000cf 92.188%,#0000cf 93.750%,#0000bf 93.750%,#0000bf 95.312%,#0000af 95.312%,#0000af 96.875%,#00009f 96.875%,#00009f 98.438%,#00008f 98.438%,#00008f 100.000%)"></div>
<div class="ax" style="left:1052.40px;top:837.20px;width:15.10px;height:244.90px"></div>
<div class="t" style="left:1071.70px;top:1077.22px;font-size:10.20px;line-height:10.20px;letter-spacing:-0.10px">180</div>
<div class="t" style="left:1071.70px;top:1046.73px;font-size:10.20px;line-height:10.20px;letter-spacing:-0.10px">190</div>
<div class="tk" style="left:1064.00px;top:1050.61px;width:2.5px;height:1px"></div>
<div class="t" style="left:1071.70px;top:1016.24px;font-size:10.20px;line-height:10.20px;letter-spacing:-0.10px">200</div>
<div class="tk" style="left:1064.00px;top:1020.12px;width:2.5px;height:1px"></div>
<div class="t" style="left:1071.70px;top:985.75px;font-size:10.20px;line-height:10.20px;letter-spacing:-0.10px">210</div>
<div class="tk" style="left:1064.00px;top:989.64px;width:2.5px;height:1px"></div>
<div class="t" style="left:1071.70px;top:955.27px;font-size:10.20px;line-height:10.20px;letter-spacing:-0.10px">220</div>
<div class="tk" style="left:1064.00px;top:959.15px;width:2.5px;height:1px"></div>
<div class="t" style="left:1071.70px;top:924.78px;font-size:10.20px;line-height:10.20px;letter-spacing:-0.10px">230</div>
<div class="tk" style="left:1064.00px;top:928.66px;width:2.5px;height:1px"></div>
<div class="t" style="left:1071.70px;top:894.29px;font-size:10.20px;line-height:10.20px;letter-spacing:-0.10px">240</div>
<div class="tk" style="left:1064.00px;top:898.17px;width:2.5px;height:1px"></div>
<div class="t" style="left:1071.70px;top:863.80px;font-size:10.20px;line-height:10.20px;letter-spacing:-0.10px">250</div>
<div class="tk" style="left:1064.00px;top:867.69px;width:2.5px;height:1px"></div>
<div class="t" style="left:1071.70px;top:833.32px;font-size:10.20px;line-height:10.20px;letter-spacing:-0.10px">260</div>
</div>
<svg style="position:absolute;left:0;top:0;filter:blur(0.4px)" width="1113" height="1203" viewBox="0 0 1113 1203" fill="none" stroke="#000"><rect x="169.50" y="91.70" width="73.70" height="61.60" stroke-width="1.3"/><rect x="533.40" y="90.70" width="73.30" height="35.40" stroke-width="1.3"/><rect x="900.60" y="91.40" width="30.90" height="35.80" stroke-width="1.3"/><rect x="159.00" y="524.40" width="67.20" height="47.00" stroke-width="1.9"/><rect x="505.00" y="525.50" width="68.60" height="20.30" stroke-width="1.9"/><rect x="853.00" y="522.40" width="36.40" height="21.90" stroke-width="1.9"/><rect x="159.00" y="954.80" width="69.00" height="35.10" stroke-width="1.9"/><rect x="504.80" y="959.00" width="70.20" height="18.90" stroke-width="1.9"/><rect x="852.90" y="957.00" width="40.60" height="17.00" stroke-width="1.9"/></svg>
<div class="grp" style="filter:blur(0.30px)">
<div class="cp" style="left:470.51px;top:323.99px;font-size:43px;line-height:43px;transform:scaleX(0.87);transform-origin:0 0">(</div>
<div class="cp" style="left:483.10px;top:323.99px;font-size:43px;line-height:43px"><b>a</b></div>
<div class="cp" style="left:503.83px;top:323.99px;font-size:43px;line-height:43px;transform:scaleX(0.87);transform-origin:0 0">)</div>
<div class="cp" style="left:523.10px;top:330.69px;font-size:35px;line-height:35px">CPI <span style="position:relative;top:3.3px">=</span> 4</div>
<div class="cp" style="left:460.71px;top:733.99px;font-size:43px;line-height:43px;transform:scaleX(0.87);transform-origin:0 0">(</div>
<div class="cp" style="left:473.40px;top:733.99px;font-size:43px;line-height:43px"><b>b</b></div>
<div class="cp" style="left:499.13px;top:733.99px;font-size:43px;line-height:43px;transform:scaleX(0.87);transform-origin:0 0">)</div>
<div class="cp" style="left:518.10px;top:740.69px;font-size:35px;line-height:35px">CPI <span style="position:relative;top:3.3px">=</span> 41</div>
<div class="cp" style="left:467.51px;top:1150.99px;font-size:43px;line-height:43px;transform:scaleX(0.87);transform-origin:0 0">(</div>
<div class="cp" style="left:480.50px;top:1150.99px;font-size:43px;line-height:43px"><b>c</b></div>
<div class="cp" style="left:498.83px;top:1150.99px;font-size:43px;line-height:43px;transform:scaleX(0.87);transform-origin:0 0">)</div>
<div class="cp" style="left:518.20px;top:1157.69px;font-size:35px;line-height:35px">CPI <span style="position:relative;top:3.3px">=</span> 72</div>
</div>
</div></body></html>
